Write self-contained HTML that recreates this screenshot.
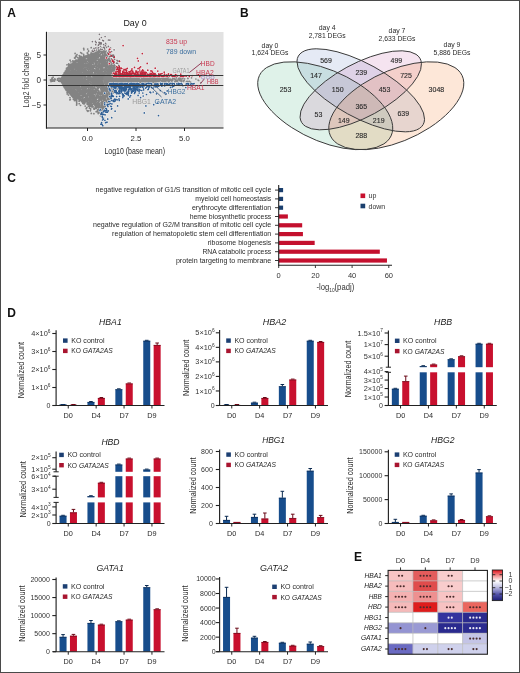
<!DOCTYPE html>
<html><head><meta charset="utf-8"><style>
html,body{margin:0;padding:0;background:#fff;}
body{width:520px;height:673px;overflow:hidden;}
svg{display:block;font-family:"Liberation Sans",sans-serif;will-change:transform;}
</style></head><body>
<svg width="520" height="673" viewBox="0 0 520 673">
<rect x="0" y="0" width="520" height="673" fill="#fff"/>
<text x="7.30" y="16.90" font-size="12" fill="#111" font-weight="bold">A</text>
<text x="123.40" y="26.00" font-size="9.4" fill="#222" textLength="23.20" lengthAdjust="spacingAndGlyphs">Day 0</text>
<rect x="48.00" y="32.00" width="175.50" height="96.00" fill="#e2e2e2" />
<path d="M109.9 91.0h0M92.0 68.6h0M63.3 78.7h0M85.3 58.0h0M63.0 85.0h0M74.5 76.9h0M120.4 86.3h0M112.3 74.4h0M90.6 89.5h0M63.8 80.7h0M76.8 94.2h0M64.0 82.5h0M113.9 70.3h0M115.5 87.7h0M103.9 50.1h0M87.1 65.4h0M80.1 92.2h0M79.6 64.1h0M103.3 77.0h0M109.5 66.5h0M79.8 91.8h0M91.4 80.5h0M74.6 61.5h0M65.3 86.2h0M82.8 100.0h0M84.8 100.5h0M94.5 65.5h0M106.0 88.9h0M102.4 78.0h0M73.8 84.2h0M66.6 84.1h0M99.4 72.8h0M109.5 64.7h0M84.2 93.6h0M83.6 89.4h0M98.0 105.9h0M121.5 83.2h0M110.1 63.6h0M104.2 100.4h0M84.9 82.3h0M89.7 104.0h0M79.7 74.8h0M86.1 86.3h0M118.0 87.5h0M111.0 64.9h0M85.1 59.4h0M113.2 88.1h0M68.7 80.3h0M76.0 78.9h0M94.3 58.1h0M113.6 71.5h0M87.7 58.0h0M72.1 74.0h0M117.5 87.1h0M89.8 77.8h0M101.4 101.9h0M80.9 92.0h0M84.7 84.2h0M105.7 79.4h0M102.8 92.4h0M62.4 77.3h0M73.2 69.0h0M63.0 77.1h0M97.3 102.5h0M81.7 73.3h0M85.8 88.7h0M108.7 98.9h0M83.3 89.0h0M81.2 93.5h0M74.3 92.7h0M91.3 92.2h0M93.2 70.0h0M90.6 56.5h0M62.7 80.3h0M89.6 97.5h0M94.5 79.5h0M97.1 93.3h0M92.5 83.5h0M90.5 86.2h0M75.4 81.2h0M101.7 61.4h0M121.4 83.6h0M119.2 75.7h0M87.5 68.2h0M113.4 67.9h0M102.8 64.9h0M64.1 75.6h0M102.0 80.3h0M94.0 77.5h0M77.0 78.7h0M117.2 72.7h0M105.4 65.3h0M72.0 73.5h0M65.8 88.4h0M82.6 64.7h0M63.7 76.3h0M85.9 84.8h0M120.8 86.0h0M75.0 83.4h0M117.1 70.5h0M113.0 74.7h0M108.5 69.8h0M98.8 80.5h0M66.5 85.5h0M111.0 77.3h0M84.1 100.6h0M83.2 97.0h0M86.0 73.8h0M82.4 59.5h0M77.2 68.4h0M63.9 80.6h0M87.4 56.4h0M69.7 91.5h0M68.3 76.3h0M118.9 72.2h0M85.4 94.3h0M64.2 86.3h0M102.4 65.6h0M89.8 67.2h0M115.3 89.7h0M64.4 80.3h0M71.4 76.2h0M106.0 91.1h0M71.8 73.8h0M86.4 74.4h0M102.3 97.8h0M80.8 76.6h0M64.2 78.0h0M118.7 79.4h0M94.5 86.0h0M95.2 97.2h0M76.1 72.2h0M115.0 78.3h0M119.5 73.0h0M108.6 77.0h0M89.4 99.9h0M68.1 80.0h0M75.5 73.3h0M110.7 74.0h0M108.6 55.4h0M119.2 82.6h0M72.2 84.5h0M71.8 75.1h0M71.3 90.0h0M75.1 91.4h0M63.6 74.6h0M110.7 58.8h0M74.0 70.8h0M96.2 63.1h0M120.4 77.3h0M95.4 84.2h0M77.5 88.6h0M121.5 81.2h0M65.2 85.4h0M101.3 79.6h0M100.6 65.8h0M78.8 79.7h0M64.2 81.3h0M71.3 71.4h0M115.8 80.7h0M75.1 86.7h0M121.8 85.8h0M109.5 70.8h0M96.2 84.9h0M65.5 83.5h0M92.3 81.3h0M105.7 55.5h0M75.8 62.9h0M79.4 81.6h0M62.4 78.4h0M75.9 66.0h0M109.1 99.1h0M116.8 77.6h0M64.1 77.8h0M92.5 73.6h0M105.3 93.3h0M115.6 77.7h0M74.8 94.4h0M114.8 68.5h0M73.1 84.8h0M110.9 95.9h0M94.2 95.6h0M94.5 81.1h0M74.8 84.8h0M96.1 105.5h0M71.8 67.0h0M81.9 71.5h0M88.1 63.6h0M103.8 99.3h0M116.4 69.4h0M79.0 78.5h0M86.3 66.1h0M105.2 98.8h0M74.1 67.2h0M92.2 61.2h0M118.3 86.0h0M111.8 74.8h0M108.8 73.2h0M88.4 60.2h0M62.3 81.2h0M72.0 94.3h0M95.0 84.4h0M115.5 73.4h0M73.6 77.8h0M69.4 73.2h0M105.7 72.4h0M81.2 67.4h0M112.3 87.3h0M97.3 82.5h0M92.2 58.7h0M95.3 107.7h0M88.9 77.3h0M119.4 82.2h0M111.3 79.3h0M62.6 80.3h0M99.0 55.7h0M89.8 103.2h0M102.3 104.2h0M69.7 89.4h0M73.8 80.6h0M107.4 58.7h0M89.6 99.2h0M82.0 92.7h0M88.2 102.7h0M84.8 95.1h0M64.7 77.3h0M69.0 76.8h0M85.1 67.4h0M86.0 88.8h0M95.8 65.4h0M104.1 92.3h0M86.2 78.0h0M70.7 89.6h0M82.1 70.0h0M117.6 75.1h0M72.3 75.3h0M92.0 86.3h0M84.7 88.5h0M87.8 77.5h0M77.1 91.7h0M88.1 59.8h0M81.7 78.6h0M82.3 61.4h0M115.1 69.4h0M105.2 75.1h0M90.7 89.5h0M90.4 78.0h0M90.4 77.9h0M80.8 62.4h0M82.6 87.2h0M110.8 88.3h0M81.0 78.7h0M110.5 80.6h0M109.7 86.2h0M64.5 87.4h0M97.4 66.0h0M90.3 57.3h0M107.3 85.9h0M74.5 91.2h0M93.9 103.9h0M110.9 62.4h0M74.7 92.0h0M62.0 77.8h0M110.3 67.9h0M81.0 58.9h0M67.9 67.3h0M97.9 59.2h0M111.7 77.5h0M97.2 89.4h0M72.7 89.6h0M85.5 79.8h0M67.8 73.5h0M88.2 91.6h0M88.4 83.3h0M106.9 73.4h0M94.8 105.0h0M62.4 79.7h0M100.6 79.5h0M66.4 80.1h0M64.9 72.6h0M81.0 65.0h0M91.3 103.8h0M111.8 78.8h0M108.4 95.8h0M112.2 65.9h0M115.3 68.8h0M105.5 53.7h0M78.6 63.8h0M98.5 69.2h0M95.1 64.2h0M84.8 98.8h0M97.0 79.2h0M66.8 73.8h0M69.7 76.7h0M106.0 94.0h0M66.7 72.2h0M82.3 94.9h0M90.0 82.2h0M78.0 81.2h0M97.5 70.5h0M97.3 94.8h0M81.9 77.3h0M68.1 73.4h0M115.6 84.2h0M96.3 97.1h0M70.9 74.6h0M96.1 100.3h0M93.5 59.5h0M62.7 75.8h0M115.5 69.6h0M110.2 59.1h0M111.8 85.2h0M89.3 79.0h0M73.6 94.4h0M76.9 69.9h0M107.8 82.2h0M92.0 84.0h0M66.9 70.8h0M120.7 82.9h0M98.1 83.6h0M74.6 66.7h0M81.3 83.0h0M117.6 78.2h0M79.0 98.1h0M78.4 78.3h0M89.6 56.6h0M66.6 68.9h0M83.5 87.9h0M87.7 80.0h0M113.6 74.9h0M66.3 83.4h0M61.8 80.1h0M82.9 76.1h0M105.1 98.9h0M119.7 84.4h0M110.8 95.1h0M83.9 72.3h0M61.7 79.8h0M63.5 76.6h0M85.6 75.6h0M107.4 76.6h0M103.8 51.4h0M104.7 94.9h0M81.8 85.4h0M68.5 87.7h0M120.3 84.4h0M98.4 96.7h0M100.1 55.9h0M116.8 69.1h0M77.8 82.1h0M73.8 76.5h0M81.7 86.7h0M92.1 97.9h0M98.5 93.1h0M101.9 105.2h0M68.4 87.0h0M108.7 58.7h0M98.1 69.0h0M82.9 102.1h0M89.6 95.6h0M84.2 62.3h0M120.8 74.0h0M67.5 78.7h0M93.7 95.9h0M121.9 75.9h0M119.7 86.4h0M115.8 76.2h0M72.4 82.5h0M86.8 90.4h0M71.9 78.3h0M116.6 80.8h0M117.5 84.2h0M68.3 83.4h0M71.4 65.5h0M84.2 64.7h0M101.2 66.8h0M75.0 81.2h0M92.5 98.9h0M110.9 94.9h0M66.9 69.5h0M106.6 73.4h0M63.3 80.3h0M79.9 66.8h0M101.2 94.3h0M76.1 85.7h0M74.0 93.0h0M84.7 78.5h0M70.4 78.2h0M77.2 90.5h0M68.4 80.5h0M85.1 99.5h0M100.6 83.9h0M69.1 68.5h0M97.5 104.5h0M65.1 78.6h0M82.9 57.6h0M98.7 77.9h0M89.9 97.4h0M98.6 64.7h0M119.6 87.0h0M102.9 57.0h0M87.0 78.2h0M108.9 80.9h0M100.1 77.1h0M105.3 61.6h0M115.7 86.8h0M116.6 89.0h0M108.5 68.3h0M116.7 85.8h0M89.3 59.5h0M120.4 74.7h0M70.7 81.0h0M113.3 71.0h0M72.9 89.0h0M95.1 83.9h0M96.9 97.9h0M108.4 67.0h0M82.5 102.0h0M93.5 70.2h0M115.8 73.3h0M88.7 85.0h0M107.6 88.9h0M102.6 62.3h0M81.0 90.1h0M95.8 103.5h0M78.3 62.7h0M64.2 87.2h0M120.7 85.3h0M86.7 64.9h0M93.3 65.8h0M69.9 81.0h0M95.4 107.5h0M70.6 81.1h0M103.9 109.2h0M113.5 64.8h0M92.6 104.6h0M72.1 95.1h0M76.6 74.8h0M101.9 51.3h0M70.3 88.1h0M78.9 68.1h0M116.4 83.8h0M113.2 86.7h0M91.8 63.2h0M103.1 83.2h0M105.2 89.4h0M108.9 57.8h0M70.2 90.8h0M102.5 102.7h0M63.5 80.3h0M69.8 66.2h0M71.8 71.3h0M64.5 82.3h0M96.3 90.7h0M120.6 75.9h0M75.1 72.0h0M110.5 84.2h0M106.5 64.5h0M68.3 78.9h0M116.0 72.9h0M107.3 89.0h0M82.7 88.5h0M117.1 72.8h0M76.2 75.0h0M72.3 75.9h0M105.4 99.6h0M101.2 82.7h0M117.1 72.3h0M103.2 72.8h0M118.0 73.3h0M75.8 64.5h0M88.2 89.8h0M78.1 95.3h0M109.6 68.1h0M97.4 89.1h0M68.5 83.5h0M98.8 102.0h0M78.4 64.2h0M93.7 99.9h0M67.5 72.5h0M66.5 90.5h0M65.7 86.7h0M87.1 56.5h0M63.8 76.7h0M62.4 77.5h0M63.9 75.1h0M66.1 78.3h0M111.2 88.7h0M92.9 56.2h0M118.8 71.2h0M106.4 85.8h0M107.0 66.6h0M115.4 87.8h0M62.7 84.1h0M112.9 77.3h0M109.3 96.5h0M115.6 73.0h0M70.6 83.9h0M87.6 98.2h0M88.0 63.0h0M83.3 100.8h0M103.3 59.9h0M71.6 75.6h0M118.3 79.6h0M76.7 67.9h0M75.3 80.6h0M73.2 65.6h0M111.0 84.0h0M96.9 65.8h0M86.0 98.4h0M76.2 76.6h0M66.1 77.6h0M65.3 84.8h0M121.9 73.2h0M82.3 99.8h0M67.5 87.3h0M66.8 78.9h0M108.6 91.9h0M109.8 70.5h0M93.5 59.7h0M121.6 83.3h0M84.4 79.4h0M96.2 71.9h0M80.5 96.8h0M69.9 92.6h0M94.0 77.9h0M88.6 57.1h0M98.3 51.1h0M98.8 93.0h0M62.6 80.1h0M72.8 93.6h0M82.0 65.8h0M86.7 71.3h0M68.9 87.2h0M73.5 93.5h0M105.7 99.7h0M105.2 101.5h0M116.1 79.7h0M117.1 78.2h0M81.2 93.9h0M76.3 75.6h0M111.2 73.9h0M100.6 59.2h0M84.8 85.3h0M90.8 75.0h0M88.7 98.4h0M85.6 91.6h0M113.1 75.1h0M81.1 61.2h0M101.8 98.4h0M99.3 66.8h0M103.6 63.4h0M109.9 96.8h0M80.2 83.5h0M88.2 71.8h0M115.3 73.7h0M109.1 89.6h0M66.9 87.4h0M83.3 73.5h0M87.6 75.2h0M86.1 92.4h0M79.3 64.6h0M106.9 74.8h0M93.4 62.1h0M101.8 87.1h0M99.4 105.7h0M64.6 80.3h0M62.9 78.7h0M99.9 98.8h0M77.2 94.9h0M117.1 88.0h0M87.1 86.3h0M89.5 57.8h0M77.0 92.6h0M71.2 77.5h0M101.8 74.9h0M96.2 83.8h0M68.0 67.9h0M99.3 83.5h0M120.5 73.7h0M65.4 86.0h0M115.3 90.3h0M84.6 82.9h0M99.5 84.3h0M86.0 95.9h0M107.8 54.9h0M116.7 77.1h0M105.3 106.2h0M100.3 66.0h0M97.6 76.0h0M71.3 68.2h0M107.5 74.8h0M87.2 73.0h0M97.8 87.4h0M109.2 69.3h0M97.3 80.5h0M65.9 87.1h0M97.8 79.1h0M92.1 81.4h0M85.4 80.5h0M111.1 73.3h0M106.1 87.7h0M66.0 77.0h0M87.4 95.9h0M66.8 71.9h0M78.7 75.2h0M103.8 73.6h0M104.6 63.9h0M82.4 91.8h0M86.9 80.5h0M86.3 60.1h0M91.5 55.9h0M69.8 86.2h0M106.1 105.2h0M106.5 73.3h0M72.7 69.4h0M75.8 95.0h0M86.6 81.3h0M92.0 59.5h0M97.5 51.2h0M74.3 95.9h0M99.1 79.9h0M67.3 74.3h0M77.3 96.4h0M92.0 80.7h0M89.3 72.7h0M101.4 78.2h0M94.8 92.0h0M100.0 60.8h0M116.4 71.2h0M95.0 103.6h0M121.0 77.3h0M94.4 88.4h0M74.5 76.1h0M97.4 63.0h0M121.8 79.6h0M109.1 78.0h0M89.0 58.6h0M76.8 61.1h0M93.5 88.9h0M85.0 98.8h0M119.2 74.7h0M80.4 66.0h0M73.4 85.5h0M107.4 102.5h0M92.2 75.0h0M118.7 70.9h0M78.5 88.7h0M80.2 63.0h0M119.0 87.8h0M70.0 74.1h0M83.5 75.2h0M92.6 97.5h0M121.9 83.6h0M107.4 76.9h0M78.5 98.6h0M84.4 101.6h0M106.2 69.7h0M72.7 86.7h0M101.4 84.8h0M93.6 67.7h0M116.7 79.0h0M116.8 85.6h0M106.3 60.7h0M68.7 76.0h0M119.0 72.6h0M63.7 76.2h0M75.7 82.7h0M67.6 86.1h0M96.1 85.7h0M111.1 71.9h0M118.8 78.6h0M100.8 97.5h0M83.2 94.4h0M62.6 80.3h0M92.5 57.8h0M95.3 107.3h0M102.9 69.2h0M97.5 96.3h0M106.7 92.1h0M109.9 73.9h0M106.4 78.3h0M81.8 76.7h0M120.4 83.4h0M90.6 105.7h0M95.2 88.6h0M86.7 57.5h0M86.9 67.6h0M118.4 83.6h0M67.3 72.0h0M62.5 82.3h0M105.9 69.8h0M70.6 72.0h0M96.8 58.9h0M62.2 78.6h0M122.0 74.2h0M101.6 106.5h0M115.0 82.1h0M89.0 92.4h0M114.2 74.8h0M94.5 82.0h0M113.8 87.9h0M114.2 69.0h0M74.7 79.1h0M78.5 65.0h0M70.6 69.1h0M91.2 101.1h0M63.5 74.6h0M72.2 87.4h0M96.9 75.2h0M119.3 72.3h0M96.2 99.6h0M115.5 68.5h0M95.5 65.3h0M82.3 62.0h0M89.1 89.6h0M116.0 86.5h0M98.4 106.6h0M76.6 91.8h0M65.1 84.0h0M106.9 89.4h0M100.6 108.7h0M71.7 79.2h0M78.9 77.9h0M107.3 93.9h0M88.1 59.5h0M71.7 83.5h0M100.8 97.6h0M83.7 84.1h0M78.0 89.2h0M67.6 77.4h0M115.0 83.0h0M91.8 79.6h0M67.0 69.2h0M114.7 70.9h0M96.7 63.6h0M119.0 80.5h0M77.0 84.2h0M81.4 66.0h0M68.1 74.9h0M120.7 79.1h0M85.8 77.3h0M64.9 86.2h0M99.7 72.0h0M85.5 97.4h0M97.3 70.0h0M68.9 92.7h0M102.6 74.9h0M82.7 67.1h0M90.9 98.0h0M62.5 80.4h0M94.8 61.0h0M62.9 80.5h0M86.7 92.2h0M96.0 73.5h0M98.2 87.3h0M78.1 68.5h0M114.6 79.2h0M77.6 94.5h0M83.3 64.2h0M73.3 71.7h0M105.8 66.6h0M117.3 71.1h0M85.8 90.1h0M120.5 85.0h0M82.3 71.2h0M101.1 53.1h0M62.8 82.4h0M62.9 80.9h0M62.7 79.4h0M121.7 76.7h0M121.1 81.2h0M108.6 67.8h0M94.7 71.9h0M69.9 91.3h0M121.7 77.8h0M77.5 87.4h0M64.3 74.7h0M62.7 81.1h0M118.1 80.0h0M62.6 80.2h0M110.1 63.6h0M82.8 76.8h0M83.8 102.2h0M97.3 56.1h0M77.2 74.3h0M91.5 80.8h0M88.8 90.3h0M88.3 76.1h0M66.8 89.3h0M96.7 56.7h0M76.6 83.5h0M97.7 51.7h0M78.4 95.3h0M112.5 92.1h0M71.3 82.6h0M73.2 85.9h0M110.8 75.0h0M76.6 60.2h0M61.8 80.9h0M112.9 73.1h0M71.3 74.6h0M102.1 104.9h0M79.0 77.9h0M89.9 63.4h0M65.8 83.8h0M79.6 59.8h0M81.4 65.0h0M75.5 67.9h0M99.3 70.6h0M80.4 88.9h0M86.7 86.9h0M107.0 54.4h0M109.3 88.5h0M115.0 78.3h0M100.4 62.6h0M78.1 61.8h0M73.7 70.5h0M120.4 83.5h0M78.9 65.4h0M74.6 71.5h0M98.2 70.4h0M68.0 89.0h0M109.6 80.4h0M108.0 79.7h0M72.9 95.6h0M63.7 75.2h0M83.2 91.9h0M113.9 92.1h0M114.5 82.4h0M77.4 77.8h0M88.6 66.0h0M113.6 89.5h0M71.7 75.1h0M90.7 57.3h0M96.3 67.8h0M107.7 90.0h0M81.0 80.6h0M88.5 93.8h0M80.1 93.2h0M102.7 78.6h0M79.8 82.6h0M113.2 65.7h0M116.7 84.7h0M74.1 61.8h0M83.7 56.7h0M102.8 84.2h0M119.1 83.9h0M103.0 77.0h0M90.5 83.2h0M120.0 85.7h0M67.8 70.4h0M105.6 67.8h0M82.5 64.6h0M63.0 77.1h0M106.4 84.7h0M88.4 91.6h0M101.5 62.1h0M95.1 62.0h0M102.2 52.6h0M98.3 72.8h0M79.9 93.7h0M107.3 83.4h0M121.0 84.3h0M91.9 81.6h0M92.2 96.0h0M75.8 85.4h0M120.4 73.2h0M104.3 89.4h0M85.7 100.0h0M65.3 76.0h0M108.6 96.3h0M110.3 71.2h0M89.1 67.7h0M110.8 94.5h0M100.2 59.8h0M99.0 100.7h0M114.5 77.8h0M103.9 93.7h0M79.2 87.2h0M94.0 81.1h0M83.8 76.6h0M84.8 87.4h0M93.3 83.9h0M73.6 86.1h0M87.7 59.8h0M83.8 66.2h0M104.2 57.6h0M64.2 77.8h0M65.6 82.0h0M80.2 63.0h0M105.5 97.8h0M87.4 85.4h0M72.2 90.4h0M63.7 77.1h0M96.4 55.9h0M94.1 87.6h0M85.1 96.8h0M82.9 73.9h0M110.4 90.8h0M119.1 71.6h0M103.8 97.2h0M72.6 78.5h0M68.5 80.8h0M90.8 106.4h0M104.8 55.3h0M96.4 71.3h0M95.7 67.8h0M77.8 85.6h0M86.4 83.6h0M107.9 55.7h0M70.3 73.7h0M62.8 76.4h0M111.7 64.7h0M90.8 77.5h0M92.6 60.3h0M78.8 87.8h0M70.7 76.7h0M104.5 65.6h0M66.5 69.0h0M61.4 78.9h0M67.9 69.0h0M107.4 102.1h0M121.1 82.5h0M94.4 85.8h0M106.6 67.1h0M103.2 88.5h0M63.7 83.9h0M96.2 65.5h0M107.0 66.3h0M88.7 90.3h0M85.1 81.8h0M115.3 85.0h0M86.4 86.8h0M94.0 99.0h0M63.1 80.8h0M113.0 70.0h0M76.5 80.8h0M100.2 96.0h0M83.5 72.8h0M117.2 77.8h0M63.7 80.8h0M89.6 56.1h0M79.1 70.6h0M110.0 86.1h0M118.0 86.7h0M116.9 81.8h0M72.0 77.2h0M91.5 104.2h0M113.0 84.3h0M112.2 63.8h0M85.6 79.5h0M91.7 60.3h0M81.9 92.1h0M105.2 95.5h0M87.4 66.3h0M88.5 103.1h0M79.7 70.0h0M105.0 78.7h0M71.8 78.1h0M112.1 86.4h0M89.0 58.9h0M109.7 80.5h0M65.6 79.6h0M80.1 91.2h0M95.4 92.8h0M88.9 82.0h0M110.8 94.5h0M61.8 81.3h0M70.0 83.8h0M96.1 61.0h0M101.5 68.2h0M107.3 97.9h0M88.7 58.0h0M105.2 100.2h0M78.9 89.5h0M102.9 72.4h0M71.5 74.2h0M77.3 87.6h0M95.2 93.8h0M118.7 85.6h0M107.0 79.6h0M101.8 71.1h0M88.8 61.3h0M76.2 81.1h0M71.5 92.6h0M87.0 86.0h0M81.9 85.4h0M119.7 80.3h0M79.5 100.1h0M96.3 59.3h0M63.1 76.8h0M97.7 78.2h0M99.3 84.7h0M98.1 77.5h0M88.4 99.2h0M98.9 64.8h0M80.0 73.7h0M75.6 62.9h0M116.8 86.2h0M74.9 86.4h0M67.1 72.0h0M91.0 94.5h0M72.4 92.6h0M73.2 70.9h0M119.8 73.4h0M73.5 71.9h0M88.3 77.5h0M75.8 79.2h0M74.8 79.1h0M97.9 100.7h0M64.0 77.4h0M95.3 103.2h0M64.8 82.3h0M88.3 78.7h0M62.4 79.2h0M77.7 77.4h0M77.2 94.2h0M108.2 98.2h0M78.5 81.6h0M98.1 55.8h0M69.4 77.6h0M91.0 58.9h0M86.2 57.6h0M68.1 85.7h0M101.7 101.9h0M106.9 90.7h0M96.4 57.7h0M104.1 58.9h0M103.2 109.1h0M113.0 91.1h0M81.0 80.5h0M91.7 86.9h0M121.5 73.2h0M83.9 79.4h0M95.7 64.1h0M91.3 102.6h0M75.5 63.3h0M91.6 85.9h0M118.7 85.1h0M91.3 92.8h0M74.7 94.8h0M121.4 76.8h0M110.8 66.3h0M66.5 83.3h0M121.9 80.9h0M104.7 68.9h0M118.3 71.8h0M75.3 90.0h0M117.8 86.6h0M105.8 63.4h0M81.5 82.4h0M98.3 82.1h0M106.0 64.1h0M104.6 78.0h0M71.6 65.6h0M92.8 106.6h0M105.9 96.7h0M80.1 62.0h0M117.3 82.5h0M109.3 67.7h0M82.0 64.8h0M90.5 59.8h0M115.5 72.5h0M76.0 61.9h0M112.7 68.9h0M74.4 88.7h0M90.7 68.5h0M112.3 61.8h0M104.0 93.7h0M74.2 79.3h0M97.7 54.9h0M118.3 81.2h0M66.4 79.8h0M118.7 87.3h0M96.9 63.8h0M99.4 74.1h0M93.7 97.0h0M105.3 77.8h0M118.6 84.3h0M77.1 95.1h0M63.1 75.5h0M87.9 91.1h0M75.6 81.3h0M90.1 79.8h0M117.9 72.3h0M104.8 87.3h0M99.1 64.7h0M110.1 95.7h0M112.8 81.1h0M119.4 85.8h0M89.2 86.7h0M121.8 72.6h0M81.8 90.2h0M91.7 61.1h0M66.0 86.1h0M120.1 85.8h0M102.7 66.8h0M108.0 102.9h0M110.9 65.2h0M101.5 98.5h0M114.8 87.6h0M92.1 59.6h0M68.5 82.2h0M116.6 68.6h0M61.7 78.5h0M84.4 59.4h0M88.4 92.0h0M70.8 78.3h0M64.1 85.4h0M91.9 85.1h0M100.0 94.0h0M71.8 87.2h0M93.0 70.0h0M99.4 70.5h0M77.4 82.2h0M77.2 98.6h0M86.3 72.8h0M62.5 78.8h0M109.6 65.2h0M87.2 86.2h0M87.8 79.6h0M85.3 86.4h0M97.9 79.3h0M113.1 73.9h0M106.6 69.9h0M67.0 78.8h0M68.3 91.0h0M117.5 71.5h0M110.9 61.8h0M84.2 68.3h0M65.3 72.9h0M119.5 72.2h0M119.6 74.7h0M98.4 53.1h0M107.9 54.7h0M106.0 57.2h0M99.6 74.5h0M121.0 73.8h0M70.8 88.1h0M63.4 78.7h0M67.4 89.8h0M107.1 100.4h0M99.4 56.4h0M65.1 78.1h0M62.8 80.8h0M101.8 83.4h0M96.2 71.8h0M83.5 85.1h0M96.7 69.5h0M103.3 59.0h0M107.8 62.1h0M116.7 78.3h0M82.6 81.3h0M110.4 86.4h0M99.8 56.6h0M81.7 65.4h0M98.5 59.2h0M74.5 94.5h0M78.8 59.3h0M114.5 79.8h0M67.8 83.9h0M112.5 62.0h0M76.1 67.5h0M64.2 84.0h0M79.8 79.1h0M67.0 83.1h0M117.3 81.6h0M79.5 91.2h0M98.0 84.0h0M73.5 74.2h0M67.1 85.8h0M91.6 96.0h0M98.2 57.3h0M70.3 71.4h0M119.2 72.5h0M79.5 75.6h0M95.6 54.5h0M90.0 64.9h0M121.2 77.2h0M70.4 77.9h0M79.1 89.1h0M99.9 85.5h0M103.3 90.8h0M95.2 56.8h0M119.5 76.8h0M64.9 81.0h0M80.0 71.8h0M103.4 97.7h0M66.0 90.0h0M67.1 76.4h0M96.0 64.5h0M112.1 73.4h0M82.2 71.5h0M80.2 68.6h0M74.5 75.3h0M87.8 87.5h0M66.7 85.1h0M96.5 89.3h0M71.0 69.0h0M111.1 72.8h0M102.7 104.8h0M96.9 66.2h0M113.4 65.4h0M77.9 93.7h0M116.4 70.3h0M66.3 70.9h0M101.5 62.8h0M89.5 87.9h0M114.6 79.7h0M69.0 91.8h0M116.2 75.0h0M71.2 77.8h0M89.1 71.1h0M78.3 81.4h0M119.7 81.6h0M95.2 104.0h0M115.8 78.9h0M110.3 69.2h0M110.3 91.0h0M94.0 82.9h0M96.6 108.2h0M77.5 88.5h0M115.1 75.5h0M120.1 78.7h0M92.1 88.3h0M67.6 80.1h0M84.7 101.9h0M85.5 82.3h0M118.6 72.0h0M86.3 82.0h0M63.3 85.4h0M114.9 78.1h0M120.6 76.2h0M82.3 68.7h0M100.0 94.1h0M113.6 70.8h0M119.6 78.4h0M70.0 79.0h0M66.1 80.4h0M110.0 93.4h0M61.4 81.1h0M110.9 78.7h0M111.3 96.5h0M75.3 64.1h0M110.0 67.0h0M97.1 76.1h0M91.0 99.8h0M67.0 84.6h0M112.6 78.9h0M112.6 77.1h0M63.2 82.4h0M94.9 74.9h0M88.5 55.4h0M104.6 75.5h0M84.9 79.2h0M68.1 69.1h0M111.8 74.6h0M117.7 87.6h0M74.6 64.6h0M108.9 76.4h0M62.6 81.3h0M72.0 84.2h0M116.3 85.6h0M113.6 63.6h0M91.7 92.0h0M97.4 106.3h0M103.1 103.3h0M89.3 98.7h0M121.9 87.3h0M120.5 74.3h0M92.8 87.0h0M84.1 81.6h0M71.6 69.2h0M119.4 71.5h0M103.1 95.3h0M103.4 99.7h0M77.8 98.5h0M116.5 87.1h0M111.8 73.0h0M85.7 78.1h0M95.3 79.5h0M70.2 73.9h0M68.6 91.1h0M61.9 78.2h0M101.7 107.7h0M62.0 80.5h0M100.7 69.5h0M88.0 63.0h0M119.7 79.3h0M114.0 74.1h0M84.0 83.1h0M97.1 65.5h0M82.7 63.4h0M121.6 83.4h0M63.2 83.5h0M107.9 71.1h0M102.1 90.5h0M109.3 91.7h0M110.8 76.0h0M70.2 81.3h0M81.5 58.7h0M71.6 69.7h0M99.6 108.9h0M110.4 61.2h0M96.4 72.8h0M74.8 90.7h0M64.1 74.6h0M64.4 73.7h0M70.3 86.8h0M104.8 90.9h0M92.2 62.7h0M65.2 84.9h0M120.4 87.0h0M108.5 74.6h0M114.5 89.8h0M113.7 81.3h0M96.2 95.3h0M81.4 100.1h0M63.0 84.6h0M105.6 87.5h0M107.7 74.1h0M80.4 76.4h0M92.9 94.4h0M76.8 72.3h0M72.8 96.1h0M108.1 100.0h0M92.5 80.2h0M84.9 75.7h0M73.8 66.8h0M95.3 106.1h0M75.7 83.7h0M106.3 57.5h0M62.8 81.0h0M116.4 75.1h0M71.0 82.6h0M68.0 75.7h0M64.7 73.0h0M100.1 54.5h0M86.4 71.0h0M88.5 77.3h0M121.1 79.9h0M100.5 107.4h0M106.6 80.8h0M78.1 90.2h0M111.6 79.2h0M110.4 60.4h0M93.7 97.5h0M93.1 58.7h0M100.8 80.8h0M71.9 69.9h0M97.4 81.7h0M80.9 77.9h0M82.6 64.3h0M101.5 91.7h0M108.8 98.0h0M116.6 80.3h0M112.6 72.2h0M121.2 84.4h0M99.6 65.1h0M120.4 72.5h0M100.2 70.9h0M81.1 60.1h0M118.2 76.7h0M65.0 79.7h0M91.4 70.4h0M107.2 59.5h0M75.8 71.8h0M114.1 77.4h0M91.9 98.8h0M75.9 75.8h0M78.8 88.5h0M93.0 106.5h0M110.5 60.6h0M113.7 91.1h0M62.7 77.9h0M75.3 89.8h0M80.7 67.0h0M79.5 66.3h0M118.7 82.4h0M64.9 80.3h0M77.7 78.4h0M96.3 58.4h0M103.6 63.8h0M92.8 90.2h0M111.9 70.7h0M91.5 56.9h0M68.9 74.9h0M82.5 70.4h0M61.4 80.2h0M94.3 70.1h0M109.0 94.9h0M121.3 82.2h0M87.3 62.5h0M99.7 77.8h0M100.5 96.4h0M91.8 90.8h0M120.4 84.0h0M71.0 74.4h0M108.5 79.2h0M78.3 68.5h0M72.6 80.4h0M75.0 79.4h0M73.3 93.6h0M75.0 83.1h0M83.6 66.3h0M96.7 69.9h0M119.6 87.1h0M117.4 83.7h0M117.0 80.9h0M71.4 69.7h0M72.9 64.0h0M82.6 80.8h0M87.0 60.8h0M110.9 96.4h0M61.4 79.8h0M99.5 59.1h0M107.9 72.6h0M89.8 62.8h0M88.9 64.3h0M103.1 76.9h0M113.7 67.8h0M103.1 50.9h0M73.9 66.4h0M69.4 85.6h0M68.9 67.1h0M98.8 67.0h0M65.2 81.6h0M98.5 76.1h0M65.4 80.2h0M62.3 79.4h0M77.0 60.8h0M84.2 76.9h0M66.5 69.7h0M78.6 65.9h0M93.1 91.6h0M84.6 81.7h0M95.1 60.1h0M109.5 92.6h0M93.1 83.1h0M64.9 72.5h0M113.9 86.1h0M66.8 84.3h0M76.2 64.2h0M118.4 76.3h0M68.5 89.1h0M88.8 81.5h0M89.9 75.0h0M85.0 88.7h0M67.6 87.4h0M97.5 84.0h0M102.1 71.8h0M75.9 60.1h0M75.7 74.8h0M112.0 60.7h0M63.7 77.4h0M112.1 87.6h0M66.3 84.5h0M91.3 64.3h0M82.4 63.0h0M73.4 84.6h0M94.5 57.0h0M80.3 80.6h0M101.5 104.2h0M66.0 70.9h0M66.3 76.1h0M108.2 82.4h0M102.6 91.7h0M89.3 64.9h0M70.2 80.3h0M113.9 87.3h0M108.4 70.6h0M94.8 103.1h0M93.7 55.4h0M119.7 78.6h0M104.4 56.8h0M90.5 99.1h0M80.1 98.3h0M93.2 64.9h0M107.7 95.6h0M92.6 82.0h0M86.5 72.3h0M79.4 75.3h0M72.2 65.5h0M104.6 56.0h0M119.1 80.5h0M110.2 60.9h0M82.4 88.2h0M76.7 81.7h0M112.5 87.6h0M94.6 77.6h0M75.8 93.5h0M82.6 91.6h0M113.6 72.6h0M84.9 94.5h0M74.7 88.3h0M106.5 56.1h0M94.0 56.1h0M105.5 63.6h0M117.6 75.9h0M65.4 73.3h0M88.8 73.4h0M105.1 101.3h0M83.2 96.4h0M104.2 95.4h0M66.8 80.0h0M114.7 78.7h0M103.2 83.9h0M101.5 67.2h0M80.9 94.2h0M110.3 96.0h0M73.3 81.8h0M65.9 81.3h0M82.7 92.0h0M80.4 71.0h0M66.4 73.2h0M78.5 59.8h0M94.5 98.3h0M116.1 70.0h0M67.7 73.8h0M63.1 83.6h0M65.8 77.1h0M83.6 62.4h0M65.4 72.4h0M111.6 87.6h0M78.2 66.0h0M108.6 67.2h0M86.3 99.9h0M113.9 68.2h0M101.7 99.7h0M89.5 97.4h0M106.2 51.9h0M74.8 94.8h0M89.0 66.8h0M93.0 76.4h0M84.2 76.5h0M71.2 85.7h0M103.0 59.4h0M75.4 93.5h0M84.7 90.5h0M101.4 106.6h0M101.5 103.3h0M84.2 62.3h0M66.1 85.2h0M82.8 97.9h0M100.5 75.6h0M68.1 72.0h0M117.0 80.9h0M82.2 86.6h0M114.8 77.0h0M71.3 78.7h0M106.8 96.1h0M103.5 55.1h0M98.2 67.0h0M114.0 91.2h0M105.5 67.8h0M121.4 80.2h0M77.9 80.0h0M80.2 97.0h0M65.8 74.3h0M80.7 94.7h0M66.2 88.6h0M69.4 79.9h0M113.1 74.7h0M102.2 90.9h0M91.4 71.3h0M83.9 87.0h0M103.9 101.1h0M112.6 80.3h0M119.7 79.8h0M118.1 82.2h0M85.3 62.2h0M111.5 66.6h0M118.6 85.2h0M74.9 87.6h0M97.7 95.7h0M62.3 77.8h0M89.6 66.2h0M99.3 64.4h0M108.1 56.8h0M68.8 71.0h0M110.4 64.0h0M118.1 78.4h0M114.5 79.6h0M64.4 86.5h0M114.7 87.4h0M89.2 90.1h0M69.1 81.1h0M99.4 78.6h0M99.7 92.1h0M62.7 82.5h0M120.8 83.7h0M83.1 66.8h0M77.2 71.2h0M104.7 99.1h0M105.5 57.6h0M79.9 87.6h0M90.0 79.3h0M96.6 54.9h0M115.3 68.1h0M77.5 80.5h0M78.7 85.0h0M69.3 92.5h0M102.0 83.0h0M65.3 77.6h0M83.8 61.9h0M120.6 83.9h0M66.4 89.5h0M114.6 88.6h0M91.2 95.6h0M96.1 65.4h0M98.1 71.0h0M107.9 86.0h0M95.9 63.5h0M98.1 54.3h0M116.2 77.8h0M63.9 80.3h0M104.8 51.8h0M110.7 75.8h0M65.0 77.2h0M104.3 60.7h0M115.8 73.5h0M102.5 68.2h0M118.4 73.3h0M66.1 75.2h0M92.9 59.5h0M110.8 73.8h0M67.0 77.0h0M62.2 80.5h0M94.8 90.4h0M67.6 78.8h0M65.1 74.7h0M78.7 89.2h0M86.4 78.0h0M90.2 82.7h0M87.9 104.4h0M90.8 90.7h0M65.6 75.8h0M81.9 74.3h0M89.4 63.4h0M104.1 102.4h0M71.4 89.4h0M114.4 80.5h0M64.3 79.0h0M70.9 81.8h0M94.9 69.9h0M69.2 83.3h0M69.5 71.7h0M83.5 65.9h0M81.3 63.2h0M113.5 86.9h0M64.4 79.4h0M73.4 79.8h0M118.0 87.0h0M82.1 75.8h0M82.3 100.4h0M68.0 73.1h0M84.8 98.6h0M101.4 83.4h0M97.4 83.2h0M62.8 77.8h0M83.0 82.6h0M102.7 107.1h0M121.2 75.2h0M109.9 60.2h0M67.9 87.4h0M118.5 83.1h0M114.7 78.3h0M73.6 66.5h0M104.2 71.7h0M103.1 108.1h0M118.7 87.8h0M108.1 100.3h0M101.4 92.9h0M91.7 78.4h0M70.0 81.3h0M66.5 76.4h0M89.8 97.8h0M99.3 56.3h0M120.5 85.4h0M107.4 85.4h0M93.8 69.4h0M116.7 73.2h0M79.9 96.2h0M97.2 59.0h0M93.9 103.5h0M89.2 95.7h0M98.0 85.7h0M64.2 85.5h0M71.9 91.8h0M109.0 74.8h0M72.4 87.2h0M84.0 81.3h0M111.8 93.9h0M86.7 68.4h0M114.0 85.8h0M80.5 76.0h0M77.1 67.4h0M74.1 78.7h0M90.6 80.5h0M100.3 79.1h0M100.9 71.5h0M117.3 82.5h0M112.3 71.4h0M71.7 68.0h0M75.1 63.3h0M86.9 97.4h0M102.8 55.4h0M66.1 70.6h0M84.5 76.4h0M85.8 100.1h0M99.5 106.0h0M115.0 86.3h0M62.8 84.1h0M119.1 75.4h0M89.8 90.0h0M76.0 79.4h0M78.6 93.2h0M76.4 86.5h0M85.0 60.3h0M105.9 83.5h0M70.2 84.6h0M103.2 59.5h0M100.7 94.3h0M102.8 69.8h0M89.9 92.4h0M73.4 68.3h0M70.6 67.9h0M76.1 82.8h0M117.5 79.8h0M78.1 76.8h0M64.9 80.4h0M65.5 86.9h0M82.1 98.9h0M75.0 81.0h0M96.7 75.0h0M88.7 72.0h0M106.1 60.6h0M73.1 77.5h0M77.4 69.4h0M73.3 62.8h0M102.8 82.7h0M101.3 91.3h0M115.5 68.5h0M91.5 60.3h0M106.5 79.8h0M61.4 81.3h0M65.4 71.1h0M114.4 75.2h0M80.1 97.9h0M104.2 101.3h0M69.1 76.7h0M102.0 109.0h0M106.7 63.2h0M121.8 86.1h0M90.0 68.5h0M94.4 101.8h0M93.5 54.6h0M100.6 61.3h0M100.5 56.2h0M95.2 98.9h0M84.3 80.1h0M108.5 87.5h0M117.6 87.3h0M65.6 83.6h0M113.8 88.0h0M66.8 81.3h0M121.1 79.4h0M115.8 89.6h0M107.8 78.1h0M64.8 87.8h0M79.3 98.2h0M108.0 72.1h0M111.2 68.8h0M76.2 79.8h0M75.8 92.9h0M93.6 83.6h0M100.9 56.9h0M110.1 76.2h0M74.2 91.3h0M67.8 83.1h0M65.4 78.5h0M106.9 83.2h0M76.2 68.7h0M121.0 77.7h0M73.9 66.6h0M72.5 74.3h0M87.6 100.7h0M118.5 83.0h0M76.4 94.1h0M74.8 84.2h0M121.8 86.7h0M93.2 57.9h0M115.6 81.0h0M69.9 90.9h0M113.2 87.8h0M104.3 86.1h0M69.4 89.3h0M70.0 67.4h0M64.3 81.8h0M74.9 64.8h0M99.1 64.5h0M67.6 71.0h0M66.8 83.5h0M106.8 96.1h0M98.8 84.5h0M90.6 62.6h0M104.6 78.0h0M120.9 72.5h0M83.3 79.8h0M72.5 93.9h0M79.6 57.8h0M89.6 73.0h0M72.8 90.4h0M64.3 73.5h0M64.1 76.9h0M101.8 51.4h0M88.4 56.8h0M98.2 78.0h0M98.2 68.1h0M90.9 87.7h0M116.5 89.2h0M69.2 77.6h0M97.2 77.4h0M69.0 86.4h0M76.0 84.1h0M103.4 95.1h0M91.8 97.8h0M114.5 67.9h0M92.7 101.7h0M113.6 88.3h0M87.8 86.1h0M104.6 106.4h0M76.8 85.8h0M67.9 89.8h0M101.9 68.8h0M69.6 72.9h0M64.2 75.5h0M93.7 90.8h0M82.9 65.7h0M80.5 73.4h0M92.2 105.7h0M113.6 76.5h0M102.4 69.6h0M80.9 91.1h0M81.4 68.9h0M76.8 71.9h0M102.2 105.8h0M96.5 64.4h0M115.0 87.9h0M70.3 65.9h0M68.0 86.0h0M98.9 63.1h0M113.4 68.1h0M73.0 90.9h0M82.0 96.3h0M105.7 84.3h0M108.7 74.6h0M92.8 82.4h0M118.3 71.5h0M80.0 59.5h0M113.1 88.7h0M70.8 66.7h0M89.5 86.0h0M118.2 70.6h0M78.8 95.9h0M89.1 94.3h0M90.9 61.7h0M101.8 79.7h0M81.7 75.3h0M69.1 83.5h0M81.5 74.1h0M77.7 75.1h0M100.9 65.2h0M78.1 60.5h0M87.8 84.9h0M107.7 86.8h0M117.5 77.5h0M77.0 82.6h0M78.4 96.3h0M73.5 84.0h0M87.8 67.6h0M74.3 72.3h0M82.9 80.9h0M96.7 107.5h0M91.2 67.4h0M88.1 93.3h0M99.6 55.4h0M98.9 66.9h0M117.5 83.9h0M106.6 88.3h0M62.8 82.8h0M76.8 97.2h0M84.7 72.7h0M80.1 60.2h0M90.5 105.6h0M120.5 73.2h0M77.8 80.3h0M64.3 79.2h0M84.1 60.0h0M98.0 96.8h0M74.0 89.4h0M119.0 85.3h0M66.6 72.9h0M107.7 91.3h0M65.6 75.9h0M78.9 95.2h0M118.8 74.2h0M81.2 62.9h0M62.0 82.7h0M71.1 80.3h0M81.1 99.7h0M102.7 79.0h0M91.0 55.9h0M66.4 77.1h0M66.0 83.5h0M101.4 61.1h0M84.9 92.1h0M88.2 99.5h0M77.1 90.1h0M90.2 82.2h0M110.3 90.8h0M74.7 81.5h0M100.4 60.4h0M109.4 62.7h0M106.0 58.5h0M86.3 92.1h0M82.1 81.3h0M93.6 98.3h0M96.0 61.3h0M73.5 71.1h0M110.5 85.9h0M114.8 83.2h0M91.3 79.9h0M119.9 79.7h0M93.6 96.1h0M68.2 74.4h0M109.2 63.7h0M71.8 69.8h0M84.1 71.4h0M79.0 69.5h0M98.5 92.5h0M95.8 92.4h0M114.0 77.4h0M62.3 80.4h0M112.9 77.1h0M121.6 85.5h0M75.9 94.7h0M68.4 85.7h0M71.9 65.5h0M73.2 82.8h0M119.5 74.5h0M107.5 72.2h0M67.3 87.5h0M80.7 60.3h0M90.4 86.6h0M107.5 94.9h0M83.1 99.0h0M106.8 69.2h0M65.7 82.7h0M74.8 82.0h0M109.3 64.4h0M86.6 73.6h0M94.0 75.5h0M79.7 85.5h0M90.1 95.5h0M68.6 91.8h0M66.5 72.5h0M110.0 88.2h0M112.6 84.5h0M81.9 84.0h0M77.3 84.7h0M100.8 75.5h0M92.8 78.3h0M117.2 81.1h0M84.8 68.0h0M76.9 73.4h0M100.4 97.5h0M106.7 58.9h0M71.9 73.2h0M110.2 89.6h0M96.9 107.6h0M98.7 90.6h0M96.7 54.8h0M89.2 68.6h0M72.3 70.4h0M61.4 80.1h0M112.0 85.0h0M82.2 78.2h0M121.1 77.7h0M112.3 74.4h0M66.2 81.5h0M80.3 67.4h0M99.2 99.0h0M102.6 108.1h0M67.2 69.7h0M120.0 81.9h0M88.8 92.6h0M98.0 81.4h0M89.4 58.0h0M75.0 78.3h0M118.1 80.1h0M99.5 52.2h0M64.9 73.7h0M117.8 77.5h0M111.5 96.2h0M121.8 86.3h0M68.6 77.5h0M101.3 69.2h0M69.5 73.3h0M65.8 71.6h0M118.4 80.8h0M93.4 99.9h0M71.2 76.1h0M99.1 73.3h0M101.7 52.8h0M110.7 73.5h0M92.7 69.3h0M88.3 57.3h0M64.7 78.4h0M90.8 86.9h0M82.8 67.3h0M110.6 76.4h0M94.6 67.0h0M115.5 69.8h0M66.8 76.9h0M121.8 80.4h0M65.5 75.3h0M118.2 71.7h0M76.9 73.7h0M93.5 70.0h0M88.9 75.8h0M72.2 63.8h0M73.1 71.7h0M98.0 104.1h0M72.9 63.2h0M67.0 76.6h0M94.9 61.7h0M78.6 69.4h0M87.0 67.9h0M105.8 84.0h0M68.4 73.0h0M81.2 60.0h0M90.6 65.0h0M103.7 64.9h0M81.5 66.8h0M69.7 69.8h0M112.5 86.3h0M117.9 81.4h0M70.9 74.1h0M63.0 82.5h0M62.3 78.4h0M92.3 91.6h0M82.4 69.6h0M115.2 76.2h0M115.8 70.1h0M74.5 74.3h0M85.2 61.1h0M96.7 82.2h0M89.7 77.5h0M69.9 67.2h0M65.5 81.6h0M76.9 64.8h0M117.5 86.6h0M116.6 89.3h0M115.8 87.3h0M90.7 79.1h0M70.4 79.8h0M93.5 56.1h0M106.3 54.8h0M89.8 91.4h0M63.1 75.5h0M87.2 103.9h0M112.3 75.0h0M96.1 52.1h0M63.4 74.6h0M94.5 67.2h0M112.6 72.2h0M107.6 55.0h0M115.8 76.0h0M103.1 59.5h0M86.7 97.9h0M68.6 91.8h0M109.7 79.8h0M108.6 101.0h0M100.7 66.8h0M117.4 78.0h0M106.3 54.7h0M88.1 66.1h0M74.9 67.7h0M77.9 97.0h0M109.1 82.0h0M99.3 70.5h0M92.4 68.6h0M87.8 80.4h0M79.9 68.2h0M90.5 96.6h0M108.6 60.1h0M111.6 71.1h0M108.5 63.8h0M85.7 64.1h0M78.9 72.7h0M105.9 82.8h0M93.2 92.0h0M77.8 96.4h0M99.6 80.0h0M78.2 94.2h0M73.9 91.0h0M92.2 85.8h0M116.5 74.1h0M90.1 59.5h0M93.6 93.7h0M67.9 85.9h0M79.6 69.5h0M104.4 92.4h0M66.1 85.4h0M70.6 92.9h0M68.3 85.9h0M74.2 80.9h0M96.5 79.1h0M89.9 100.7h0M87.8 87.2h0M75.3 67.7h0M120.3 76.1h0M104.0 66.1h0M102.0 106.9h0M72.9 64.0h0M118.4 79.9h0M97.0 95.1h0M112.2 83.1h0M80.1 92.8h0M100.7 66.7h0M67.9 82.8h0M94.9 75.7h0M76.9 88.9h0M120.6 76.2h0M89.7 104.4h0M92.4 101.0h0M77.1 73.8h0M88.3 66.4h0M66.9 89.0h0M72.5 74.9h0M70.7 91.9h0M110.6 73.1h0M72.3 70.5h0M63.8 77.8h0M100.8 67.3h0M87.3 98.5h0M94.1 84.7h0M71.2 71.2h0M80.9 69.3h0M100.4 68.1h0M85.4 80.8h0M61.8 80.3h0M115.9 77.5h0M82.7 94.5h0M73.2 62.3h0M87.9 69.8h0M81.6 72.0h0M93.0 81.4h0M97.3 79.1h0M108.8 97.7h0M114.9 76.4h0M121.9 85.8h0M83.6 72.8h0M110.8 83.5h0M71.3 92.5h0M74.8 72.1h0M113.7 77.0h0M100.6 72.4h0M78.0 77.9h0M118.5 77.3h0M78.7 62.9h0M93.9 77.4h0M119.9 87.8h0M113.9 85.5h0M106.7 57.1h0M79.9 80.7h0M113.1 92.6h0M114.0 70.8h0M95.3 99.7h0M80.8 73.6h0M113.3 78.7h0M81.2 64.6h0M96.6 61.1h0M75.1 78.9h0M80.1 80.2h0M65.1 88.2h0M79.5 96.5h0M67.1 80.2h0M82.6 57.3h0M93.2 87.3h0M114.4 67.4h0M69.2 87.2h0M64.5 79.2h0M121.8 85.1h0M109.9 74.5h0M106.8 52.8h0M111.8 90.2h0M97.5 84.9h0M111.2 95.3h0M84.3 70.1h0M88.9 100.2h0M64.4 77.8h0M97.5 104.5h0M107.4 94.9h0M90.9 103.7h0M106.5 84.1h0M64.5 77.2h0M90.6 72.7h0M69.3 68.8h0M114.6 76.4h0M72.4 75.3h0M71.8 77.0h0M97.8 89.7h0M102.6 78.0h0M95.7 105.2h0M97.8 55.2h0M84.9 80.4h0M117.1 76.3h0M103.2 107.3h0M114.5 86.1h0M76.3 94.8h0M96.9 82.8h0M106.8 67.3h0M80.2 92.4h0M80.3 70.7h0M73.6 94.3h0M111.8 89.9h0M114.1 68.5h0M86.1 56.1h0M70.8 71.5h0M85.2 68.5h0M116.8 81.7h0M61.8 82.4h0M89.6 90.9h0M95.5 53.6h0M73.5 83.6h0M94.5 82.8h0M71.6 92.6h0M102.5 97.2h0M98.7 66.7h0M100.8 85.8h0M100.4 96.0h0M79.3 77.9h0M101.5 94.7h0M112.1 66.0h0M103.7 85.2h0M116.4 72.1h0M102.1 81.4h0M97.6 69.4h0M100.2 74.0h0M78.7 75.9h0M111.4 66.3h0M76.8 78.2h0M102.3 67.6h0M121.2 75.8h0M89.8 63.2h0M80.4 81.0h0M82.1 58.6h0M90.1 103.2h0M109.8 60.8h0M77.7 97.5h0M63.6 78.8h0M107.8 65.1h0M82.7 69.4h0M111.6 74.8h0M64.6 82.3h0M74.7 64.9h0M107.7 89.3h0M113.9 66.1h0M96.7 81.2h0M116.9 84.6h0M92.5 82.6h0M113.0 74.4h0M85.8 61.1h0M116.0 77.6h0M115.1 71.8h0M70.4 89.0h0M90.0 95.0h0M76.8 82.4h0M99.1 73.9h0M67.6 84.1h0M84.3 86.6h0M75.4 96.5h0M82.9 100.2h0M117.4 83.2h0M69.8 82.5h0M92.8 79.6h0M79.6 59.5h0M93.8 57.2h0M90.5 87.9h0M73.0 88.8h0M90.1 99.0h0M96.8 100.5h0M108.2 68.1h0M74.7 76.3h0M99.2 79.9h0M68.2 68.5h0M111.9 90.9h0M69.0 91.6h0M111.8 63.9h0M104.5 74.3h0M72.6 71.8h0M109.1 59.3h0M104.4 106.3h0M65.7 80.3h0M110.8 92.5h0M103.0 109.1h0M106.9 73.8h0M106.8 72.2h0M103.6 49.9h0M67.4 68.7h0M80.2 75.7h0M91.9 92.0h0M89.8 100.6h0M93.5 66.0h0M115.6 69.8h0M96.9 106.5h0M104.8 55.6h0M96.9 106.6h0M112.3 63.5h0M119.2 75.4h0M86.5 98.2h0M65.2 83.1h0M102.7 73.3h0M68.1 88.4h0M103.3 86.9h0M63.5 76.9h0M66.8 88.6h0M99.2 61.8h0M89.4 74.8h0M70.2 89.8h0M103.0 51.8h0M62.3 78.3h0M75.1 82.9h0M88.1 67.0h0M74.4 72.1h0M94.9 91.8h0M120.1 82.8h0M95.3 75.2h0M77.8 88.7h0M122.0 86.3h0M121.9 76.8h0M106.2 66.8h0M100.3 93.9h0M117.5 79.3h0M91.6 75.5h0M99.8 67.6h0M74.8 88.6h0M73.7 87.0h0M69.0 91.7h0M73.6 86.2h0M113.4 86.6h0M93.0 62.0h0M117.0 75.0h0M76.4 79.3h0M119.5 80.9h0M65.5 76.3h0M92.1 94.9h0M75.6 72.2h0M113.9 87.4h0M103.7 96.3h0M100.1 71.1h0M112.3 85.6h0M70.7 87.7h0M70.3 68.2h0M112.8 64.7h0M67.6 88.6h0M104.7 63.7h0M115.8 72.1h0M109.5 89.1h0M63.5 81.3h0M114.3 75.7h0M90.5 96.5h0M119.1 77.2h0M111.1 61.8h0M79.4 84.9h0M68.1 74.7h0M88.7 73.7h0M102.1 97.5h0M75.1 82.6h0M84.0 93.4h0M80.7 82.9h0M61.8 80.9h0M115.6 71.7h0M63.1 76.3h0M64.2 81.5h0M88.3 69.8h0M91.7 68.1h0M88.0 78.9h0M96.0 67.1h0M64.7 79.8h0M68.0 81.5h0M69.1 85.7h0M85.2 79.6h0M117.5 81.4h0M95.9 97.7h0M96.8 94.8h0M102.9 90.0h0M65.2 85.1h0M99.3 71.8h0M77.5 92.7h0M76.0 61.1h0M85.3 72.2h0M106.9 54.6h0M106.6 57.8h0M112.3 84.2h0M67.6 86.7h0M63.0 79.4h0M116.6 80.9h0M109.1 83.7h0M111.9 73.8h0M82.5 59.6h0M113.4 64.1h0M73.9 95.6h0M71.3 89.2h0M79.4 71.8h0M70.4 89.5h0M99.0 93.2h0M62.1 79.2h0M78.5 73.3h0M101.0 107.3h0M91.5 56.3h0M85.8 83.2h0M106.9 65.6h0M104.3 87.3h0M71.5 86.0h0M94.1 85.0h0M102.8 106.8h0M76.4 91.5h0M78.0 71.0h0M91.8 67.4h0M99.1 108.7h0M63.1 76.3h0M99.1 96.2h0M95.5 79.0h0M78.8 81.9h0M67.1 79.1h0M99.8 98.1h0M104.5 85.8h0M92.7 79.3h0M105.3 71.7h0M88.7 91.5h0M89.9 61.9h0M98.0 55.5h0M78.8 69.6h0M73.6 90.3h0M75.0 75.1h0M75.2 80.0h0M69.7 80.5h0M121.2 80.4h0M65.9 79.0h0M99.9 62.0h0M90.9 53.9h0M84.2 87.1h0M69.8 80.8h0M78.1 86.7h0M71.6 86.0h0M80.3 94.5h0M119.7 76.3h0M79.7 77.7h0M94.0 92.1h0M97.7 53.9h0M90.8 69.7h0M72.1 64.6h0M96.9 77.2h0M83.4 90.8h0M96.3 57.1h0M116.4 81.7h0M119.0 84.4h0M99.3 52.6h0M81.6 99.8h0M113.5 85.8h0M72.3 75.7h0M87.0 68.6h0M99.3 85.7h0M87.1 62.5h0M80.0 94.9h0M82.8 57.4h0M70.9 80.9h0M94.6 59.5h0M93.4 103.7h0M93.1 74.0h0M96.4 65.8h0M94.5 65.4h0M95.8 59.7h0M67.9 87.0h0M98.4 103.6h0M92.4 74.9h0M79.8 99.9h0M95.0 82.7h0M107.7 99.3h0M76.4 79.2h0M119.8 71.9h0M97.9 62.9h0M64.3 82.9h0M63.2 81.0h0M96.4 108.0h0M116.2 77.7h0M110.7 65.7h0M64.2 81.7h0M93.7 95.8h0M109.2 80.2h0M111.1 64.9h0M76.8 91.4h0M100.7 59.0h0M91.5 77.8h0M95.7 71.7h0M121.6 86.2h0M71.3 79.6h0M109.4 64.9h0M92.3 72.0h0M102.0 50.2h0M79.4 80.3h0M82.1 64.9h0M113.7 88.2h0M63.8 83.1h0M80.3 70.7h0M73.2 73.8h0M102.9 90.7h0M106.6 55.8h0M101.7 60.7h0M95.8 97.3h0M70.3 84.2h0M115.1 66.0h0M68.1 74.4h0M80.5 61.8h0M75.9 77.4h0M98.8 103.0h0M109.9 75.1h0M108.8 95.2h0M84.9 65.3h0M72.8 89.9h0M80.1 67.5h0M101.0 85.0h0M109.4 90.6h0M67.1 68.0h0M66.5 89.1h0M72.6 64.9h0M85.4 83.4h0M111.1 69.0h0M110.5 71.4h0M71.7 66.0h0M90.6 70.0h0M81.2 76.7h0M114.1 73.9h0M87.1 81.7h0M64.9 79.2h0M67.6 75.8h0M102.7 82.0h0M102.0 51.2h0M93.2 68.1h0M101.5 90.8h0M68.8 90.1h0M68.6 91.3h0M104.8 66.0h0M110.0 94.8h0M116.5 70.0h0M80.8 97.0h0M79.6 72.6h0M101.5 77.0h0M105.4 68.5h0M77.1 74.5h0M74.4 82.2h0M65.8 76.9h0M76.4 65.8h0M91.2 94.8h0M106.8 90.7h0M103.7 58.5h0M87.5 100.0h0M117.5 72.7h0M107.3 61.0h0M67.6 71.0h0M113.0 76.9h0M113.6 67.8h0M115.0 75.3h0M118.0 74.5h0M105.5 53.4h0M106.3 101.7h0M114.1 79.6h0M87.6 81.8h0M120.4 83.2h0M84.2 102.0h0M86.5 95.1h0M105.6 61.4h0M96.4 62.5h0M97.9 53.6h0M67.8 91.2h0M102.1 88.9h0M82.3 89.1h0M83.0 95.0h0M62.1 79.3h0M88.9 58.1h0M116.3 89.7h0M89.0 66.5h0M88.4 82.7h0M67.2 82.6h0M107.3 52.6h0M119.6 86.2h0M103.4 109.4h0M114.6 67.5h0M98.2 74.4h0M103.8 87.1h0M70.4 83.3h0M111.4 75.8h0M65.8 81.5h0M118.0 73.7h0M79.9 60.9h0M67.6 77.4h0M116.8 88.4h0M110.8 82.4h0M115.9 69.0h0M86.4 86.1h0M85.9 71.6h0M109.7 92.9h0M111.8 79.7h0M84.4 90.9h0M99.8 87.0h0M72.7 95.0h0M104.2 71.5h0M90.8 105.9h0M72.9 93.4h0M103.8 101.5h0M87.3 71.7h0M98.4 60.3h0M108.5 84.5h0M98.7 54.3h0M110.2 85.8h0M89.1 104.5h0M110.5 75.6h0M73.2 84.4h0M63.3 77.9h0M103.8 59.8h0M86.0 85.5h0M115.0 85.8h0M105.8 76.9h0M98.7 61.2h0M70.9 78.7h0M78.6 86.6h0M104.1 87.5h0M116.6 80.2h0M61.3 79.1h0M104.3 95.5h0M73.0 78.6h0M108.9 97.8h0M119.7 82.4h0M79.3 70.0h0M111.5 84.8h0M94.2 103.5h0M119.7 86.9h0M88.7 56.9h0M115.7 86.7h0M121.3 77.0h0M110.6 70.6h0M76.1 73.4h0M100.1 81.8h0M86.3 84.7h0M62.9 80.7h0M74.4 88.2h0M94.0 102.5h0M116.9 71.1h0M111.9 92.5h0M72.1 67.1h0M90.8 89.6h0M114.0 84.9h0M70.0 84.1h0M91.5 81.7h0M97.0 95.6h0M74.3 79.3h0M109.8 91.6h0M79.8 74.2h0M93.2 101.2h0M86.8 84.4h0M65.6 72.6h0M117.7 71.6h0M102.5 55.3h0M120.7 82.3h0M105.9 66.7h0M108.0 95.4h0M103.2 68.9h0M73.0 74.9h0M101.3 72.6h0M104.3 94.7h0M87.9 75.6h0M71.7 82.8h0M91.5 61.4h0M80.1 69.4h0M71.7 91.9h0M63.0 76.6h0M68.1 91.7h0M119.2 72.6h0M78.8 89.8h0M84.3 81.6h0M113.9 79.3h0M97.1 85.7h0M111.7 71.0h0M67.6 87.7h0M111.8 62.0h0M112.5 84.8h0M102.8 53.5h0M92.6 106.8h0M85.1 90.3h0M102.1 85.7h0M113.5 92.8h0M79.7 71.8h0M65.2 78.8h0M121.1 76.5h0M114.4 90.4h0M114.2 88.4h0M85.9 92.3h0M111.5 77.2h0M109.1 60.0h0M90.7 73.4h0M84.2 83.8h0M78.3 93.2h0M80.1 79.5h0M120.1 76.8h0M63.9 78.5h0M69.1 75.8h0M91.8 79.4h0M119.2 86.9h0M74.5 65.8h0M76.5 61.3h0M86.7 60.0h0M92.9 84.1h0M88.0 55.6h0M108.7 55.6h0M76.6 87.2h0M104.7 82.9h0M73.3 73.0h0M93.0 59.6h0M72.2 64.7h0M99.1 54.3h0M67.9 74.2h0M113.5 82.4h0M96.4 106.4h0M109.3 74.5h0M103.5 65.3h0M93.0 76.3h0M97.2 105.2h0M104.8 80.0h0M85.6 59.8h0M99.9 73.5h0M77.6 85.2h0M119.0 74.4h0M62.0 79.6h0M82.4 75.2h0M112.8 72.2h0M115.6 80.4h0M102.3 109.0h0M90.0 95.6h0M112.3 86.8h0M106.4 62.8h0M74.1 80.1h0M85.9 68.8h0M91.4 78.1h0M110.7 81.4h0M77.9 65.5h0M76.1 60.6h0M90.5 94.1h0M113.0 80.4h0M90.8 63.3h0M112.0 84.9h0M83.2 99.2h0M85.0 102.4h0M64.9 74.2h0M84.8 87.9h0M121.2 80.4h0M97.6 81.0h0M114.4 76.2h0M115.9 82.5h0M110.1 69.7h0M76.9 82.7h0M86.0 87.2h0M70.4 75.8h0M69.4 73.5h0M89.8 87.3h0M105.7 69.0h0M68.0 79.5h0M66.8 76.0h0M110.0 68.3h0M114.8 77.6h0M83.7 90.3h0M62.7 79.6h0M119.6 83.8h0M107.9 82.1h0M69.9 72.2h0M116.3 81.3h0M108.7 83.2h0M69.1 92.3h0M102.8 63.7h0M101.4 77.0h0M72.0 81.2h0M101.9 53.1h0M90.8 69.8h0M110.7 67.7h0M79.8 58.3h0M113.8 89.8h0M90.3 59.0h0M104.4 75.5h0M72.1 78.3h0M63.9 85.9h0M111.5 89.8h0M70.9 72.8h0M94.2 101.7h0M75.1 85.4h0M101.7 110.5h0M68.3 88.5h0M113.9 77.9h0M92.0 59.0h0M99.5 82.7h0M69.4 93.4h0M76.3 61.4h0M121.6 83.2h0M69.5 73.9h0M116.0 69.1h0M64.7 74.1h0M90.9 65.8h0M64.5 82.2h0M96.3 67.7h0M64.6 73.4h0M81.2 73.2h0M118.3 84.8h0M80.7 76.8h0M93.6 59.3h0M91.6 56.5h0M116.7 70.6h0M90.1 61.7h0M113.8 70.9h0M76.4 71.8h0M112.2 75.1h0M86.4 62.8h0M78.2 88.0h0M95.3 62.7h0M115.1 74.7h0M109.5 92.0h0M113.1 79.7h0M119.3 82.8h0M87.5 90.2h0M62.7 80.7h0M100.8 53.3h0M119.5 79.5h0M85.1 78.0h0M79.2 99.3h0M87.6 69.7h0M79.2 87.2h0M95.3 72.1h0M113.5 68.8h0M100.1 96.5h0M89.4 87.0h0M70.3 75.0h0M108.1 99.1h0M63.6 81.4h0M85.4 86.6h0M70.1 82.9h0M100.2 59.3h0M106.4 66.8h0M97.3 90.0h0M100.1 65.5h0M93.3 103.7h0M112.7 84.8h0M101.6 68.7h0M74.5 89.1h0M90.3 70.9h0M115.1 81.2h0M114.3 66.3h0M72.5 63.8h0M97.7 94.5h0M79.9 66.5h0M95.6 99.0h0M82.2 80.7h0M67.4 87.7h0M81.9 64.6h0M77.0 86.8h0M76.6 85.8h0M70.8 79.3h0M61.3 78.4h0M80.6 91.4h0M73.0 76.3h0M120.0 70.9h0M109.1 96.6h0M64.5 85.5h0M70.6 79.1h0M117.4 82.8h0M93.1 71.3h0M103.1 89.2h0M119.1 87.4h0M101.3 99.9h0M101.0 61.4h0M99.5 54.8h0M65.4 82.5h0M92.8 56.4h0M69.0 72.6h0M94.0 102.7h0M108.2 95.7h0M80.8 73.1h0M65.1 86.1h0M86.0 97.2h0M119.0 72.4h0M95.4 63.0h0M109.3 85.3h0M104.8 97.4h0M69.9 87.0h0M94.5 65.9h0M88.9 102.9h0M93.5 66.2h0M69.1 78.3h0M110.8 71.4h0M114.5 79.6h0M97.0 105.7h0M103.3 91.6h0M90.0 93.7h0M114.5 71.9h0M100.9 57.8h0M72.9 68.0h0M116.1 69.7h0M109.8 57.0h0M64.8 77.3h0M102.4 64.7h0M78.6 62.9h0M68.0 85.0h0M117.7 79.2h0M107.3 65.2h0M105.7 95.5h0M73.6 95.3h0M95.9 67.6h0M62.5 77.8h0M102.2 84.6h0M68.3 91.8h0M117.2 88.9h0M83.4 71.4h0M96.1 73.1h0M104.1 106.8h0M109.5 57.2h0M87.6 97.2h0M62.8 77.6h0M77.4 63.5h0M94.3 104.2h0M111.1 78.1h0M83.3 96.0h0M104.5 60.7h0M94.2 67.2h0M121.7 77.1h0M92.2 101.6h0M101.5 98.0h0M77.9 87.6h0M90.8 72.8h0M107.8 72.0h0M98.9 73.4h0M80.0 69.6h0M72.4 89.9h0M87.6 86.3h0M105.2 61.9h0M92.2 96.3h0M73.9 80.6h0M82.5 96.0h0M96.0 57.4h0M87.1 56.0h0M86.7 82.0h0M115.1 73.6h0M119.8 88.2h0M101.2 51.2h0M73.5 65.8h0M88.0 76.5h0M66.8 77.5h0M119.1 80.0h0M65.0 80.9h0M105.2 90.2h0M80.8 92.0h0M116.0 76.1h0M104.3 69.6h0M88.3 102.4h0M84.9 59.0h0M114.0 89.0h0M112.8 74.1h0M105.3 55.2h0M107.3 72.5h0M67.1 82.7h0M74.1 85.4h0M63.9 76.3h0M93.8 57.6h0M120.5 86.6h0M98.8 101.8h0M105.8 82.2h0M65.2 80.7h0M106.9 77.2h0M61.3 78.8h0M113.8 85.6h0M67.9 76.3h0M120.4 78.1h0M85.2 90.6h0M116.3 67.6h0M96.7 63.8h0M97.2 68.8h0M77.0 71.9h0M102.0 98.2h0M111.1 65.5h0M104.2 89.2h0M98.2 102.4h0M68.9 92.6h0M108.4 76.5h0M109.3 70.0h0M100.2 86.4h0M117.3 71.0h0M103.7 101.8h0M61.7 82.1h0M117.4 82.5h0M112.8 85.1h0M75.6 79.1h0M65.5 72.1h0M119.9 79.1h0M114.0 81.5h0M92.9 63.1h0M100.5 109.4h0M73.5 95.9h0M72.2 73.0h0M71.3 77.3h0M88.1 73.9h0M67.7 90.1h0M77.0 65.6h0M65.4 87.8h0M85.4 60.5h0M120.2 76.6h0M82.9 99.0h0M69.0 85.5h0M80.1 89.9h0M93.3 66.9h0M85.4 93.6h0M92.0 72.5h0M79.6 99.1h0M90.1 82.5h0M110.6 86.0h0M99.3 78.6h0M111.1 87.9h0M82.9 101.1h0M72.9 64.4h0M65.6 89.2h0M74.1 70.8h0M83.3 72.0h0M117.2 86.6h0M69.1 71.7h0M101.5 63.2h0M113.3 81.6h0M68.6 83.9h0M99.1 101.4h0M99.4 103.6h0M81.4 61.5h0M98.5 54.1h0M119.1 87.2h0M111.3 82.6h0M96.8 53.7h0M110.3 83.6h0M102.2 93.5h0M89.9 57.5h0M101.9 107.7h0M79.8 85.7h0M64.0 82.1h0M111.2 63.0h0M83.2 85.5h0M98.3 86.1h0M110.4 65.8h0M110.7 73.2h0M110.0 91.7h0M67.4 84.6h0M72.7 80.6h0M114.6 70.5h0M107.3 85.3h0M109.6 79.3h0M66.6 75.5h0M75.2 96.5h0M120.3 81.6h0M99.1 72.6h0M80.0 93.1h0M96.6 103.1h0M115.8 89.6h0M73.4 81.1h0M99.9 82.9h0M114.5 75.0h0M101.2 105.9h0M121.3 79.4h0M100.1 96.0h0M84.1 58.4h0M92.8 55.9h0M69.0 86.4h0M65.0 85.8h0M93.6 83.3h0M76.4 88.2h0M64.3 83.9h0M82.7 67.3h0M117.1 74.7h0M88.7 57.9h0M80.1 95.1h0M113.1 73.3h0M112.8 82.3h0M75.4 87.5h0M94.3 58.1h0M67.2 81.8h0M117.2 86.4h0M87.5 90.1h0M65.3 73.3h0M82.3 91.8h0M87.5 55.7h0M71.7 65.1h0M106.3 55.2h0M80.6 84.7h0M112.1 91.0h0M81.5 83.0h0M89.0 78.5h0M90.8 97.9h0M85.1 95.5h0M84.2 62.7h0M69.6 75.9h0M115.9 73.4h0M114.8 73.3h0M105.6 93.2h0M114.4 89.9h0M90.9 69.8h0M101.5 50.8h0M104.6 102.2h0M110.4 88.2h0M69.9 64.9h0M63.2 75.0h0M113.6 68.4h0M101.9 62.0h0M75.4 72.1h0M74.5 83.9h0M69.5 88.8h0M96.5 91.3h0M65.1 80.0h0M98.0 93.4h0M65.1 82.6h0M66.2 83.7h0M70.6 94.5h0M89.6 66.3h0M106.0 52.5h0M101.5 104.1h0M112.9 73.3h0M78.5 97.3h0M121.2 82.0h0M99.7 109.3h0M63.7 85.3h0M76.4 84.1h0M87.4 103.8h0M82.5 84.1h0M67.5 75.5h0M115.6 84.1h0M63.0 82.5h0M111.1 63.0h0M62.3 80.5h0M118.7 85.0h0M88.0 82.7h0M66.4 84.2h0M79.1 99.0h0M111.9 61.7h0M81.6 71.7h0M99.5 62.1h0M120.5 77.1h0M107.6 101.2h0M100.5 96.5h0M108.4 93.0h0M96.3 103.0h0M118.7 79.5h0M74.1 94.2h0M79.7 94.8h0M75.0 65.4h0M61.8 81.1h0M92.1 60.5h0M109.5 92.2h0M74.5 89.0h0M83.5 75.0h0M85.6 75.0h0M85.0 72.1h0M99.6 98.4h0M76.6 81.6h0M63.2 81.8h0M87.2 104.3h0M116.6 87.8h0M90.4 86.4h0M109.4 72.2h0M87.8 75.2h0M67.0 83.8h0M69.7 80.0h0M91.3 101.0h0M110.4 88.3h0M99.6 63.7h0M71.8 65.2h0M80.7 69.0h0M89.8 75.5h0M70.5 85.1h0M112.1 89.0h0M88.8 99.0h0M115.7 70.4h0M104.7 52.3h0M92.5 94.4h0M118.5 86.6h0M63.9 81.2h0M109.8 76.3h0M93.8 80.1h0M61.9 77.3h0M107.8 77.5h0M114.1 68.6h0M88.7 79.1h0M112.2 74.6h0M85.1 81.4h0M92.1 90.4h0M64.9 87.5h0M85.2 65.2h0M72.5 84.9h0M81.0 64.3h0M71.7 86.8h0M82.1 98.0h0M90.2 74.9h0M119.5 70.9h0M67.5 84.7h0M71.8 85.5h0M93.0 60.9h0M87.7 87.1h0M103.4 98.5h0M102.0 81.3h0M71.3 72.9h0M71.7 67.9h0M67.8 85.1h0M66.0 70.8h0M121.1 79.7h0M71.4 64.1h0M98.9 76.2h0M67.8 69.3h0M121.9 81.4h0M97.8 54.9h0M103.9 60.9h0M66.3 72.3h0M85.4 82.3h0M117.9 88.5h0M92.1 83.7h0M114.4 71.8h0M112.1 72.9h0M73.8 76.3h0M101.9 97.4h0M85.2 77.8h0M101.2 64.6h0M82.9 70.1h0M78.3 88.3h0M92.7 93.6h0M69.7 71.1h0M67.3 86.4h0M67.9 82.5h0M69.6 84.8h0M74.8 82.4h0M110.8 59.9h0M84.3 74.0h0M64.8 79.5h0M117.2 70.6h0M115.9 73.7h0M101.0 90.0h0M121.6 80.6h0M78.6 72.5h0M114.9 76.4h0M109.1 89.7h0M78.3 69.5h0M83.7 90.4h0M71.8 90.9h0M90.2 69.8h0M74.6 84.9h0M118.5 83.2h0M80.4 62.6h0M100.8 89.0h0M100.2 59.6h0M91.5 100.6h0M88.5 93.0h0M80.9 75.1h0M65.9 78.0h0M121.6 83.7h0M121.0 76.8h0M115.8 68.7h0M111.0 65.0h0M63.3 85.6h0M81.4 85.5h0M110.4 75.2h0M90.3 100.9h0M94.8 83.6h0M66.6 74.7h0M75.8 65.8h0M74.5 91.6h0M70.4 90.5h0M117.8 74.3h0M115.4 67.4h0M77.5 94.0h0M99.3 86.7h0M100.1 83.7h0M102.2 94.8h0M97.4 71.2h0M109.8 89.5h0M96.1 59.2h0M107.6 83.1h0M108.6 57.9h0M102.8 105.1h0M114.1 71.3h0M99.3 103.7h0M83.2 90.4h0M85.7 65.2h0M105.6 73.4h0M87.2 94.7h0M75.0 69.6h0M105.7 51.5h0M82.8 69.5h0M69.3 87.9h0M100.5 99.8h0M115.9 89.1h0M71.1 66.9h0M99.9 100.0h0M103.2 70.2h0M83.5 93.7h0M121.4 75.3h0M109.9 79.8h0M106.5 104.7h0M63.2 82.8h0M101.1 59.1h0M113.7 78.2h0M117.5 79.5h0M88.1 79.0h0M92.1 63.2h0M97.7 71.9h0M101.3 99.8h0M72.4 69.7h0M82.5 101.2h0M79.3 67.0h0M89.9 90.7h0M96.1 56.8h0M113.8 71.4h0M95.7 105.1h0M111.7 64.2h0M71.5 77.9h0M61.9 79.0h0M121.2 73.2h0M104.5 77.4h0M65.1 74.0h0M119.7 77.6h0M107.9 100.8h0M87.7 65.6h0M88.5 88.7h0M108.1 101.2h0M83.9 73.6h0M118.6 77.1h0M83.6 61.3h0M98.7 91.8h0M87.4 95.0h0M72.6 89.2h0M78.5 61.2h0M117.7 72.9h0M93.0 62.6h0M121.0 80.7h0M96.6 95.6h0M116.9 89.0h0M76.3 68.2h0M108.2 88.1h0M71.5 77.1h0M71.4 81.2h0M96.9 52.4h0M117.0 86.3h0M120.6 74.5h0M103.6 107.9h0M85.7 98.9h0M90.1 66.3h0M109.6 87.8h0M79.0 98.6h0M104.2 107.7h0M62.3 82.1h0M74.5 75.1h0M76.4 96.5h0M95.9 71.5h0M69.6 75.9h0M103.6 69.9h0M91.9 84.1h0M99.0 64.0h0M95.5 97.9h0M73.6 82.3h0M99.8 62.5h0M104.9 105.2h0M79.5 70.3h0M70.7 69.3h0M98.7 68.7h0M102.4 95.2h0M83.0 99.8h0M102.7 57.9h0M99.9 83.9h0M118.2 73.9h0M121.5 84.7h0M82.5 100.4h0M75.2 76.6h0M83.0 93.1h0M112.1 70.3h0M81.4 57.9h0M85.0 80.9h0M96.2 84.2h0M100.2 80.8h0M87.8 81.3h0M78.4 68.9h0M72.2 74.1h0M62.0 80.8h0M110.7 87.9h0M78.0 86.3h0M112.7 77.6h0M82.8 79.8h0M98.9 81.5h0M78.8 79.1h0M82.3 59.7h0M69.1 69.4h0M76.9 84.5h0M77.1 76.1h0M70.3 89.6h0M97.6 89.7h0M85.0 90.0h0M89.3 84.3h0M64.4 85.8h0M86.7 80.8h0M74.4 72.4h0M82.3 75.9h0M111.8 82.2h0M83.2 94.4h0M103.6 83.7h0M120.5 83.7h0M94.4 61.3h0M111.7 89.6h0M93.3 97.1h0M112.5 64.4h0M90.1 90.5h0M94.4 85.6h0M70.9 85.6h0M101.3 53.4h0M77.4 68.3h0M90.1 84.6h0M64.1 73.8h0M78.9 78.4h0M91.3 94.2h0M98.8 103.1h0M61.8 79.0h0M87.8 64.3h0M62.9 81.3h0M120.0 80.3h0M94.0 55.6h0M93.5 68.0h0M109.6 57.3h0M102.1 78.8h0M108.4 74.2h0M120.6 75.1h0M107.4 56.9h0M71.8 90.0h0M101.4 68.8h0M64.2 83.7h0M68.1 82.6h0M83.5 92.9h0M89.5 85.0h0M68.0 74.9h0M106.8 104.4h0M94.8 59.5h0M69.7 67.0h0M107.9 88.0h0M93.4 88.8h0M99.8 71.0h0M109.0 78.2h0M78.7 93.7h0M119.2 73.5h0M93.9 101.6h0M79.1 87.4h0M75.1 97.3h0M66.4 86.0h0M108.5 71.6h0M79.5 67.9h0M91.2 56.1h0M75.3 69.2h0M85.8 87.0h0M74.9 72.0h0M114.7 74.4h0M90.8 93.4h0M81.5 96.7h0M103.2 83.8h0M80.9 74.4h0M101.3 51.6h0M96.3 65.2h0M84.8 58.6h0M68.0 72.2h0M114.5 80.5h0M88.1 86.6h0M96.2 54.9h0M72.8 77.8h0M88.8 80.0h0M64.5 81.8h0M96.0 78.5h0M102.7 103.8h0M98.7 70.2h0M76.5 92.9h0M77.2 96.9h0M64.0 79.0h0M85.0 57.1h0M115.3 74.0h0M113.5 72.8h0M81.7 86.6h0M82.9 93.2h0M99.1 77.3h0M95.2 63.5h0M84.0 62.7h0M86.7 75.4h0M84.7 79.8h0M118.2 70.1h0M96.8 100.8h0M110.0 83.8h0M92.9 65.4h0M119.4 87.7h0M75.0 97.4h0M92.3 54.1h0M78.7 67.7h0M74.1 70.6h0M79.3 78.4h0M91.9 90.3h0M95.9 96.9h0M110.0 71.4h0M68.5 82.3h0M64.4 75.9h0M76.7 95.2h0M81.0 84.8h0M82.1 74.8h0M94.8 72.6h0M111.8 64.2h0M77.7 92.2h0M114.8 81.1h0M119.7 79.1h0M70.5 91.2h0M121.3 82.2h0M117.9 79.9h0M67.9 67.8h0M62.5 81.5h0M94.2 103.4h0M104.4 63.5h0M84.3 70.3h0M102.5 88.1h0M66.7 71.0h0M61.7 81.8h0M106.0 58.9h0M95.3 102.7h0M76.9 78.1h0M104.4 72.8h0M83.2 64.8h0M95.2 93.5h0M70.3 72.9h0M112.4 86.4h0M113.1 81.8h0M106.4 77.5h0M105.2 68.7h0M118.2 73.7h0M70.4 74.0h0M75.2 76.5h0M104.7 53.5h0M108.3 96.5h0M64.9 84.0h0M97.8 84.8h0M71.4 83.3h0M118.6 71.7h0M76.4 78.5h0M70.2 71.1h0M110.8 90.5h0M104.2 65.2h0M119.2 78.3h0M88.1 95.9h0M62.0 79.5h0M63.8 79.7h0M117.3 85.6h0M81.6 101.5h0M113.4 80.4h0M100.8 88.3h0M76.2 92.0h0M94.2 71.3h0M109.6 60.9h0M87.2 83.6h0M92.0 59.0h0M65.7 71.3h0M79.4 64.2h0M83.2 59.6h0M119.0 86.8h0M98.3 72.4h0M121.3 80.1h0M74.6 79.8h0M113.3 85.3h0M84.4 94.8h0M115.3 70.0h0M104.1 76.2h0M78.5 97.9h0M110.3 85.9h0M108.9 83.3h0M119.6 76.6h0M81.0 99.9h0M105.5 65.0h0M114.0 69.6h0M81.7 99.3h0M120.2 80.4h0M117.3 81.2h0M117.1 78.4h0M62.5 78.9h0M110.5 68.1h0M65.0 85.7h0M77.4 90.4h0M100.0 107.7h0M65.9 81.5h0M63.6 83.9h0M85.9 63.6h0M120.6 76.1h0M81.1 59.3h0M103.8 87.7h0M115.5 89.4h0M121.9 83.0h0M103.4 102.7h0M74.1 81.6h0M117.5 74.8h0M114.8 75.3h0M78.3 72.1h0M94.1 103.1h0M90.5 86.4h0M112.4 71.6h0M101.2 103.4h0M95.6 53.1h0M74.0 73.8h0M65.2 83.9h0M95.9 59.8h0M73.5 75.2h0M118.1 82.0h0M94.8 87.2h0M68.3 79.1h0M85.7 85.5h0M118.2 74.6h0M65.6 82.5h0M97.1 74.6h0M116.3 73.5h0M80.6 66.8h0M62.2 76.8h0M67.4 88.5h0M92.2 96.8h0M64.9 81.7h0M92.6 72.0h0M114.1 64.7h0M80.4 79.0h0M99.3 84.3h0M88.4 84.2h0M86.4 101.2h0M81.0 62.8h0M93.0 95.7h0M92.5 104.6h0M70.5 74.3h0M74.0 75.3h0M70.4 67.9h0M73.3 94.6h0M97.4 53.6h0M70.2 83.3h0M109.7 83.7h0M114.4 68.8h0M112.9 90.6h0M96.6 103.2h0M118.9 79.3h0M116.2 71.9h0M97.1 88.8h0M89.9 66.7h0M86.0 71.6h0M121.0 81.4h0M65.3 73.8h0M101.9 55.8h0M111.1 65.4h0M109.3 75.0h0M80.6 64.9h0M79.6 96.3h0M81.6 100.4h0M98.4 51.1h0M108.4 96.8h0M70.2 76.9h0M82.0 69.0h0M88.2 95.8h0M119.6 76.9h0M113.8 74.3h0M73.2 80.5h0M89.9 78.3h0M111.5 65.8h0M75.5 84.3h0M80.7 92.4h0M68.5 90.3h0M70.3 82.4h0M103.2 103.9h0M106.7 85.7h0M62.7 82.6h0M89.7 76.4h0M103.2 105.9h0M69.4 80.1h0M121.0 86.0h0M82.0 87.9h0M116.9 75.0h0M83.0 98.8h0M69.9 86.1h0M84.3 100.7h0M96.4 95.2h0M70.7 64.9h0M81.6 98.9h0M71.3 91.8h0M87.1 103.1h0M84.2 77.8h0M70.8 82.6h0M86.6 74.2h0M84.6 92.8h0M75.1 87.8h0M99.1 60.1h0M69.4 84.5h0M80.2 76.8h0M108.9 75.0h0M107.0 60.9h0M119.6 72.5h0M69.2 70.2h0M106.2 100.9h0M114.5 78.9h0M66.8 90.1h0M71.8 80.8h0M69.9 87.1h0M117.4 80.0h0M89.8 54.9h0M94.9 76.1h0M121.4 72.0h0M87.1 89.9h0M85.9 101.3h0M97.1 76.5h0M97.9 72.4h0M104.6 80.0h0M92.2 56.5h0M78.0 65.0h0M87.5 74.3h0M108.6 64.3h0M118.7 84.4h0M74.9 95.7h0M85.0 59.1h0M90.0 86.2h0M101.0 102.3h0M107.4 72.0h0M95.7 82.1h0M92.8 89.7h0M116.2 88.0h0M109.9 66.1h0M68.7 84.2h0M97.3 62.2h0M84.9 64.7h0M73.7 90.0h0M70.4 93.3h0M106.0 93.0h0M74.4 90.2h0M79.7 82.2h0M74.2 63.4h0M83.4 82.0h0M73.5 92.9h0M78.4 75.2h0M103.2 65.7h0M91.6 90.4h0M100.5 70.4h0M92.6 55.2h0M95.3 72.1h0M62.0 82.5h0M73.0 85.6h0M78.4 72.8h0M100.2 100.1h0M65.6 72.0h0M81.1 58.8h0M80.8 75.0h0M74.0 78.7h0M75.3 70.1h0M65.7 75.1h0M101.6 51.5h0M90.2 73.7h0M114.6 70.3h0M76.5 84.3h0M71.3 95.2h0M77.6 77.8h0M119.5 74.5h0M98.6 88.0h0M118.9 85.9h0M88.7 59.1h0M113.8 80.1h0M104.4 75.4h0M76.6 66.1h0M96.6 98.6h0M71.5 76.2h0M87.9 86.6h0M95.4 81.7h0M73.0 65.0h0M65.0 81.5h0M96.0 88.8h0M112.8 81.0h0M100.9 99.6h0M86.2 88.3h0M119.8 79.1h0M70.1 80.6h0M117.1 72.6h0M113.9 70.2h0M116.0 73.0h0M98.4 67.3h0M94.4 102.7h0M72.3 67.3h0M67.7 84.3h0M70.4 66.7h0M101.6 80.8h0M120.9 80.6h0M103.2 85.4h0M105.0 104.5h0M97.2 54.3h0M63.2 83.7h0M92.6 53.0h0M108.2 55.3h0M115.1 73.7h0M84.0 57.1h0M95.8 101.3h0M118.1 73.1h0M97.6 90.1h0M85.5 88.7h0M70.5 65.6h0M100.1 74.3h0M91.8 65.3h0M114.4 77.6h0M101.0 59.2h0M68.9 66.0h0M63.1 80.2h0M96.5 96.1h0M96.2 67.1h0M106.7 94.4h0M70.6 67.4h0M77.4 98.0h0M68.9 88.0h0M65.9 84.5h0M84.5 82.0h0M89.7 105.7h0M63.3 74.8h0M69.0 78.8h0M113.0 71.7h0M85.4 72.5h0M71.0 82.1h0M104.8 56.9h0M82.7 59.2h0M106.8 54.8h0M86.5 95.6h0M96.3 80.5h0M61.6 81.0h0M112.5 62.3h0M97.3 78.1h0M109.3 82.8h0M89.4 84.7h0M70.4 92.2h0M118.9 79.2h0M68.0 71.5h0M67.1 86.7h0M117.0 70.2h0M107.9 85.7h0M106.0 71.5h0M85.1 72.6h0M78.3 87.5h0M110.0 81.1h0M106.5 95.7h0M73.3 77.3h0M64.0 76.2h0M71.6 83.4h0M74.5 87.4h0M111.9 60.6h0M97.1 75.6h0M105.0 56.3h0M104.2 75.2h0M70.7 74.3h0M87.3 56.5h0M107.6 97.8h0M74.3 85.7h0M115.6 89.6h0M89.4 60.1h0M75.6 71.3h0M121.3 84.9h0M79.7 83.3h0M105.8 76.3h0M107.6 54.9h0M97.9 55.0h0M74.6 70.3h0M93.7 98.7h0M104.6 85.8h0M118.1 86.5h0M75.3 83.8h0M72.7 83.8h0M81.8 78.9h0M74.6 94.0h0M120.7 81.3h0M100.6 107.3h0M110.3 85.6h0M95.7 77.2h0M100.2 59.6h0M82.2 64.2h0M77.4 74.0h0M97.5 65.7h0M104.6 78.4h0M108.6 100.5h0M84.9 72.8h0M67.2 78.8h0M93.2 63.2h0M103.7 101.3h0M105.4 107.3h0M68.3 90.1h0M95.4 63.7h0M120.8 84.2h0M93.0 94.4h0M86.6 90.1h0M116.3 86.0h0M120.6 82.3h0M85.2 92.7h0M107.8 55.7h0M91.2 100.3h0M65.4 85.7h0M80.5 78.0h0M70.7 89.7h0M116.2 81.0h0M116.8 86.8h0M66.1 85.4h0M98.9 67.7h0M91.5 67.2h0M62.2 76.9h0M115.4 68.1h0M118.9 77.2h0M113.7 78.4h0M109.9 76.2h0M68.3 80.6h0M72.7 81.0h0M80.4 65.7h0M96.6 59.1h0M68.3 76.2h0M68.1 74.7h0M71.3 75.5h0M75.1 68.7h0M99.8 78.6h0M111.4 66.9h0M62.6 79.9h0M78.3 81.9h0M113.8 73.7h0M116.8 80.5h0M102.1 59.3h0M85.8 86.5h0M102.6 96.1h0M101.6 57.3h0M112.7 68.1h0M79.9 82.1h0M65.9 83.5h0M95.0 103.8h0M102.5 107.6h0M62.2 77.1h0M103.5 95.9h0M97.2 74.9h0M89.8 59.3h0M61.9 78.6h0M107.8 96.4h0M107.3 101.4h0M84.4 71.4h0M94.9 70.5h0M67.7 91.1h0M100.0 83.2h0M71.6 89.2h0M64.2 72.9h0M67.6 75.3h0M97.2 54.3h0M107.1 69.4h0M104.8 93.6h0M102.5 108.9h0M90.6 75.8h0M102.1 94.8h0M83.6 84.4h0M77.5 88.4h0M107.1 86.4h0M104.7 97.1h0M108.5 59.5h0M100.1 73.1h0M95.2 104.3h0M104.5 51.2h0M110.6 71.3h0M109.3 84.4h0M100.0 75.7h0M98.9 92.6h0M87.8 98.2h0M86.9 74.2h0M85.7 69.1h0M105.5 89.9h0M119.0 85.5h0M71.5 78.5h0M80.2 75.3h0M77.0 67.1h0M103.1 66.5h0M106.5 86.7h0M107.6 99.3h0M98.0 67.3h0M103.1 78.7h0M77.4 70.9h0M76.2 95.8h0M63.7 83.1h0M88.8 92.5h0M108.9 72.5h0M92.6 89.5h0M88.9 66.4h0M63.3 78.0h0M72.4 79.2h0M68.7 84.6h0M84.5 73.1h0M85.1 93.5h0M76.0 73.7h0M120.0 84.4h0M103.5 57.8h0M109.0 58.9h0M72.6 86.9h0M111.9 93.1h0M89.6 62.7h0M75.6 94.9h0M87.5 100.6h0M83.8 78.9h0M84.9 101.8h0M89.1 104.7h0M71.0 78.8h0M83.9 84.8h0M77.9 97.4h0M71.4 68.1h0M116.8 76.5h0M101.2 80.4h0M79.7 86.8h0M94.6 60.3h0M103.7 93.2h0M120.3 78.4h0M81.2 88.2h0M105.4 52.9h0M70.4 77.1h0M98.5 107.4h0M106.5 79.7h0M92.7 102.2h0M114.7 89.5h0M97.3 61.6h0M102.4 77.6h0M89.4 101.0h0M70.8 87.0h0M96.6 52.1h0M75.2 81.9h0M101.7 69.8h0M66.1 89.0h0M108.6 55.1h0M115.2 75.7h0M101.1 67.8h0M117.8 83.0h0M108.0 101.9h0M74.4 67.2h0M61.8 80.9h0M72.3 70.5h0M65.0 81.6h0M67.0 80.9h0M98.3 75.0h0M62.9 79.3h0M78.7 92.9h0M86.0 80.9h0M74.6 93.5h0M117.3 76.5h0M97.5 92.9h0M99.0 101.0h0M94.2 86.7h0M100.8 60.0h0M119.5 79.6h0M112.0 73.8h0M72.0 70.9h0M110.9 74.3h0M117.2 78.7h0M104.5 65.4h0M90.0 69.6h0M61.9 78.9h0M80.1 79.7h0M64.5 84.6h0M76.6 95.8h0M114.2 85.6h0M64.6 73.1h0M77.9 83.8h0M89.3 101.8h0M64.8 86.3h0M71.2 68.6h0M104.9 91.7h0M109.0 71.6h0M101.4 58.9h0M76.7 72.0h0M114.1 82.0h0M66.6 83.6h0M90.3 102.2h0M102.8 81.7h0M114.5 72.6h0M65.6 73.0h0M94.4 82.1h0M104.0 80.1h0M105.7 100.0h0M77.4 87.1h0M66.1 79.6h0M108.6 72.3h0M80.4 92.3h0M95.4 55.3h0M62.8 80.9h0M110.3 72.4h0M65.9 81.6h0M63.7 78.6h0M117.5 79.4h0M62.4 81.7h0M108.6 67.7h0M77.2 94.2h0M117.9 75.1h0M113.3 79.9h0M76.2 76.2h0M71.2 66.0h0M117.3 87.4h0M96.7 83.2h0M78.9 84.8h0M84.2 91.5h0M94.4 82.4h0M97.5 78.8h0M109.4 88.0h0M117.2 80.9h0M110.7 89.2h0M119.6 72.1h0M82.6 92.0h0M97.3 54.9h0M86.0 78.4h0M92.6 78.2h0M63.2 81.9h0M106.2 79.7h0M101.5 97.0h0M91.5 77.9h0M96.1 68.5h0M74.5 71.8h0M118.2 86.4h0M115.0 78.3h0M92.8 70.9h0M101.5 90.4h0M102.4 101.7h0M109.8 76.6h0M99.2 92.6h0M119.3 73.3h0M88.0 82.0h0M113.0 75.2h0M89.8 71.1h0M66.9 89.5h0M86.3 85.6h0M84.6 69.3h0M74.7 88.1h0M89.6 102.0h0M91.6 74.4h0M92.1 90.5h0M77.0 83.6h0M102.0 109.4h0M97.4 65.1h0M97.3 105.3h0M82.4 60.5h0M105.4 58.2h0M121.0 72.7h0M75.2 82.4h0M70.1 77.1h0M76.6 87.3h0M81.3 70.6h0M99.1 108.0h0M76.4 88.2h0M73.6 81.0h0M65.9 82.0h0M70.5 74.2h0M61.6 79.1h0M104.4 70.1h0M72.4 81.5h0M68.3 75.8h0M93.6 78.5h0M62.5 83.6h0M106.0 91.9h0M74.9 90.8h0M108.5 67.7h0M91.0 68.6h0M82.4 73.9h0M62.3 77.6h0M84.8 64.5h0M72.4 68.1h0M107.2 70.1h0M117.2 82.3h0M74.0 95.4h0M112.1 80.4h0M69.3 77.0h0M78.5 83.2h0M82.6 88.0h0M92.0 92.7h0M121.0 74.8h0M79.2 64.3h0M78.1 96.5h0M105.6 87.6h0M63.9 86.3h0M92.6 104.2h0M67.1 80.7h0M98.9 99.7h0M100.2 51.1h0M98.6 78.7h0M64.7 77.8h0M91.8 98.8h0M105.1 60.4h0M117.1 75.4h0M101.7 100.3h0M102.5 95.7h0M72.7 79.9h0M112.9 78.5h0M81.0 92.1h0M120.3 77.1h0M73.2 68.5h0M108.2 89.4h0M121.1 78.5h0M107.5 96.1h0M107.9 99.5h0M87.0 98.1h0M62.8 81.4h0M79.6 90.6h0M73.9 64.4h0M106.8 94.5h0M74.6 96.0h0M62.3 82.6h0M91.8 101.5h0M74.3 90.2h0M114.2 76.6h0M98.5 94.8h0M81.2 74.8h0M68.9 77.5h0M80.9 87.8h0M94.6 100.2h0M95.1 103.8h0M95.4 64.7h0M111.3 93.4h0M65.0 79.1h0M101.5 76.2h0M89.0 81.5h0M92.9 99.5h0M73.1 76.1h0M103.7 52.2h0M79.5 61.6h0M113.2 84.2h0M109.3 57.1h0M79.1 94.6h0M82.5 71.1h0M109.5 72.8h0M111.8 66.4h0M98.0 97.8h0M118.4 81.0h0M68.6 82.5h0M70.3 64.5h0M116.2 88.9h0M94.3 61.8h0M116.5 78.0h0M106.8 100.6h0M113.7 66.7h0M74.0 79.8h0M90.9 95.0h0M94.5 96.1h0M96.9 91.7h0M61.7 81.4h0M97.8 92.9h0M106.5 64.8h0M101.5 73.4h0M85.0 61.5h0M68.0 85.2h0M94.1 54.6h0M117.6 71.8h0M73.0 88.5h0M96.5 85.7h0M87.1 101.7h0M79.2 68.5h0M87.8 67.6h0M95.0 78.9h0M79.4 71.7h0M109.4 60.5h0M108.8 55.4h0M109.1 58.1h0M104.0 76.1h0M91.5 104.5h0M71.2 93.6h0M75.4 80.4h0M117.7 84.0h0M79.2 79.4h0M71.0 74.9h0M65.7 84.0h0M108.8 88.1h0M99.1 105.9h0M100.7 97.5h0M88.1 99.1h0M114.1 91.0h0M70.3 79.2h0M66.2 72.8h0M72.8 67.8h0M96.6 107.0h0M113.4 85.7h0M74.8 74.3h0M88.7 95.6h0M95.5 89.5h0M81.9 82.4h0M64.7 86.6h0M76.5 85.0h0M62.0 77.2h0M118.8 87.5h0M83.4 80.8h0M79.3 64.0h0M100.8 85.9h0M65.0 80.1h0M113.4 89.7h0M77.5 98.0h0M113.8 87.2h0M92.8 83.9h0M75.4 96.9h0M111.2 76.2h0M73.3 81.2h0M85.5 77.5h0M106.0 53.2h0M108.4 74.1h0M85.0 60.9h0M84.5 69.1h0M85.2 66.7h0M72.7 76.6h0M101.9 107.7h0M77.0 94.0h0M96.1 63.3h0M79.3 62.9h0M107.6 54.8h0M99.5 78.7h0M65.6 74.5h0M118.5 80.8h0M62.9 76.6h0M89.8 87.0h0M63.5 84.3h0M77.3 88.3h0M81.6 99.3h0M97.2 57.0h0M83.4 67.5h0M106.2 60.6h0M81.4 93.2h0M72.1 90.5h0M114.8 72.8h0M77.5 92.1h0M110.2 84.4h0M98.9 104.6h0M75.8 77.4h0M78.8 94.2h0M121.2 77.4h0M77.6 81.1h0M88.1 87.1h0M121.1 83.7h0M104.4 62.8h0M72.0 75.8h0M115.3 85.2h0M114.5 84.7h0M75.2 67.0h0M106.6 101.5h0M74.5 72.7h0M79.7 100.1h0M112.0 77.0h0M83.0 60.4h0M107.5 69.1h0M121.8 84.2h0M118.9 81.9h0M73.4 76.9h0M63.6 81.2h0M113.3 74.7h0M109.6 96.5h0M91.5 60.4h0M72.8 84.8h0M90.8 95.2h0M89.2 101.5h0M70.8 92.4h0M92.3 66.7h0M98.7 51.6h0M119.1 80.0h0M90.3 73.1h0M87.3 57.3h0M62.9 81.7h0M91.4 95.2h0M104.3 91.0h0M90.8 83.1h0M92.8 61.1h0M83.7 79.9h0M71.2 73.5h0M75.0 74.3h0M97.6 69.3h0M111.2 90.1h0M75.7 65.8h0M74.0 62.4h0M90.2 66.5h0M76.2 76.6h0M98.5 56.2h0M102.2 76.5h0M83.7 96.2h0M93.9 52.6h0M117.7 83.8h0M83.2 73.6h0M88.7 100.8h0M80.7 63.4h0M74.5 88.2h0M104.4 55.3h0M114.0 71.9h0M103.8 95.2h0M65.3 83.4h0M70.8 88.0h0M113.4 87.8h0M95.7 76.5h0M70.4 69.2h0M96.2 78.6h0M70.5 93.8h0M104.7 101.4h0M110.4 69.6h0M82.4 65.2h0M76.3 83.7h0M82.3 80.2h0M104.3 52.5h0M80.7 83.8h0M115.8 67.4h0M70.8 65.2h0M74.1 88.4h0M73.0 78.3h0M118.0 71.2h0M94.6 83.3h0M67.4 72.3h0M110.8 65.7h0M77.0 77.0h0M85.3 64.2h0M65.3 80.9h0M115.2 66.7h0M96.7 54.9h0M107.8 102.1h0M71.2 67.8h0M85.0 64.6h0M78.8 84.4h0M99.8 108.5h0M74.7 77.3h0M120.2 75.7h0M98.5 104.7h0M102.5 59.6h0M114.7 77.7h0M75.4 83.7h0M89.8 100.5h0M84.5 65.2h0M78.0 85.2h0M96.8 55.1h0M83.4 74.6h0M89.2 91.0h0M77.8 60.1h0M62.5 80.7h0M82.8 67.5h0M79.9 85.1h0M75.5 77.8h0M92.2 59.2h0M75.8 97.0h0M81.9 73.6h0M83.6 82.2h0M106.6 87.8h0M119.9 84.9h0M114.1 81.5h0M88.9 76.7h0M117.9 70.0h0M98.8 78.4h0M110.8 89.0h0M74.3 78.9h0M89.1 86.8h0M101.3 78.4h0M65.5 89.0h0M96.6 104.5h0M103.0 78.4h0M120.0 79.4h0M91.8 92.1h0M108.5 98.6h0M111.9 62.1h0M84.8 78.2h0M80.1 94.9h0M69.4 70.2h0M66.5 71.1h0M100.8 58.3h0M98.8 100.7h0M85.1 75.1h0M99.8 97.5h0M116.2 79.3h0M76.4 69.0h0M80.0 82.0h0M104.1 107.0h0M115.1 76.0h0M99.2 79.1h0M104.1 61.2h0M103.5 57.2h0M67.4 83.1h0M97.8 97.4h0M107.9 76.0h0M78.6 94.8h0M75.9 81.7h0M65.8 86.6h0M79.1 89.8h0M115.0 81.4h0M107.4 63.8h0M65.2 73.9h0M96.7 98.3h0M68.2 90.2h0M112.1 71.8h0M63.0 79.4h0M117.1 78.7h0M65.9 89.8h0M99.7 108.2h0M84.5 79.5h0M74.3 78.7h0M68.3 86.2h0M79.3 77.5h0M92.3 85.2h0M80.0 62.1h0M74.7 81.8h0M103.0 58.3h0M80.3 68.2h0M115.1 84.1h0M105.0 95.4h0M117.5 73.5h0M89.7 59.7h0M64.0 77.3h0M109.1 57.7h0M89.7 61.0h0M89.5 77.4h0M111.3 93.1h0M80.2 63.8h0M90.7 97.0h0M87.6 67.7h0M86.7 96.4h0M105.1 75.0h0M106.7 64.0h0M94.4 66.1h0M71.2 88.9h0M80.5 81.5h0M115.2 71.7h0M65.4 86.0h0M113.4 72.0h0M85.3 70.1h0M63.1 84.0h0M111.7 75.6h0M115.4 85.6h0M121.6 77.6h0M81.8 87.5h0M92.4 73.9h0M107.6 74.7h0M90.6 61.2h0M117.0 72.1h0M102.6 82.9h0M103.5 65.8h0M103.8 64.6h0M77.5 85.4h0M72.7 66.6h0M82.9 100.1h0M83.2 57.1h0M79.4 88.8h0M80.3 80.7h0M94.9 58.3h0M69.7 77.4h0M106.1 105.1h0M73.1 90.2h0M86.2 70.5h0M105.5 96.7h0M86.9 98.1h0M108.9 59.5h0M109.8 80.0h0M90.1 91.9h0M71.7 75.0h0M118.8 84.1h0M86.0 72.2h0M110.5 73.0h0M110.8 79.9h0M109.4 66.2h0M98.5 100.3h0M70.4 67.5h0M106.4 87.4h0M104.3 61.4h0M105.0 101.5h0M93.7 92.8h0M86.8 75.5h0M70.5 67.3h0M62.7 80.1h0M92.4 93.2h0M83.5 88.7h0M95.0 57.6h0M80.7 58.7h0M97.2 75.1h0M78.1 98.8h0M98.0 73.5h0M69.4 81.3h0M116.4 71.2h0M91.5 58.2h0M76.2 63.4h0M85.0 76.9h0M102.6 54.6h0M80.6 74.8h0M104.6 95.4h0M118.4 80.2h0M111.1 76.6h0M85.4 68.7h0M89.8 91.1h0M105.8 84.2h0M64.0 81.9h0M95.3 62.1h0M102.0 65.6h0M81.5 83.4h0M100.2 76.7h0M112.2 69.1h0M61.6 81.6h0M63.0 78.1h0M80.4 70.9h0M112.5 67.7h0M62.5 77.5h0M82.4 101.7h0M87.6 99.4h0M85.8 87.5h0M102.3 86.1h0M89.9 90.0h0M109.0 56.9h0M80.7 80.7h0M91.6 102.2h0M87.8 57.6h0M77.2 68.0h0M103.1 90.8h0M78.3 76.3h0M105.8 83.3h0M86.6 64.9h0M87.5 93.3h0M82.9 87.7h0M79.9 63.2h0M108.6 56.0h0M74.2 90.4h0M69.2 87.8h0M87.2 65.7h0M94.5 73.9h0M120.2 75.2h0M74.1 89.7h0M116.1 88.2h0M97.4 87.1h0M81.2 68.2h0M100.3 70.7h0M68.7 66.7h0M102.4 89.3h0M67.4 86.6h0M84.3 65.5h0M113.4 64.9h0M94.3 74.1h0M75.4 69.2h0M62.0 78.7h0M121.7 74.2h0M100.6 79.3h0M121.1 81.5h0M83.1 60.3h0M82.6 63.3h0M75.8 91.2h0M99.2 96.5h0M110.2 96.7h0M112.6 83.1h0M95.9 84.5h0M90.9 61.6h0M74.4 87.4h0M73.7 85.5h0M103.2 84.4h0M118.7 83.1h0M72.8 92.9h0M78.3 60.1h0M74.2 64.0h0M94.6 67.1h0M101.4 97.0h0M111.8 87.5h0M67.3 84.6h0M88.7 77.4h0M69.6 76.1h0M94.3 79.4h0M78.0 91.6h0M89.7 66.5h0M83.1 74.1h0M62.8 78.0h0M97.0 52.7h0M77.6 98.6h0M70.8 92.5h0M70.2 71.4h0M96.6 86.6h0M67.1 80.9h0M65.0 87.3h0M119.7 72.8h0M117.8 80.7h0M81.4 71.6h0M74.6 85.4h0M94.4 54.2h0M79.1 59.8h0M104.9 88.0h0M89.0 80.3h0M118.3 77.6h0M93.4 69.5h0M112.3 87.6h0M89.9 99.7h0M89.1 64.2h0M120.8 73.5h0M118.0 84.5h0M74.0 78.1h0M92.6 88.1h0M61.5 79.4h0M95.1 90.9h0M121.4 76.2h0M86.0 80.9h0M115.5 80.6h0M80.2 98.8h0M103.3 60.8h0M72.3 71.6h0M80.9 77.2h0M101.3 68.7h0M100.3 92.3h0M102.7 52.1h0M84.0 78.2h0M72.7 91.5h0M113.6 72.2h0M83.4 65.6h0M99.8 105.0h0M111.4 87.2h0M62.3 81.3h0M90.9 67.5h0M107.4 87.5h0M70.0 67.8h0M106.3 60.8h0M104.1 66.6h0M101.6 66.1h0M63.9 79.8h0M87.9 59.6h0M118.5 83.5h0M118.9 86.5h0M91.0 57.7h0M97.2 81.9h0M67.2 84.6h0M109.5 76.9h0M110.1 64.7h0M89.4 100.6h0M62.9 80.5h0M115.6 69.2h0M77.0 96.9h0M120.6 85.6h0M93.5 87.1h0M100.9 75.7h0M109.9 97.4h0M106.0 81.5h0M102.7 48.4h0M100.3 51.1h0M103.4 112.8h0M90.5 54.3h0M76.6 105.0h0M86.7 56.3h0M97.9 110.7h0M106.4 47.3h0M76.4 99.4h0M93.0 49.6h0M84.0 56.0h0M71.8 96.0h0M85.2 106.1h0M87.7 49.1h0M87.7 53.2h0M97.2 47.5h0M81.8 53.4h0M110.1 98.9h0M106.3 51.1h0M69.8 99.8h0M89.2 55.1h0M74.9 61.1h0M88.3 110.8h0M67.2 93.9h0M87.1 110.6h0M110.5 97.9h0M94.0 52.9h0M75.6 56.3h0M88.3 55.0h0M100.4 46.4h0M75.5 98.9h0M74.4 100.5h0M110.6 54.3h0M96.4 51.1h0M79.2 103.7h0M74.1 61.2h0M104.3 49.9h0M93.3 53.5h0M96.3 49.2h0M79.3 99.9h0M105.8 52.2h0M75.8 99.2h0M91.2 47.7h0M72.5 95.2h0M100.2 112.9h0M109.3 53.2h0M96.5 49.4h0M102.6 48.6h0M88.4 106.2h0M73.4 99.2h0M83.9 49.8h0M67.0 64.8h0M94.6 50.6h0M101.5 110.7h0M102.3 112.5h0M80.5 105.3h0M97.3 51.0h0M97.4 109.9h0M110.2 105.6h0M98.4 110.5h0M82.9 103.4h0M88.3 54.7h0M77.0 54.7h0M103.0 49.2h0M83.7 48.5h0M73.7 97.1h0M76.8 103.7h0M68.7 63.9h0M109.6 56.6h0M91.2 54.2h0M85.1 56.7h0M72.9 97.3h0M75.1 53.5h0M105.3 110.2h0M108.1 102.6h0M76.0 60.5h0M95.8 52.2h0M79.7 56.4h0M97.3 49.5h0M95.1 52.2h0M94.3 51.1h0M83.7 56.4h0M98.6 112.9h0M74.2 98.5h0M98.9 109.4h0M107.1 46.6h0M72.8 61.0h0M91.3 52.4h0M84.6 103.5h0M75.9 100.0h0M87.3 53.0h0M93.3 53.5h0M86.9 107.6h0M110.6 58.4h0M66.6 68.2h0M107.6 104.3h0M68.0 67.3h0M91.3 113.4h0M106.1 44.1h0M69.7 93.2h0M70.3 99.7h0M100.4 49.6h0M80.8 58.2h0M111.8 100.3h0M73.0 61.2h0M99.8 110.9h0M90.4 110.8h0M98.1 48.8h0M107.5 105.3h0M94.3 109.2h0M76.8 101.0h0M74.6 98.5h0M89.6 106.4h0M84.0 103.9h0M76.5 100.2h0M96.2 111.7h0M87.9 111.3h0M75.0 61.3h0M100.0 49.6h0M109.0 101.3h0M81.6 101.0h0M108.9 102.3h0M111.6 99.2h0M82.8 103.3h0M91.2 53.5h0M91.9 106.9h0M70.0 97.7h0M93.6 108.1h0M74.8 96.8h0M72.1 96.0h0M86.4 108.1h0M111.1 99.8h0M75.3 97.5h0M76.7 102.8h0M102.6 114.2h0M68.5 95.1h0M81.5 57.4h0M104.0 46.4h0M79.3 55.6h0M102.2 111.5h0M110.4 47.9h0M98.8 110.7h0M93.0 50.8h0M95.1 108.5h0M98.0 49.3h0M99.8 49.5h0M67.9 67.8h0M93.5 53.2h0M99.7 49.7h0M67.1 92.5h0M102.2 47.8h0M103.1 110.9h0M75.2 57.9h0M104.7 109.9h0M83.7 55.1h0M70.9 61.8h0M74.3 96.4h0M103.5 118.2h0M79.1 58.1h0M67.8 67.5h0M89.4 108.1h0M87.3 55.4h0M108.9 103.3h0M79.3 99.7h0M109.7 102.3h0M90.7 108.9h0M76.4 56.6h0M109.9 52.2h0M111.2 99.3h0M81.4 56.6h0M76.6 98.8h0M102.1 112.0h0M76.2 55.7h0M102.6 50.0h0M80.7 52.6h0M86.2 108.7h0M104.2 48.8h0M111.2 60.1h0M74.6 58.1h0M71.9 94.7h0M100.0 109.9h0M83.6 54.3h0M108.6 53.6h0M99.6 109.9h0M88.5 51.3h0M110.7 99.0h0M108.8 50.2h0M102.9 114.3h0M107.1 53.0h0M98.3 51.3h0M98.8 48.9h0M77.6 98.3h0M80.2 99.7h0M80.6 100.4h0M79.1 101.2h0M76.4 101.6h0M93.3 53.7h0M83.2 57.2h0M107.8 54.2h0M68.7 64.7h0M108.3 52.1h0M77.8 57.7h0M70.1 60.2h0M97.4 111.9h0M88.5 51.0h0M91.2 106.1h0M93.9 113.7h0M93.9 109.0h0M103.8 49.0h0M85.9 56.0h0M98.5 50.4h0M80.6 56.5h0M75.2 61.5h0M98.2 113.6h0M97.7 51.6h0M90.4 110.5h0M74.6 57.9h0M76.4 98.9h0M100.5 115.8h0M82.5 57.7h0M53.1 77.2h0M61.0 79.8h0M57.6 78.9h0M60.0 81.4h0M60.6 80.1h0M59.7 80.6h0M54.2 81.2h0M52.1 81.0h0M63.7 79.3h0M58.8 81.2h0M53.1 80.7h0M59.5 78.3h0M52.4 78.2h0M50.5 80.0h0M55.3 79.3h0M62.2 80.9h0M61.9 79.3h0M60.2 79.7h0M51.8 80.1h0M63.3 79.3h0M54.4 80.2h0M52.3 80.2h0M51.9 78.2h0M58.5 78.5h0M54.8 80.1h0M54.9 79.5h0M54.7 80.7h0M61.2 81.4h0M52.2 80.2h0M52.4 78.8h0M59.9 80.3h0M57.4 80.2h0M52.6 81.0h0M54.8 78.9h0M51.5 80.0h0M51.0 81.6h0M57.9 80.0h0M52.9 79.6h0M57.8 79.9h0M60.5 78.7h0" stroke="#838383" stroke-width="1.8" stroke-linecap="round" fill="none"/>
<path d="M127.3 81.8h0M129.0 79.3h0M113.4 81.1h0M152.9 80.6h0M114.7 79.3h0M125.1 78.8h0M130.5 78.4h0M125.8 81.7h0M116.8 83.2h0M104.5 79.3h0M169.9 82.4h0M126.0 79.7h0M125.4 81.4h0M129.2 76.7h0M165.1 80.0h0M111.8 80.1h0M126.0 82.2h0M176.5 77.9h0M108.4 82.5h0M142.3 79.6h0M147.3 82.1h0M129.2 78.6h0M108.5 78.5h0M135.4 80.0h0M125.9 81.8h0M142.2 80.7h0M136.9 79.2h0M127.3 77.5h0M129.7 81.8h0M125.0 81.0h0M114.7 79.5h0M105.2 81.7h0M125.6 80.1h0M134.1 81.0h0M183.5 81.4h0M145.4 78.9h0M105.8 82.1h0M131.3 80.2h0M105.9 80.1h0M138.9 79.2h0M123.0 78.4h0M104.2 80.2h0M117.9 81.6h0M116.7 78.0h0M119.5 80.6h0M153.8 76.8h0M118.8 80.6h0M156.6 81.7h0M144.7 78.4h0M184.2 80.5h0M121.3 80.5h0M104.5 77.6h0M129.3 79.2h0M152.4 78.4h0M110.3 79.0h0M108.1 80.0h0M117.0 77.9h0M144.5 78.8h0M152.4 78.8h0M134.6 78.4h0M131.9 77.3h0M110.5 80.8h0M149.7 77.5h0M163.4 77.4h0M117.7 80.7h0M109.2 78.3h0M111.3 79.0h0M148.4 78.2h0M183.5 80.4h0M117.8 80.2h0M109.0 81.4h0M106.0 79.3h0M168.0 78.4h0M113.1 81.7h0M117.0 80.4h0M105.1 78.6h0M132.2 82.5h0M110.0 80.1h0M111.3 80.5h0M126.6 79.7h0M108.4 80.5h0M126.2 78.2h0M104.4 83.7h0M108.7 79.6h0M121.0 80.3h0M119.9 79.5h0M152.0 85.2h0M119.4 77.9h0M106.3 81.8h0M175.7 81.4h0M122.8 79.7h0M104.4 81.6h0M124.9 82.7h0M116.8 80.3h0M114.9 80.3h0M136.4 81.4h0M151.1 77.7h0M115.0 82.0h0M121.1 80.5h0M114.3 78.3h0M109.5 78.0h0M162.9 77.5h0M143.8 80.3h0M121.2 76.9h0M135.3 78.2h0M136.1 80.3h0M120.4 79.8h0M116.3 76.4h0M124.8 81.3h0M115.7 81.2h0M153.5 82.0h0M148.9 81.6h0M180.8 78.9h0M130.3 79.1h0M117.7 80.3h0M105.2 80.4h0M122.0 78.7h0M105.7 79.8h0M116.0 78.2h0M131.6 78.8h0M119.7 80.5h0M135.3 78.7h0M110.0 79.0h0M108.0 81.6h0M167.8 79.6h0M111.7 82.1h0M115.9 80.5h0M129.9 79.3h0M106.8 78.5h0M143.1 77.7h0M143.9 80.0h0M144.5 79.6h0M135.2 81.3h0M120.9 80.4h0M108.6 77.6h0M108.1 80.2h0M141.4 82.2h0M127.0 81.0h0M171.7 82.4h0M187.2 81.3h0M113.3 80.9h0M132.1 81.4h0M122.9 80.1h0M109.3 81.0h0M115.4 82.5h0M111.9 80.1h0M155.2 80.7h0M135.6 80.1h0M162.9 81.9h0M116.7 78.8h0M179.6 80.0h0M105.6 81.8h0M123.4 79.5h0M112.8 78.5h0M111.2 76.9h0M118.2 81.6h0M152.7 78.7h0M117.0 80.1h0M127.2 80.0h0M118.5 81.8h0M113.3 79.8h0M112.2 81.5h0M111.4 79.6h0M139.3 79.2h0M113.3 79.9h0M149.4 80.7h0M108.9 79.2h0M112.7 78.2h0M130.0 80.6h0M133.4 79.7h0M106.0 80.5h0M146.0 78.4h0M126.4 79.6h0M127.2 81.0h0M145.8 80.5h0M113.3 78.2h0M133.4 80.4h0M132.4 79.3h0M146.9 79.8h0M119.9 80.9h0M136.5 78.1h0M111.6 78.5h0M130.2 80.5h0M123.8 79.1h0M132.1 79.4h0M104.1 79.0h0M106.9 81.4h0M114.0 78.5h0M135.7 78.7h0M113.3 79.4h0M116.2 79.3h0M117.6 82.2h0M122.3 77.2h0M158.4 81.5h0M156.4 81.8h0M111.0 82.1h0M112.2 78.2h0M105.2 76.3h0M158.9 77.5h0M107.7 79.7h0M133.8 83.1h0M109.8 78.5h0M114.3 80.9h0M122.6 78.7h0M109.3 82.4h0M107.1 80.6h0M132.2 80.8h0M143.4 80.3h0M110.1 80.9h0M167.7 80.1h0M105.2 80.2h0M134.9 81.8h0M123.3 83.1h0M116.7 79.8h0M120.6 83.4h0M133.5 80.2h0M121.4 81.3h0M138.3 81.0h0M136.2 80.4h0M115.4 82.9h0M158.8 78.2h0M107.6 80.3h0M108.8 79.4h0M115.0 79.9h0M115.7 81.7h0M167.7 77.9h0M154.3 75.8h0M107.2 82.7h0M180.0 80.4h0M129.5 79.0h0M147.7 81.3h0M105.5 80.4h0M148.9 81.8h0M114.3 80.5h0M134.0 82.9h0M113.2 79.4h0M128.1 79.6h0M124.3 82.0h0M121.2 81.6h0M130.3 78.5h0M135.9 79.8h0M104.1 81.6h0M135.3 81.6h0M105.1 80.9h0M160.4 78.8h0M141.9 78.6h0M130.7 79.5h0M104.4 77.8h0M106.2 78.8h0M177.2 81.5h0M168.5 79.6h0M104.9 80.3h0M138.0 78.3h0M107.1 77.9h0M122.6 77.7h0M137.8 77.7h0M151.7 79.8h0M118.0 80.9h0M108.9 81.2h0M162.2 80.8h0M126.9 81.7h0M144.6 79.2h0M132.3 80.7h0M158.0 79.5h0M155.0 78.0h0M117.5 78.3h0M163.7 80.4h0M115.8 79.2h0M126.7 82.0h0M118.3 80.2h0M120.4 80.8h0M109.4 78.6h0M127.0 81.4h0M109.5 79.4h0M123.4 84.4h0M106.5 78.3h0M157.0 82.0h0M129.2 81.7h0M198.1 80.1h0M134.1 80.6h0M157.3 81.4h0M113.5 80.2h0M139.3 77.5h0M113.3 79.5h0M110.8 80.5h0M113.1 79.8h0M106.3 80.6h0M114.8 78.9h0M111.9 80.0h0M112.5 79.4h0M118.4 77.3h0M107.1 80.7h0M133.2 81.0h0M120.3 79.3h0M122.0 79.4h0M137.8 81.6h0M125.2 79.1h0M121.1 77.6h0M119.4 80.0h0M129.1 78.5h0M138.2 78.7h0M104.3 80.1h0M121.2 79.1h0M105.3 80.8h0M123.4 80.0h0M115.4 80.1h0M121.5 81.5h0M114.8 80.3h0M122.9 79.4h0M108.6 77.7h0M122.1 81.5h0M126.2 82.3h0M119.4 79.9h0M125.1 81.0h0M118.1 79.3h0M139.6 81.5h0M115.9 80.4h0M123.9 79.8h0M131.8 79.6h0M176.1 80.2h0M144.9 80.0h0M149.7 78.1h0M108.0 78.8h0M109.4 79.6h0M111.4 80.5h0M126.8 80.6h0M174.6 76.8h0M108.1 80.9h0M110.7 81.4h0M126.3 79.3h0M159.9 79.7h0M117.7 80.2h0M108.9 78.2h0M156.4 80.8h0M123.4 80.3h0M113.0 80.0h0M136.4 83.4h0M109.4 83.9h0M106.5 78.0h0M145.1 78.8h0M121.5 80.9h0M171.7 81.1h0M104.2 80.8h0M123.5 83.5h0M113.3 79.6h0M138.9 81.1h0M122.3 78.0h0M130.8 80.4h0M116.5 80.2h0M140.3 80.0h0M104.2 77.6h0M165.6 79.2h0M105.3 80.5h0M149.5 80.4h0M115.9 79.1h0M115.4 79.0h0M123.3 79.1h0M156.5 79.1h0M152.5 76.4h0M113.1 81.7h0M125.1 79.0h0M138.8 80.6h0M115.3 81.9h0M133.7 78.5h0M120.6 80.9h0M122.4 83.3h0M107.7 76.7h0M104.0 78.4h0M132.9 81.3h0M123.4 77.8h0M109.5 80.9h0M159.3 79.6h0M128.8 81.0h0M106.8 82.5h0M134.8 77.3h0M151.7 82.3h0M135.4 83.1h0M115.2 79.0h0M147.4 78.8h0M160.0 79.2h0M165.8 80.4h0M174.6 78.9h0M115.4 79.2h0M126.8 80.9h0M105.5 80.5h0M152.5 77.0h0M142.2 80.0h0M110.5 80.2h0M132.6 82.5h0M169.8 79.1h0M105.0 82.1h0M108.4 78.1h0M123.9 82.2h0M114.7 81.1h0M170.1 80.2h0M112.0 79.1h0M111.0 81.3h0M126.3 80.2h0M161.4 80.5h0M176.2 77.5h0M154.9 80.6h0M104.5 79.0h0M110.0 79.3h0M118.4 79.0h0M127.1 81.9h0M104.5 80.4h0M154.9 79.1h0M122.3 79.4h0M123.4 82.9h0M114.0 82.6h0M105.0 82.0h0M113.8 79.7h0M112.2 78.8h0M106.4 80.7h0M133.2 79.2h0M148.5 82.2h0M124.4 80.1h0M117.6 79.7h0M121.1 80.9h0M109.0 78.6h0M111.3 82.3h0M118.4 78.9h0M131.5 80.9h0M114.2 79.1h0M155.5 80.9h0M109.0 77.9h0M125.9 81.2h0M136.1 80.1h0M116.4 77.9h0M108.6 80.6h0M146.6 79.1h0M107.7 78.7h0M107.9 79.8h0M129.0 82.7h0M109.0 78.9h0M146.7 79.3h0M163.9 78.9h0M154.0 80.2h0M144.4 81.4h0M136.7 80.0h0M110.1 78.8h0M115.6 84.3h0M144.8 79.6h0M109.4 78.9h0M117.3 77.3h0M131.1 82.0h0M127.9 80.0h0M109.6 80.4h0M127.2 81.8h0M134.9 79.7h0M151.0 83.1h0M115.3 79.7h0M111.8 83.9h0M116.3 78.4h0M111.5 79.3h0M119.2 79.5h0M137.8 80.0h0M126.1 79.6h0M105.0 79.6h0M121.6 80.0h0M138.4 81.5h0M118.6 80.0h0M110.0 82.1h0M113.7 79.1h0M109.5 80.9h0M115.1 78.9h0M105.0 82.5h0M153.6 78.8h0M148.2 76.9h0M139.8 79.6h0M128.2 79.6h0M105.6 81.0h0M113.7 78.9h0M135.0 79.8h0M112.8 80.1h0M118.6 77.6h0M121.8 79.8h0M135.7 76.9h0M113.9 81.0h0M153.8 79.9h0M111.7 81.5h0M106.1 79.7h0M107.9 79.1h0M127.4 75.0h0M129.0 76.4h0M166.2 75.6h0M106.8 81.5h0M167.8 79.7h0M132.1 79.2h0M104.3 77.8h0M127.2 76.5h0M104.3 78.4h0M169.1 80.6h0M110.9 79.0h0M104.2 79.7h0M122.9 77.6h0M120.4 79.7h0M115.7 80.0h0M108.4 79.4h0M143.2 80.9h0M136.9 79.5h0M121.9 78.9h0M142.0 79.2h0M124.1 78.5h0M105.1 81.2h0M106.7 80.1h0M111.9 82.0h0M127.1 76.2h0M120.3 79.1h0M160.5 80.0h0M110.8 80.0h0M125.7 80.2h0M139.5 80.0h0M145.6 81.2h0M144.8 79.5h0M155.5 82.6h0M107.9 80.1h0M198.7 80.5h0M123.8 78.6h0M120.4 80.6h0M125.7 80.7h0M111.2 80.3h0M126.5 80.1h0M120.6 81.4h0M108.4 81.4h0M118.2 78.8h0M110.4 78.6h0M123.1 79.1h0M112.9 81.6h0M108.4 79.5h0M123.2 82.6h0M129.8 77.7h0M130.2 79.3h0M105.0 80.3h0M123.1 78.8h0M109.4 78.7h0M111.0 79.5h0M120.9 77.3h0M125.8 82.5h0M122.4 81.1h0M113.7 78.7h0M112.6 78.4h0M104.3 79.5h0M131.0 78.0h0M123.0 76.7h0M129.8 77.6h0M115.0 81.0h0M111.1 80.0h0M131.4 80.9h0M143.4 79.8h0M110.5 77.5h0M119.0 81.1h0M116.4 79.7h0M118.0 77.9h0M146.1 78.8h0M129.9 82.4h0M124.7 81.7h0M107.0 80.1h0M151.7 81.7h0M144.6 82.1h0M124.5 78.4h0M178.1 82.6h0M107.0 80.9h0M132.1 77.7h0M122.6 80.7h0M106.2 78.0h0M156.1 81.6h0M155.1 78.9h0M200.8 82.8h0M104.7 81.3h0M108.9 79.2h0M122.2 79.7h0M107.0 81.2h0M112.6 78.2h0M131.3 81.0h0M139.0 80.0h0M127.7 80.5h0M116.6 78.2h0M140.1 82.6h0M104.8 77.5h0M146.5 81.5h0M123.2 80.5h0M109.7 81.9h0M134.6 78.9h0M115.7 81.9h0M150.5 77.7h0M169.2 80.7h0M133.1 82.1h0M115.6 81.5h0M116.7 80.8h0M125.8 79.0h0M156.3 79.8h0M109.5 81.0h0M142.6 77.0h0M119.2 81.8h0M121.3 82.4h0M139.4 78.1h0M110.7 79.5h0M164.7 79.0h0M117.9 80.7h0M165.9 82.6h0M150.3 82.1h0M124.6 78.8h0M126.9 79.6h0M107.1 77.9h0M111.8 81.1h0M108.7 79.4h0M116.4 79.0h0M142.7 80.2h0M187.7 78.4h0M154.4 81.8h0M143.3 82.3h0M146.0 80.4h0M130.2 78.2h0M143.9 80.3h0M105.0 78.9h0M188.1 78.4h0M114.3 78.5h0M160.9 80.7h0M112.3 80.7h0M105.6 83.1h0M114.7 81.6h0M105.6 81.4h0M127.8 80.9h0M155.5 78.6h0M133.6 78.7h0M121.5 78.1h0M117.9 78.8h0M109.0 80.5h0M166.4 80.8h0M123.0 79.3h0M169.2 81.6h0M168.2 79.1h0M138.2 81.7h0M151.4 81.5h0M165.8 83.2h0M106.7 82.1h0M144.2 78.9h0M164.1 81.5h0M152.3 80.1h0M146.7 80.6h0M104.8 80.7h0M110.9 79.8h0M108.0 80.0h0M120.1 80.2h0M133.1 80.4h0M109.3 77.5h0M106.0 81.9h0M125.8 79.4h0M120.5 79.9h0M116.6 82.6h0M109.1 78.5h0M120.8 79.6h0M116.0 80.2h0M179.4 78.0h0M138.9 82.0h0M110.5 80.0h0M134.6 79.3h0M107.1 80.5h0M131.1 78.5h0M136.1 78.3h0M128.9 82.4h0M104.4 77.8h0M152.1 79.0h0M130.8 80.1h0M133.8 82.0h0M136.4 80.8h0M114.1 81.3h0M136.7 78.7h0M148.0 79.7h0M108.0 78.8h0M104.5 79.3h0M118.3 79.9h0M109.0 79.5h0M141.0 79.9h0M127.2 81.5h0M157.3 79.8h0M113.9 80.9h0M143.1 80.9h0M120.5 81.0h0M107.4 84.7h0M117.9 77.7h0M119.2 80.7h0M109.9 80.9h0M118.3 81.7h0M122.4 84.5h0M106.3 79.2h0M116.7 79.7h0M130.4 78.1h0M148.1 79.2h0M110.8 81.4h0M108.8 77.9h0M133.0 79.6h0M129.1 80.5h0M144.7 82.1h0M131.5 80.0h0M113.6 78.7h0M115.1 79.2h0M105.4 80.0h0M138.1 79.9h0M107.2 78.8h0M106.4 83.0h0M118.7 77.6h0M132.9 79.3h0M147.9 80.9h0M120.1 80.4h0M165.2 81.8h0M121.6 80.4h0M108.1 81.9h0M120.2 81.3h0M133.3 80.7h0M106.9 79.8h0M150.2 81.2h0M127.9 79.8h0M136.9 82.2h0M114.5 80.5h0M136.9 78.9h0M128.9 79.9h0M104.1 80.5h0M108.9 80.5h0M149.7 78.4h0M148.0 78.6h0M112.8 79.2h0M117.4 79.6h0M145.9 82.3h0M144.3 81.4h0M112.0 78.0h0M153.0 79.8h0M159.4 80.7h0M107.5 81.4h0M127.8 79.1h0M105.7 80.2h0M125.8 80.7h0M143.4 82.6h0M141.7 78.9h0M124.6 80.1h0M125.2 79.8h0M114.1 82.9h0M141.8 78.2h0M148.6 81.6h0M110.7 82.7h0M128.2 81.3h0M159.6 78.5h0M148.0 82.7h0M163.8 81.6h0M130.5 80.5h0M125.1 81.5h0M155.8 78.0h0M114.1 80.3h0M123.8 80.8h0M108.3 79.5h0M153.7 79.5h0M110.4 79.3h0M131.0 80.9h0M108.1 80.7h0M110.6 77.0h0M122.9 80.6h0M130.0 79.1h0M130.4 78.5h0M174.6 81.9h0M181.4 81.3h0M117.1 79.7h0M110.8 79.6h0M137.7 82.7h0M135.5 81.2h0M132.4 79.3h0M126.8 81.5h0M107.4 76.7h0M134.6 81.5h0M149.9 78.6h0M133.0 78.8h0M130.2 78.7h0M106.2 79.3h0M132.5 81.7h0M157.0 78.2h0M109.4 80.7h0M162.6 79.7h0M128.1 81.7h0M112.6 81.3h0M138.5 81.1h0M148.5 79.3h0M104.8 77.3h0M144.6 77.5h0M106.8 80.4h0M135.1 78.4h0M124.1 81.0h0M135.7 79.5h0M132.4 78.5h0M113.5 77.4h0M106.3 78.5h0M136.9 79.0h0M110.4 75.2h0M134.5 78.8h0M105.5 78.8h0M107.3 81.4h0M118.7 82.5h0M113.5 79.3h0M155.8 80.7h0M119.9 78.9h0M106.9 78.3h0M116.9 79.8h0M181.5 80.6h0M111.3 79.5h0M105.1 78.3h0M113.7 78.5h0M107.6 78.3h0M117.2 80.1h0M149.2 80.5h0M110.0 81.9h0M118.1 80.3h0M115.3 80.3h0M123.6 78.5h0M125.8 79.5h0M115.6 80.9h0M144.4 79.6h0M116.7 81.9h0M112.4 79.9h0M148.5 79.3h0M110.3 79.3h0M117.9 78.0h0M132.3 81.1h0M111.3 78.6h0M120.6 81.2h0M120.7 80.9h0M131.2 81.7h0M124.4 79.3h0M170.1 80.1h0M108.4 80.6h0M115.4 82.2h0M117.3 81.3h0M113.6 78.0h0M108.6 80.5h0M167.6 79.0h0M112.5 78.1h0M117.7 80.5h0M115.8 80.9h0M116.1 79.2h0M110.6 78.7h0M123.0 77.6h0M159.4 79.1h0M141.9 82.4h0M118.8 79.5h0M112.6 77.8h0M107.0 77.8h0M115.6 79.6h0M134.3 80.0h0M135.8 80.6h0M104.8 79.3h0M109.7 80.5h0M186.4 81.5h0M108.7 77.5h0M140.4 81.1h0M108.5 80.8h0M124.8 80.5h0M119.0 79.1h0M114.7 78.8h0M107.2 79.6h0M108.4 79.4h0M151.1 78.0h0M120.9 79.7h0M137.3 78.2h0M111.3 79.2h0M123.7 81.6h0M165.3 78.6h0M114.9 81.0h0M134.3 78.1h0M137.8 81.4h0M112.5 78.4h0M114.4 79.6h0M144.6 79.5h0M139.4 77.2h0M106.7 81.0h0M142.9 78.2h0M125.1 80.5h0M117.0 80.8h0M139.5 80.0h0M124.2 77.9h0M134.8 79.6h0M113.0 80.7h0M127.1 79.6h0M147.7 83.0h0M107.7 82.3h0M109.8 79.8h0M149.6 81.6h0M104.7 78.5h0M114.5 79.4h0M110.5 77.6h0M115.7 82.4h0M165.8 79.2h0M115.5 78.5h0M105.5 80.7h0M117.8 81.1h0M105.5 76.6h0M119.9 80.6h0M133.8 79.8h0M154.9 80.0h0M112.5 79.1h0M134.3 80.0h0M126.8 83.3h0M107.8 81.6h0M116.5 84.9h0M107.0 77.9h0M138.1 81.1h0M120.2 80.7h0M112.5 78.7h0M129.6 78.7h0M107.2 80.0h0M147.2 79.6h0M165.8 79.7h0M179.7 79.7h0M182.2 78.8h0M132.5 77.8h0M113.2 80.9h0M136.1 81.1h0M108.4 79.1h0M110.4 79.7h0M146.8 80.2h0M110.8 79.0h0M122.4 81.9h0M104.8 80.2h0M106.4 79.5h0M112.1 80.7h0M107.0 80.8h0M136.3 84.3h0M129.4 79.5h0M143.2 78.7h0M135.0 81.4h0M107.6 78.4h0M113.0 77.1h0M115.9 81.1h0M110.8 82.4h0M136.1 79.8h0M119.0 81.2h0M140.4 82.5h0M108.6 81.4h0M137.2 80.2h0M114.2 80.6h0M148.8 78.8h0M111.8 81.5h0M136.5 80.9h0M117.9 83.6h0M122.9 81.9h0M109.5 80.8h0M118.7 82.0h0M116.2 78.7h0M175.5 79.7h0M104.7 79.4h0M108.2 80.8h0M120.6 77.5h0M122.6 81.4h0M109.1 78.0h0M141.4 82.3h0M135.3 79.1h0M106.6 80.4h0M152.9 79.7h0M113.5 81.9h0M154.8 80.2h0M151.5 82.2h0M114.2 79.6h0M111.8 82.2h0M125.3 80.8h0M127.7 79.8h0M128.7 83.7h0M114.7 80.1h0M108.9 78.4h0M113.9 82.0h0M132.8 76.8h0M114.0 79.8h0M119.9 78.3h0M113.2 81.4h0M150.6 78.6h0M116.6 80.8h0M145.8 79.7h0M111.4 79.2h0M104.8 81.4h0M177.9 82.1h0M155.3 82.4h0M105.9 78.2h0M114.1 79.8h0M127.0 80.4h0M104.7 79.9h0M166.1 79.8h0M130.3 79.8h0M111.4 79.8h0M114.6 76.6h0M124.7 79.7h0M118.8 79.5h0M104.6 78.4h0M120.8 79.9h0M157.6 77.7h0M195.9 79.0h0M126.1 76.3h0M107.6 80.6h0M191.5 77.8h0M121.2 78.4h0M109.6 78.1h0M109.8 81.1h0M125.8 80.5h0M109.1 80.3h0M175.0 80.0h0M122.0 80.6h0M132.0 79.0h0M173.6 78.5h0M107.0 78.8h0M104.7 79.7h0M107.1 82.3h0M149.4 80.6h0M117.9 78.3h0M149.3 80.4h0M104.2 79.4h0M145.2 78.5h0M111.4 77.7h0M110.8 79.5h0M133.6 80.4h0M104.9 79.4h0M104.9 78.6h0M119.5 81.8h0M145.8 80.7h0M110.6 80.8h0M152.4 81.1h0M116.9 82.7h0M116.7 80.4h0M120.6 78.9h0M110.5 77.6h0M112.0 79.7h0M138.9 78.6h0M146.1 79.7h0M111.9 82.5h0M166.6 80.4h0M133.5 78.2h0M141.7 78.1h0M111.0 78.6h0M152.2 79.9h0M105.1 79.6h0M110.2 78.2h0M118.4 79.0h0M129.3 82.9h0M105.3 78.4h0M152.4 81.5h0M108.7 80.8h0M137.2 76.1h0M117.8 84.8h0M177.4 81.9h0M135.2 81.6h0M134.2 77.7h0M138.7 82.0h0M166.7 80.4h0M114.1 78.1h0M133.7 79.6h0M136.5 79.1h0M128.6 82.0h0M121.8 83.2h0M144.1 77.8h0M138.9 78.4h0M131.5 80.5h0M121.4 80.3h0M118.2 79.4h0M158.1 77.9h0M108.0 80.9h0M121.9 79.2h0M138.0 78.8h0M120.8 81.4h0M133.6 81.4h0M112.6 81.1h0M129.4 77.7h0M106.6 80.7h0M111.6 79.6h0M159.1 81.5h0M129.6 77.6h0M172.9 80.1h0M137.8 78.2h0M127.2 82.3h0M105.5 80.4h0M107.8 81.6h0M112.9 84.3h0M125.7 78.4h0M139.6 82.8h0M105.8 80.9h0M106.0 81.8h0M147.2 80.4h0M122.7 79.9h0M176.8 80.1h0M136.7 80.5h0M122.3 79.5h0M181.8 81.1h0M108.0 79.1h0M140.7 81.5h0M114.1 82.2h0M110.0 81.2h0M106.3 80.3h0M172.8 77.8h0M105.5 76.7h0M118.2 80.5h0M110.2 80.6h0M121.0 79.5h0M132.9 82.4h0M112.5 81.8h0M141.5 80.7h0M137.6 78.6h0M120.6 78.5h0M118.1 79.8h0M143.2 79.6h0M157.3 79.8h0M107.1 80.0h0M141.4 78.1h0M180.2 80.9h0M129.2 80.0h0M109.1 80.9h0M109.3 78.7h0M128.0 80.0h0M111.9 77.9h0M136.0 80.6h0M154.0 82.9h0M123.4 79.2h0M158.8 83.4h0M118.5 78.8h0M125.6 79.8h0M120.3 79.3h0M144.3 79.3h0M144.6 83.2h0M120.1 78.7h0M120.1 78.0h0M121.0 80.0h0M112.4 78.8h0M115.8 79.1h0M111.8 82.5h0M121.3 82.4h0M139.7 80.1h0M109.6 81.5h0M104.1 80.2h0M149.9 77.7h0M122.5 80.1h0M142.0 79.6h0M123.0 81.7h0M117.0 81.1h0M115.4 77.7h0M112.3 80.9h0M108.5 80.7h0M109.2 81.7h0M140.8 83.3h0M107.7 82.8h0M121.2 81.9h0M150.2 80.4h0M134.9 80.0h0M120.1 81.2h0M113.0 80.5h0M180.0 77.7h0M165.2 82.7h0M155.9 80.1h0M109.9 79.8h0M142.7 81.7h0M113.9 78.1h0M144.0 82.0h0M110.5 78.7h0M142.7 79.0h0M116.3 80.9h0M124.7 80.0h0M119.2 81.5h0M167.9 79.7h0M105.9 79.4h0M115.2 79.6h0M126.4 79.5h0M115.3 79.6h0M148.3 80.2h0M132.5 79.8h0M158.3 83.6h0M104.4 79.2h0M129.3 78.3h0M144.4 81.6h0M159.6 80.4h0M119.1 79.7h0M109.1 80.3h0M111.2 79.8h0M125.3 80.0h0M138.0 80.6h0M104.0 77.8h0M116.1 81.1h0M107.1 79.2h0M147.9 81.6h0M109.9 80.5h0M128.6 79.9h0M139.0 79.4h0M135.0 79.4h0M122.8 79.1h0M153.4 79.4h0M141.8 79.9h0M120.7 80.4h0M176.2 81.0h0M122.8 79.7h0M117.2 80.6h0M121.4 81.9h0M105.1 79.7h0M145.0 79.7h0M119.8 81.6h0M109.7 79.2h0M108.5 79.4h0M134.7 79.1h0M119.0 79.9h0M106.6 77.2h0M134.3 81.1h0M105.9 77.7h0M133.3 78.2h0M154.7 82.9h0M117.2 83.9h0M129.0 80.6h0M108.7 76.4h0M121.1 81.9h0M121.9 80.5h0M172.9 80.0h0M117.8 80.4h0M136.8 79.2h0M112.9 83.7h0M167.0 79.4h0M179.2 80.1h0M127.3 80.0h0M109.5 81.4h0M107.5 80.5h0M138.5 79.3h0M118.2 81.0h0M110.9 81.9h0M159.2 78.2h0M119.7 80.0h0M109.2 81.2h0M167.7 80.5h0M187.8 81.9h0M112.2 77.3h0M113.5 80.6h0M116.9 80.3h0M129.1 82.3h0M104.5 82.4h0M143.8 80.2h0M151.1 79.8h0M125.7 82.3h0M120.6 77.7h0M121.5 79.7h0M127.5 81.2h0M172.8 79.0h0M111.1 79.6h0M147.0 81.1h0M127.4 81.8h0M104.1 81.2h0M183.1 77.9h0M143.3 79.3h0M112.2 79.3h0M115.2 80.5h0M126.0 78.8h0M124.0 79.3h0M150.5 80.4h0M126.6 79.8h0M136.1 83.3h0M145.1 81.2h0M155.8 79.7h0M158.1 80.7h0M165.6 81.0h0M127.4 77.1h0M123.1 83.2h0M132.6 77.9h0M107.1 80.4h0M139.6 79.6h0M139.6 80.0h0M148.9 79.5h0M142.6 80.5h0M123.0 79.4h0M122.3 79.4h0M124.7 80.7h0M104.5 80.8h0M106.6 82.0h0M148.8 79.8h0M120.1 78.6h0M119.3 81.6h0M140.4 80.0h0M114.6 79.9h0M134.2 82.2h0M155.8 79.7h0M113.1 79.8h0M104.7 80.9h0M116.8 78.0h0M171.8 80.2h0M107.9 79.1h0M167.2 77.1h0M165.5 79.2h0M106.8 80.6h0M146.3 80.8h0M127.0 78.4h0M128.2 79.3h0M136.8 78.9h0M112.6 80.6h0M110.6 80.2h0M138.0 80.3h0M115.2 79.2h0M117.1 81.0h0M126.0 79.4h0M137.3 80.1h0M106.9 80.2h0M106.5 79.8h0M120.2 78.4h0M119.3 79.5h0M165.8 81.1h0M112.8 81.6h0M127.3 78.7h0M121.5 79.8h0M122.9 82.1h0M165.2 79.6h0M116.4 79.8h0M130.9 82.4h0M153.5 81.3h0M113.6 78.7h0M121.3 79.2h0M112.1 79.9h0M105.9 81.0h0M129.3 82.3h0M137.9 82.4h0M108.9 79.2h0M105.4 78.2h0M104.0 81.5h0M134.9 81.3h0M116.2 81.9h0M125.5 78.7h0M166.2 78.2h0M104.6 79.4h0M116.1 78.4h0M119.0 80.3h0M109.2 80.3h0M135.7 81.1h0M141.6 82.8h0M112.8 80.6h0M171.4 80.8h0M154.3 78.3h0M135.8 81.7h0M128.8 81.9h0M106.9 80.4h0M169.8 79.7h0M114.5 76.9h0M158.1 78.6h0M106.3 81.0h0M154.3 80.5h0M106.5 78.0h0M125.4 80.3h0M107.0 81.3h0M136.1 78.1h0M116.4 80.7h0M115.3 78.2h0M148.0 78.5h0M178.5 78.6h0M114.7 83.3h0M136.4 80.6h0M117.5 81.1h0M104.0 82.3h0M116.5 79.6h0M149.0 81.0h0M114.2 78.5h0M119.1 78.6h0M107.2 78.8h0M124.2 81.6h0M106.8 79.5h0M113.3 81.2h0M122.2 79.3h0M157.0 81.6h0M113.0 81.1h0M112.3 78.8h0M109.3 83.1h0M110.2 79.0h0M110.8 80.3h0M109.7 82.3h0M157.4 80.9h0M104.2 79.6h0M128.3 79.2h0M109.8 81.4h0M161.6 81.1h0M160.5 80.7h0M124.2 81.5h0M122.0 80.1h0M142.7 82.0h0M154.3 78.9h0M164.2 80.9h0M129.8 80.8h0M132.2 80.8h0M134.9 81.0h0M107.0 79.6h0M120.4 80.5h0M184.7 78.8h0M168.2 81.4h0M114.8 81.2h0M152.3 81.9h0M124.6 79.7h0M108.2 81.1h0M105.1 80.2h0M125.8 78.7h0M142.0 80.3h0M168.6 82.0h0M109.3 78.8h0M120.2 82.3h0M128.4 78.9h0M105.3 80.2h0M159.1 77.9h0M126.8 81.1h0M117.7 79.1h0M133.5 80.8h0M107.1 80.6h0M125.4 80.7h0M109.5 79.9h0M170.3 83.0h0M111.4 81.9h0M107.9 79.5h0M125.6 78.5h0M105.8 79.0h0M177.7 80.1h0M175.2 79.9h0M118.7 81.9h0M130.8 80.1h0M116.5 81.1h0M136.5 78.4h0M105.0 79.4h0M115.9 78.9h0M106.4 80.6h0M153.2 77.3h0M112.4 80.8h0M105.7 75.9h0M113.7 83.7h0M135.8 80.0h0M135.1 78.7h0M109.8 78.7h0M135.0 80.9h0M109.5 83.3h0M118.0 78.6h0M123.4 81.0h0M110.6 80.8h0M110.6 79.6h0M158.8 80.6h0M117.8 80.6h0M164.2 79.4h0M162.4 79.4h0M114.8 82.0h0M156.0 78.3h0M141.8 80.1h0M134.4 80.6h0M140.4 77.4h0M110.4 80.6h0M164.0 78.3h0M108.9 79.1h0M164.0 79.6h0M116.2 80.1h0M121.0 79.6h0M114.1 79.0h0M172.8 78.7h0M145.3 79.4h0M108.7 80.2h0M152.2 78.8h0M133.3 78.7h0M117.9 82.5h0M145.3 80.3h0M109.3 78.4h0M118.5 79.4h0M105.2 80.0h0M104.0 81.1h0M124.5 78.7h0M138.6 79.9h0M109.0 81.4h0M114.2 78.9h0M111.6 82.0h0M155.8 76.0h0M136.4 82.6h0M124.5 81.1h0M115.6 77.2h0M148.6 80.9h0M113.1 80.1h0M112.6 80.4h0M134.7 82.9h0M189.1 81.3h0M170.8 79.2h0M109.1 78.7h0M117.8 76.9h0M153.6 79.9h0M127.4 76.4h0M158.7 78.9h0M112.2 77.4h0M113.0 81.5h0M168.6 77.1h0M116.0 81.7h0M135.0 81.5h0M113.2 82.9h0M121.6 84.3h0M156.4 80.9h0M110.4 80.3h0M123.9 79.9h0M108.8 80.6h0M108.0 78.3h0M107.4 80.3h0M121.9 79.3h0M133.5 81.0h0M118.9 80.5h0M104.6 79.0h0M122.8 79.2h0M108.8 79.7h0M121.9 79.9h0M113.6 78.7h0M122.5 79.2h0M130.0 80.9h0M105.5 77.7h0M134.0 80.4h0M157.5 78.6h0M108.3 81.4h0M111.1 80.7h0M108.8 81.1h0M117.8 80.3h0M110.0 80.1h0M109.1 79.7h0M119.1 81.9h0M171.9 81.3h0M117.6 78.7h0M104.2 78.0h0M104.6 80.6h0M108.2 78.2h0M190.6 82.2h0M121.7 82.0h0M109.4 83.2h0M177.4 80.5h0M132.1 77.0h0M189.3 81.4h0M112.1 79.4h0M130.3 80.3h0M159.7 80.4h0M109.9 77.0h0M136.7 83.3h0M104.1 79.2h0M111.2 83.4h0M167.6 79.0h0M163.0 78.4h0M105.3 81.3h0M136.2 76.8h0M181.1 80.5h0M111.9 79.4h0M106.5 81.2h0M149.2 81.8h0M106.8 80.9h0M144.5 81.0h0M143.9 81.9h0M118.4 79.5h0M138.3 80.0h0M133.0 77.3h0M177.7 82.2h0M106.2 78.4h0M121.7 78.5h0M127.4 80.2h0M114.2 80.6h0M106.0 78.9h0M118.9 78.6h0M163.5 79.7h0M128.8 79.6h0M146.8 80.0h0M104.5 79.5h0M162.2 78.6h0M105.4 83.6h0M143.2 80.1h0M110.5 80.7h0M108.9 80.8h0M149.3 79.9h0M109.2 78.7h0M106.7 80.8h0M145.9 80.1h0M131.0 80.3h0M150.9 79.9h0M108.9 81.9h0M112.9 80.2h0M118.3 81.8h0M138.7 81.9h0M114.4 80.7h0M146.6 78.4h0M109.8 78.2h0M128.3 77.4h0M134.3 78.1h0M108.2 78.4h0M158.3 78.9h0M107.9 79.4h0M104.8 79.0h0M119.7 81.3h0M161.6 78.5h0M113.1 79.3h0M128.6 79.4h0M156.3 82.3h0M162.9 80.0h0M131.9 81.4h0M112.2 81.1h0M105.3 76.9h0M131.4 79.3h0M126.2 78.5h0M124.4 82.5h0M111.8 79.6h0" stroke="#888888" stroke-width="1.7" stroke-linecap="round" fill="none"/>
<path d="M102.7 40.3h0M108.4 40.0h0M119.2 61.1h0M119.1 69.0h0M95.7 44.7h0M94.6 50.4h0M117.0 60.3h0M103.7 47.3h0M104.3 47.8h0M113.2 61.2h0M113.6 57.5h0M98.1 48.0h0M105.4 45.7h0M93.4 51.6h0M99.5 39.2h0M100.7 49.1h0M110.2 56.2h0M114.1 56.4h0M101.4 37.5h0M116.5 63.2h0M96.6 50.0h0M98.4 45.2h0M99.3 44.0h0M92.2 50.9h0M109.9 40.1h0M117.6 63.3h0M92.4 41.6h0M101.3 43.8h0M107.2 52.9h0M92.8 51.6h0M103.6 44.6h0M103.9 47.4h0M114.1 49.8h0M108.4 46.4h0M111.6 51.5h0M111.3 56.0h0M108.4 53.4h0M99.9 42.7h0M99.4 34.3h0M101.2 42.9h0M94.0 48.4h0M112.1 55.1h0M102.2 49.6h0M104.8 49.0h0M112.3 56.2h0M113.6 55.9h0M119.3 69.7h0M105.6 43.4h0M100.0 43.9h0M113.6 55.0h0M112.7 55.7h0M117.6 60.9h0M118.5 67.6h0M109.3 56.8h0M114.1 62.0h0M105.1 36.5h0M111.4 58.9h0M103.5 40.8h0M99.0 42.4h0M98.6 47.5h0M114.6 59.4h0M95.5 41.4h0M113.1 63.3h0M95.9 47.9h0M96.2 42.6h0M108.8 51.0h0M118.7 65.3h0M144.0 72.6h0M131.5 70.4h0M123.9 70.9h0M132.7 73.6h0M109.4 49.3h0M119.8 69.5h0M125.5 72.7h0M126.6 70.7h0M144.8 72.5h0M113.7 61.8h0M141.9 71.4h0M125.5 69.5h0M112.6 60.7h0M120.8 68.1h0M120.4 70.5h0M114.3 57.2h0M131.2 73.3h0M113.7 62.4h0M136.0 72.0h0M127.7 73.7h0M124.9 72.9h0M144.4 73.0h0M141.8 74.0h0M110.0 52.2h0M141.4 74.0h0M119.2 67.2h0M137.4 73.2h0M124.3 72.5h0M141.8 73.9h0M111.2 55.8h0M112.6 60.0h0M108.6 54.2h0M119.9 69.5h0M126.4 73.9h0M136.6 72.4h0M112.3 61.1h0M141.4 74.2h0M145.0 73.9h0M140.3 72.8h0M139.5 67.9h0M121.8 68.5h0M109.8 49.2h0M138.0 68.6h0M141.8 71.0h0M140.0 71.8h0M136.6 71.1h0M121.2 68.0h0M140.2 74.2h0M119.4 68.3h0M144.9 74.1h0M127.1 73.9h0M108.8 54.2h0M117.3 67.7h0M139.7 70.0h0M143.0 73.5h0M130.8 71.2h0M126.3 72.0h0M133.7 73.2h0M134.2 74.1h0M109.7 49.3h0M120.8 74.0h0M117.2 76.3h0M145.1 76.5h0M132.6 76.2h0M130.6 76.4h0M192.1 75.7h0M140.9 76.5h0M140.2 76.0h0M118.5 69.6h0M162.1 73.5h0M140.6 66.8h0M147.5 75.4h0M125.8 70.1h0M116.0 75.6h0M171.7 76.0h0M115.1 75.1h0M130.1 73.6h0M155.1 76.0h0M138.1 74.7h0M153.3 74.2h0M164.9 75.9h0M127.0 74.5h0M163.8 76.5h0M158.3 76.1h0M115.7 76.5h0M126.0 76.3h0M136.6 76.3h0M122.2 75.7h0M136.0 74.5h0M152.4 75.7h0M124.4 74.2h0M122.9 72.8h0M136.9 76.4h0M113.3 75.8h0M177.5 75.9h0M175.5 74.7h0M126.4 73.7h0M122.9 74.9h0M132.7 71.2h0M122.0 76.0h0M173.0 76.0h0M149.7 76.4h0M114.0 73.5h0M120.0 73.7h0M122.6 71.9h0M144.3 76.4h0M152.9 75.7h0M141.8 76.4h0M126.7 76.4h0M174.9 76.5h0M113.3 73.2h0M127.3 74.1h0M150.1 76.3h0M122.9 76.6h0M168.5 73.8h0M118.6 70.3h0M151.3 76.0h0M124.1 75.0h0M127.1 72.7h0M142.7 75.2h0M118.6 71.0h0M154.2 76.6h0M156.2 75.4h0M122.4 73.5h0M130.8 74.1h0M132.5 76.5h0M181.4 76.5h0M134.3 74.5h0M135.8 71.1h0M160.3 74.4h0M131.2 76.5h0M135.3 73.1h0M158.0 76.4h0M117.4 71.5h0M143.3 76.3h0M153.7 76.5h0M122.2 74.9h0M119.5 75.1h0M134.5 67.4h0M119.2 76.3h0M137.1 75.6h0M130.6 75.8h0M149.5 76.0h0M137.3 76.2h0M158.1 75.8h0M156.6 75.4h0M150.7 73.9h0M124.5 75.8h0M137.1 75.9h0M142.8 73.0h0M120.8 73.7h0M134.6 74.1h0M148.0 75.3h0M136.0 75.8h0M131.4 76.3h0M122.3 76.2h0M136.6 76.5h0M199.8 76.6h0M124.2 75.2h0M132.9 76.2h0M135.7 75.9h0M143.9 74.8h0M147.1 75.9h0M153.7 75.9h0M141.0 73.5h0M128.9 75.3h0M129.8 76.6h0M120.2 72.1h0M126.6 74.9h0M124.8 76.3h0M145.6 75.5h0M134.1 75.9h0M140.1 76.3h0M155.2 74.9h0M114.9 75.4h0M128.6 74.5h0M123.2 76.4h0M116.4 69.7h0M156.2 76.1h0M138.2 76.4h0M183.4 76.4h0M125.0 76.3h0M147.5 75.7h0M139.2 76.5h0M118.0 75.1h0M118.8 74.6h0M138.8 75.2h0M114.2 73.3h0M136.9 75.6h0M198.3 74.6h0M146.2 76.4h0M118.8 72.6h0M154.1 76.6h0M144.1 75.8h0M162.3 75.8h0M127.6 76.2h0M117.3 69.2h0M127.8 76.3h0M120.4 75.3h0M120.4 74.8h0M127.2 76.5h0M116.6 73.4h0M127.4 73.6h0M168.2 75.3h0M137.4 75.5h0M175.2 76.1h0M147.7 74.3h0M135.3 74.2h0M129.2 73.6h0M126.0 69.2h0M139.2 75.9h0M136.4 76.1h0M120.3 74.8h0M124.4 74.7h0M122.7 76.5h0M133.5 76.4h0M133.0 75.6h0M163.0 76.2h0M116.8 76.6h0M158.7 74.8h0M157.8 71.1h0M135.3 75.8h0M145.1 72.2h0M138.3 74.0h0M143.4 76.3h0M147.9 76.5h0M131.8 73.2h0M125.9 74.6h0M124.9 74.7h0M122.8 74.5h0M139.5 76.4h0M119.6 70.5h0M128.4 76.1h0M174.0 76.3h0M171.6 75.8h0M120.4 76.3h0M136.8 74.3h0M126.9 73.9h0M172.8 76.2h0M130.6 75.4h0M134.6 75.4h0M154.6 74.9h0M139.0 76.3h0M150.8 76.6h0M155.1 76.3h0M131.1 74.6h0M150.1 73.4h0M136.1 75.6h0M145.8 74.5h0M131.0 73.0h0M123.9 75.2h0M171.1 75.3h0M118.2 71.6h0M145.8 73.6h0M131.7 75.2h0M129.4 74.3h0M139.9 75.3h0M137.1 76.2h0M143.9 75.8h0M126.1 76.4h0M145.8 76.0h0M129.3 74.1h0M114.7 75.3h0M169.5 76.0h0M116.8 66.5h0M121.2 76.1h0M152.1 75.1h0M116.4 73.7h0M119.0 76.0h0M180.8 74.2h0M140.9 74.9h0M129.5 75.6h0M151.9 71.1h0M152.6 76.0h0M164.2 72.2h0M132.0 68.9h0M143.5 70.9h0M125.3 76.5h0M125.7 76.2h0M127.2 73.6h0M115.8 75.3h0M137.4 76.0h0M127.3 76.4h0M146.3 75.9h0M115.4 75.7h0M175.7 75.2h0M118.0 75.5h0M128.2 76.2h0M158.6 76.2h0M116.3 75.7h0M151.9 75.6h0M128.1 76.2h0M115.9 71.8h0M117.2 75.1h0M135.2 75.6h0M137.4 73.3h0M147.7 74.1h0M115.4 73.0h0M125.9 76.4h0M139.7 76.1h0M124.2 74.2h0M121.7 76.4h0M148.3 75.6h0M134.3 75.9h0M176.8 75.4h0M141.6 73.2h0M174.1 76.4h0M125.6 74.7h0M129.0 71.6h0M167.5 76.1h0M150.5 74.4h0M146.2 75.9h0M135.2 73.7h0M123.7 76.2h0M171.3 74.5h0M153.8 73.4h0M164.2 76.1h0M144.4 75.1h0M140.4 73.2h0M180.5 76.5h0M122.8 71.3h0M126.4 73.8h0M117.3 76.0h0M130.3 71.5h0M147.4 76.4h0M116.3 74.9h0M133.0 72.2h0M114.5 76.3h0M138.6 75.3h0M131.9 75.5h0M148.3 74.6h0M129.4 72.4h0M137.5 76.5h0M118.8 76.4h0M176.3 75.6h0M135.4 76.1h0M186.1 76.2h0M135.3 73.3h0M161.5 75.8h0M153.6 76.5h0M161.6 76.3h0M127.2 76.5h0M168.2 75.0h0M126.1 74.7h0M112.6 75.3h0M155.7 75.8h0M119.1 70.5h0M114.2 76.5h0M148.7 75.9h0M184.1 75.9h0M134.6 75.8h0M140.5 75.4h0M152.4 72.2h0M114.8 74.9h0M137.2 74.8h0M113.6 76.2h0M166.5 75.0h0M167.6 75.4h0M166.3 75.1h0M118.9 76.2h0M118.5 73.1h0M128.5 73.6h0M120.5 73.8h0M175.0 75.6h0M181.7 75.8h0M159.6 75.2h0M142.5 72.7h0M152.2 74.1h0M133.8 76.5h0M135.7 75.4h0M146.3 72.5h0M122.6 74.4h0M150.2 76.2h0M122.9 76.5h0M136.9 74.3h0M165.2 76.0h0M172.1 75.5h0M128.7 75.9h0M149.1 75.5h0M159.8 76.4h0M146.6 75.8h0M189.3 76.4h0M115.6 74.1h0M156.3 75.9h0M128.0 75.0h0M137.6 76.1h0M173.0 75.7h0M113.5 76.0h0M149.8 74.5h0M119.2 74.8h0M140.4 75.4h0M119.3 66.4h0M119.2 71.9h0M152.2 75.7h0M148.1 75.7h0M115.8 76.2h0M154.0 74.5h0M147.1 75.8h0M153.6 76.4h0M130.9 76.6h0M147.1 76.0h0M162.7 75.8h0M129.0 73.9h0M124.0 76.1h0M170.6 74.7h0M152.8 75.6h0M142.7 69.9h0M160.9 73.9h0M164.5 74.1h0M155.1 73.5h0M137.5 76.5h0M166.9 76.5h0M182.8 76.4h0M132.0 73.3h0M138.3 75.9h0M137.9 76.5h0M135.4 75.5h0M137.7 76.5h0M143.4 76.6h0M120.5 74.9h0M162.4 76.3h0M128.0 73.4h0M140.7 75.2h0M138.9 75.6h0M140.0 76.1h0M144.4 72.8h0M151.8 73.6h0M130.9 75.9h0M139.7 75.3h0M139.9 75.3h0M145.3 73.0h0M124.7 75.5h0M163.9 75.4h0M145.2 76.5h0M106.4 57.9h0M155.2 68.2h0M127.3 68.4h0M138.3 60.9h0M138.2 71.9h0M147.8 70.2h0M124.0 69.4h0M109.3 63.7h0M123.1 45.6h0M158.8 73.9h0M142.3 53.6h0M150.9 70.9h0M119.6 61.3h0M123.2 72.7h0M147.2 63.4h0M137.5 58.3h0M129.9 87.3h0M121.4 92.1h0M102.5 120.0h0M134.9 87.5h0M101.6 122.7h0M111.5 100.5h0M105.8 108.3h0M115.9 90.6h0M102.8 125.7h0M105.9 112.2h0M123.4 87.7h0M106.2 108.5h0M126.3 87.0h0M134.5 93.4h0M107.7 119.1h0M102.4 117.4h0M134.8 92.4h0M131.6 89.2h0M111.9 103.9h0M129.8 86.1h0M120.4 88.6h0M130.7 85.6h0M129.9 88.7h0M110.2 103.5h0M119.8 87.6h0M103.6 111.8h0M126.2 93.4h0M138.0 86.1h0M108.4 110.8h0M133.2 90.6h0M102.3 114.2h0M100.3 109.3h0M119.6 96.3h0M107.4 104.4h0M114.5 90.7h0M116.1 90.4h0M115.3 100.8h0M109.8 101.6h0M100.9 114.3h0M128.1 91.1h0M105.6 122.7h0M117.5 92.9h0M125.8 93.7h0M135.3 85.3h0M129.4 86.5h0M107.8 119.1h0M123.3 94.7h0M138.0 87.1h0M128.6 89.4h0M129.2 87.6h0M100.9 124.2h0M105.8 111.1h0M111.2 98.5h0M130.1 88.2h0M124.7 93.0h0M107.9 106.4h0M121.8 91.4h0M134.8 85.2h0M119.0 98.9h0M128.7 90.7h0M133.7 88.6h0M120.9 89.3h0M116.6 96.6h0M123.4 87.6h0M135.2 90.4h0M104.9 120.3h0M134.1 85.8h0M113.3 101.4h0M119.4 88.8h0M133.0 90.0h0M105.2 110.7h0M102.4 114.4h0M103.0 118.0h0M136.9 86.5h0M124.5 89.6h0M126.6 94.1h0M101.1 113.5h0M137.6 90.3h0M134.8 89.3h0M126.0 88.0h0M130.7 88.0h0M131.4 91.2h0M130.3 86.9h0M128.2 98.9h0M128.1 86.8h0M124.2 95.8h0M107.4 105.2h0M107.0 122.2h0M127.1 94.4h0M121.8 90.0h0M119.3 100.4h0M128.8 91.6h0M110.9 106.3h0M111.2 95.9h0M121.5 90.1h0M129.6 85.5h0M111.8 108.5h0M124.8 87.3h0M132.6 85.9h0M136.5 89.1h0M125.2 89.4h0M108.9 104.3h0M114.6 99.1h0M113.4 96.3h0M101.9 112.5h0M102.2 116.4h0M121.7 89.0h0M103.4 111.6h0M117.4 93.0h0M107.2 104.6h0M116.4 92.4h0M123.8 90.4h0M122.8 97.6h0M111.4 109.1h0M135.7 89.9h0M104.1 110.2h0M136.7 86.9h0M135.4 86.4h0M131.2 85.9h0M131.6 92.2h0M111.7 117.7h0M108.6 101.3h0M122.5 88.2h0M107.4 112.2h0M135.0 85.9h0M127.5 86.9h0M118.6 91.1h0M117.2 99.8h0M105.1 114.8h0M135.8 90.8h0M121.2 92.5h0M124.2 91.1h0M106.7 110.3h0M133.6 91.1h0M106.6 109.0h0M119.3 90.4h0M103.9 111.4h0M114.9 92.2h0M103.2 119.3h0M132.9 85.6h0M126.3 93.6h0M103.6 114.4h0M120.0 93.3h0M122.4 93.9h0M119.6 91.0h0M100.0 110.6h0M135.5 89.7h0M127.8 92.7h0M134.9 88.2h0M112.0 96.4h0M120.4 87.8h0M113.2 100.4h0M115.9 99.4h0M102.1 124.5h0M137.2 86.1h0M114.3 101.4h0M102.7 114.5h0M122.9 95.2h0M137.7 86.3h0M132.3 91.8h0M132.2 91.1h0M119.2 92.2h0M124.6 89.0h0M131.5 93.1h0M138.0 88.9h0M110.9 98.2h0M115.5 92.6h0M112.3 86.6h0M141.8 86.1h0M142.4 85.1h0M121.9 85.1h0M139.9 90.2h0M134.9 83.5h0M133.9 84.4h0M140.2 87.2h0M130.2 84.9h0M113.7 86.5h0M117.2 85.2h0M110.0 90.9h0M148.3 89.3h0M125.0 86.3h0M131.4 83.4h0M117.4 86.3h0M124.4 83.7h0M110.7 85.3h0M142.3 87.2h0M112.9 85.0h0M121.9 86.7h0M160.5 83.6h0M125.1 88.2h0M121.1 85.6h0M121.5 84.7h0M127.1 92.4h0M134.8 84.2h0M151.7 84.3h0M156.7 85.8h0M121.5 83.4h0M124.8 84.8h0M116.2 91.6h0M128.8 87.0h0M164.8 83.8h0M133.1 86.2h0M179.9 83.9h0M114.8 85.6h0M137.1 86.6h0M136.0 84.5h0M176.9 83.6h0M113.5 83.4h0M162.0 83.6h0M149.8 83.5h0M156.5 85.5h0M123.8 84.7h0M140.1 84.4h0M126.1 88.1h0M157.8 83.7h0M133.1 86.2h0M143.8 83.6h0M111.1 84.9h0M167.1 84.5h0M124.0 88.5h0M132.7 84.6h0M122.5 85.1h0M117.3 83.8h0M122.0 84.1h0M164.9 83.6h0M130.7 84.9h0M154.9 84.6h0M126.2 89.7h0M172.5 83.7h0M154.3 85.1h0M126.3 85.9h0M144.6 85.6h0M131.1 90.6h0M153.3 88.0h0M115.3 83.8h0M134.3 85.2h0M136.6 83.8h0M132.5 84.8h0M133.6 86.2h0M133.4 83.6h0M116.4 84.9h0M185.8 87.5h0M119.9 86.1h0M114.1 85.1h0M131.2 89.3h0M131.5 84.0h0M140.6 97.6h0M138.2 86.1h0M143.6 89.7h0M115.2 92.1h0M123.6 87.9h0M120.7 85.8h0M137.1 86.9h0M118.0 84.3h0M150.0 92.2h0M188.5 84.2h0M116.4 92.3h0M141.9 85.2h0M120.5 87.9h0M130.3 83.4h0M110.3 83.7h0M142.8 93.0h0M126.4 89.5h0M138.1 95.4h0M128.3 92.4h0M153.8 85.8h0M143.5 88.1h0M169.6 84.5h0M111.0 86.5h0M133.7 83.5h0M126.6 87.2h0M121.2 85.9h0M172.2 84.9h0M173.7 86.2h0M187.0 83.6h0M182.9 85.7h0M120.8 86.9h0M117.6 105.9h0M126.1 84.4h0M166.6 84.2h0M138.9 83.9h0M137.4 83.4h0M137.4 86.9h0M140.2 87.1h0M115.1 85.1h0M118.9 87.8h0M109.3 88.7h0M109.2 85.0h0M126.1 85.9h0M139.7 84.5h0M135.0 84.6h0M194.1 83.6h0M148.7 87.9h0M116.3 84.5h0M114.7 83.8h0M186.1 84.1h0M138.9 86.7h0M126.5 84.3h0M162.0 85.9h0M130.8 84.7h0M164.5 84.5h0M137.0 84.1h0M111.8 93.8h0M156.3 84.6h0M121.6 86.9h0M126.4 84.1h0M137.9 84.5h0M131.9 85.7h0M151.0 83.4h0M113.3 83.9h0M188.0 83.9h0M129.2 87.8h0M142.2 86.0h0M142.3 83.5h0M134.0 84.3h0M181.3 83.6h0M120.9 88.2h0M117.1 83.8h0M141.6 90.5h0M174.7 85.2h0M111.6 87.0h0M148.4 85.6h0M146.6 87.1h0M191.6 83.7h0M167.2 90.9h0M125.6 91.0h0M138.4 86.2h0M113.3 89.5h0M130.8 83.6h0M128.4 85.5h0M138.4 84.5h0M138.3 90.8h0M127.1 83.5h0M160.4 83.6h0M119.2 86.4h0M137.1 84.2h0M123.4 89.2h0M115.7 85.3h0M111.3 85.7h0M172.8 83.6h0M178.7 83.4h0M121.0 85.0h0M121.5 84.5h0M169.9 83.5h0M113.7 84.5h0M150.7 92.7h0M128.9 84.3h0M174.2 83.7h0M114.9 83.8h0M119.2 85.0h0M135.3 84.9h0M117.8 86.2h0M147.7 83.5h0M109.8 84.0h0M127.5 87.5h0M122.9 87.9h0M170.5 87.4h0M143.0 86.1h0M124.4 84.6h0M146.5 94.5h0M134.0 83.9h0M129.7 84.7h0M129.9 84.6h0M120.4 85.3h0M151.4 85.6h0M158.1 84.3h0M119.2 83.6h0M128.8 85.6h0M136.9 87.4h0M172.0 83.6h0M110.3 84.0h0M121.7 87.5h0M149.8 83.6h0M130.7 83.9h0M133.2 84.3h0M145.2 84.6h0M147.9 85.7h0M137.2 84.4h0M125.0 83.6h0M111.2 96.7h0M145.7 88.1h0M111.4 86.7h0M116.6 83.7h0M133.3 86.8h0M137.8 83.7h0M110.0 85.2h0M114.2 85.8h0M146.3 83.5h0M120.5 83.6h0M137.4 83.7h0M143.5 90.0h0M128.7 86.4h0M116.0 87.9h0M113.9 86.1h0M124.2 85.6h0M113.2 84.3h0M164.5 83.5h0M126.6 85.4h0M158.8 86.0h0M129.2 85.7h0M135.5 86.1h0M181.3 83.4h0M125.3 85.0h0M115.8 84.6h0M139.2 93.0h0M149.1 83.6h0M134.0 86.8h0M178.8 84.5h0M131.2 85.7h0M151.7 83.8h0M118.8 93.7h0M121.7 87.1h0M109.5 96.7h0M120.2 84.3h0M176.9 85.1h0M112.6 83.8h0M149.5 86.9h0M129.1 85.6h0M112.7 95.6h0M121.5 85.1h0M114.2 87.9h0M130.9 85.3h0M139.6 89.3h0M121.3 89.4h0M190.7 84.1h0M111.7 84.0h0M164.6 86.0h0M143.7 84.9h0M123.2 90.0h0M119.5 83.8h0M135.1 83.8h0M137.1 83.8h0M166.3 83.8h0M135.3 84.8h0M151.6 87.6h0M187.6 83.7h0M129.3 85.1h0M133.2 88.3h0M125.6 83.9h0M123.4 87.8h0M117.8 84.1h0M125.5 87.0h0M124.8 84.6h0M118.2 86.5h0M157.6 84.6h0M122.5 84.8h0M170.4 83.5h0M134.7 89.7h0M124.5 86.8h0M167.4 83.8h0M110.5 90.0h0M119.3 92.0h0M113.9 84.0h0M126.7 86.0h0M112.9 84.4h0M127.3 84.6h0M108.6 86.7h0M168.4 84.4h0M177.8 85.1h0M124.1 87.1h0M146.2 84.8h0M136.2 84.3h0M111.7 83.9h0M130.1 84.4h0M160.7 84.4h0M115.3 87.4h0M147.9 89.6h0M129.9 87.8h0M121.4 84.0h0M188.6 83.5h0M111.4 93.2h0M162.3 83.6h0M135.9 88.4h0M114.0 86.9h0M154.9 83.8h0M133.5 87.9h0M129.5 86.1h0M109.2 89.3h0M187.6 83.5h0M135.5 86.0h0M116.2 86.4h0M117.5 85.0h0M136.6 87.0h0M131.7 83.6h0M132.1 83.5h0M157.3 85.0h0M124.8 87.0h0M116.9 93.8h0M122.3 87.2h0M112.7 83.9h0M130.1 83.5h0M134.5 83.7h0M166.3 84.8h0M119.5 84.5h0M192.6 85.4h0M131.7 84.3h0M130.5 83.6h0M125.6 83.6h0M130.2 84.0h0M118.9 84.1h0M124.7 86.0h0M172.4 86.9h0M110.9 83.7h0M123.5 84.3h0M129.7 89.3h0M139.0 85.4h0M133.6 83.9h0M129.9 83.6h0M153.2 92.0h0M135.8 86.2h0M115.2 88.2h0M161.7 86.1h0M141.0 86.0h0M135.3 84.0h0M139.2 84.7h0M182.2 84.3h0M122.5 87.3h0M122.2 83.9h0M127.4 84.6h0M136.9 84.7h0M125.4 90.2h0M127.2 84.1h0M157.4 86.9h0M169.7 84.0h0M167.7 84.5h0M148.9 83.4h0M139.1 85.5h0M113.8 83.4h0M141.7 83.8h0M147.1 86.5h0M160.9 83.6h0M144.1 85.8h0M191.8 85.8h0M129.8 85.9h0M115.4 87.1h0M117.1 85.4h0M158.6 86.2h0M133.6 85.6h0M134.7 89.0h0M113.7 100.3h0M129.2 84.3h0M126.2 88.4h0M115.1 90.4h0M126.7 87.3h0M139.2 91.1h0M148.4 83.4h0M120.6 84.9h0M130.8 83.8h0M153.2 85.5h0M135.3 92.0h0M114.4 83.6h0M130.7 84.7h0M114.7 86.8h0M128.4 93.9h0M166.6 83.5h0M122.5 83.5h0M127.0 83.6h0M126.9 84.2h0M142.1 86.5h0M138.5 85.4h0M132.9 88.0h0M155.2 85.7h0M136.9 85.7h0M164.5 84.9h0M115.8 83.6h0M115.9 87.1h0M122.0 85.4h0M116.1 84.1h0M113.3 86.8h0M162.1 84.3h0M151.1 85.3h0M122.2 87.4h0M148.6 86.1h0M156.2 83.9h0M174.3 83.8h0M136.9 85.1h0M109.4 85.2h0M134.2 84.0h0M142.6 83.7h0M193.1 83.8h0M109.8 83.6h0M134.0 88.8h0M124.5 85.7h0M127.3 83.4h0M144.3 112.9h0M104.7 104.7h0M111.5 95.0h0M166.1 93.9h0M127.5 93.4h0M153.7 104.7h0M160.3 90.6h0M156.8 86.6h0M104.8 102.8h0M130.7 95.6h0M119.5 86.7h0M104.7 93.2h0M157.4 103.2h0M158.5 115.6h0M155.2 86.9h0M128.5 95.5h0M145.9 105.9h0M123.0 96.5h0M156.5 93.8h0M111.4 106.5h0M164.8 92.5h0M143.2 96.0h0M115.1 111.2h0M120.6 90.9h0M129.8 97.1h0" stroke="#f2f2f2" stroke-width="2.7" stroke-linecap="round" fill="none"/>
<path d="M102.7 40.3h0M108.4 40.0h0M119.2 61.1h0M119.1 69.0h0M95.7 44.7h0M94.6 50.4h0M117.0 60.3h0M103.7 47.3h0M104.3 47.8h0M113.2 61.2h0M113.6 57.5h0M98.1 48.0h0M105.4 45.7h0M93.4 51.6h0M99.5 39.2h0M100.7 49.1h0M110.2 56.2h0M114.1 56.4h0M101.4 37.5h0M116.5 63.2h0M96.6 50.0h0M98.4 45.2h0M99.3 44.0h0M92.2 50.9h0M109.9 40.1h0M117.6 63.3h0M92.4 41.6h0M101.3 43.8h0M107.2 52.9h0M92.8 51.6h0M103.6 44.6h0M103.9 47.4h0M114.1 49.8h0M108.4 46.4h0M111.6 51.5h0M111.3 56.0h0M108.4 53.4h0M99.9 42.7h0M99.4 34.3h0M101.2 42.9h0M94.0 48.4h0M112.1 55.1h0M102.2 49.6h0M104.8 49.0h0M112.3 56.2h0M113.6 55.9h0M119.3 69.7h0M105.6 43.4h0M100.0 43.9h0M113.6 55.0h0M112.7 55.7h0M117.6 60.9h0M118.5 67.6h0M109.3 56.8h0M114.1 62.0h0M105.1 36.5h0M111.4 58.9h0M103.5 40.8h0M99.0 42.4h0M98.6 47.5h0M114.6 59.4h0M95.5 41.4h0M113.1 63.3h0M95.9 47.9h0M96.2 42.6h0M108.8 51.0h0M118.7 65.3h0" stroke="#7c7478" stroke-width="1.7" stroke-linecap="round" fill="none"/>
<path d="M144.0 72.6h0M131.5 70.4h0M123.9 70.9h0M132.7 73.6h0M109.4 49.3h0M119.8 69.5h0M125.5 72.7h0M126.6 70.7h0M144.8 72.5h0M113.7 61.8h0M141.9 71.4h0M125.5 69.5h0M112.6 60.7h0M120.8 68.1h0M120.4 70.5h0M114.3 57.2h0M131.2 73.3h0M113.7 62.4h0M136.0 72.0h0M127.7 73.7h0M124.9 72.9h0M144.4 73.0h0M141.8 74.0h0M110.0 52.2h0M141.4 74.0h0M119.2 67.2h0M137.4 73.2h0M124.3 72.5h0M141.8 73.9h0M111.2 55.8h0M112.6 60.0h0M108.6 54.2h0M119.9 69.5h0M126.4 73.9h0M136.6 72.4h0M112.3 61.1h0M141.4 74.2h0M145.0 73.9h0M140.3 72.8h0M139.5 67.9h0M121.8 68.5h0M109.8 49.2h0M138.0 68.6h0M141.8 71.0h0M140.0 71.8h0M136.6 71.1h0M121.2 68.0h0M140.2 74.2h0M119.4 68.3h0M144.9 74.1h0M127.1 73.9h0M108.8 54.2h0M117.3 67.7h0M139.7 70.0h0M143.0 73.5h0M130.8 71.2h0M126.3 72.0h0M133.7 73.2h0M134.2 74.1h0M109.7 49.3h0M120.8 74.0h0M117.2 76.3h0M145.1 76.5h0M132.6 76.2h0M130.6 76.4h0M192.1 75.7h0M140.9 76.5h0M140.2 76.0h0M118.5 69.6h0M162.1 73.5h0M140.6 66.8h0M147.5 75.4h0M125.8 70.1h0M116.0 75.6h0M171.7 76.0h0M115.1 75.1h0M130.1 73.6h0M155.1 76.0h0M138.1 74.7h0M153.3 74.2h0M164.9 75.9h0M127.0 74.5h0M163.8 76.5h0M158.3 76.1h0M115.7 76.5h0M126.0 76.3h0M136.6 76.3h0M122.2 75.7h0M136.0 74.5h0M152.4 75.7h0M124.4 74.2h0M122.9 72.8h0M136.9 76.4h0M113.3 75.8h0M177.5 75.9h0M175.5 74.7h0M126.4 73.7h0M122.9 74.9h0M132.7 71.2h0M122.0 76.0h0M173.0 76.0h0M149.7 76.4h0M114.0 73.5h0M120.0 73.7h0M122.6 71.9h0M144.3 76.4h0M152.9 75.7h0M141.8 76.4h0M126.7 76.4h0M174.9 76.5h0M113.3 73.2h0M127.3 74.1h0M150.1 76.3h0M122.9 76.6h0M168.5 73.8h0M118.6 70.3h0M151.3 76.0h0M124.1 75.0h0M127.1 72.7h0M142.7 75.2h0M118.6 71.0h0M154.2 76.6h0M156.2 75.4h0M122.4 73.5h0M130.8 74.1h0M132.5 76.5h0M181.4 76.5h0M134.3 74.5h0M135.8 71.1h0M160.3 74.4h0M131.2 76.5h0M135.3 73.1h0M158.0 76.4h0M117.4 71.5h0M143.3 76.3h0M153.7 76.5h0M122.2 74.9h0M119.5 75.1h0M134.5 67.4h0M119.2 76.3h0M137.1 75.6h0M130.6 75.8h0M149.5 76.0h0M137.3 76.2h0M158.1 75.8h0M156.6 75.4h0M150.7 73.9h0M124.5 75.8h0M137.1 75.9h0M142.8 73.0h0M120.8 73.7h0M134.6 74.1h0M148.0 75.3h0M136.0 75.8h0M131.4 76.3h0M122.3 76.2h0M136.6 76.5h0M199.8 76.6h0M124.2 75.2h0M132.9 76.2h0M135.7 75.9h0M143.9 74.8h0M147.1 75.9h0M153.7 75.9h0M141.0 73.5h0M128.9 75.3h0M129.8 76.6h0M120.2 72.1h0M126.6 74.9h0M124.8 76.3h0M145.6 75.5h0M134.1 75.9h0M140.1 76.3h0M155.2 74.9h0M114.9 75.4h0M128.6 74.5h0M123.2 76.4h0M116.4 69.7h0M156.2 76.1h0M138.2 76.4h0M183.4 76.4h0M125.0 76.3h0M147.5 75.7h0M139.2 76.5h0M118.0 75.1h0M118.8 74.6h0M138.8 75.2h0M114.2 73.3h0M136.9 75.6h0M198.3 74.6h0M146.2 76.4h0M118.8 72.6h0M154.1 76.6h0M144.1 75.8h0M162.3 75.8h0M127.6 76.2h0M117.3 69.2h0M127.8 76.3h0M120.4 75.3h0M120.4 74.8h0M127.2 76.5h0M116.6 73.4h0M127.4 73.6h0M168.2 75.3h0M137.4 75.5h0M175.2 76.1h0M147.7 74.3h0M135.3 74.2h0M129.2 73.6h0M126.0 69.2h0M139.2 75.9h0M136.4 76.1h0M120.3 74.8h0M124.4 74.7h0M122.7 76.5h0M133.5 76.4h0M133.0 75.6h0M163.0 76.2h0M116.8 76.6h0M158.7 74.8h0M157.8 71.1h0M135.3 75.8h0M145.1 72.2h0M138.3 74.0h0M143.4 76.3h0M147.9 76.5h0M131.8 73.2h0M125.9 74.6h0M124.9 74.7h0M122.8 74.5h0M139.5 76.4h0M119.6 70.5h0M128.4 76.1h0M174.0 76.3h0M171.6 75.8h0M120.4 76.3h0M136.8 74.3h0M126.9 73.9h0M172.8 76.2h0M130.6 75.4h0M134.6 75.4h0M154.6 74.9h0M139.0 76.3h0M150.8 76.6h0M155.1 76.3h0M131.1 74.6h0M150.1 73.4h0M136.1 75.6h0M145.8 74.5h0M131.0 73.0h0M123.9 75.2h0M171.1 75.3h0M118.2 71.6h0M145.8 73.6h0M131.7 75.2h0M129.4 74.3h0M139.9 75.3h0M137.1 76.2h0M143.9 75.8h0M126.1 76.4h0M145.8 76.0h0M129.3 74.1h0M114.7 75.3h0M169.5 76.0h0M116.8 66.5h0M121.2 76.1h0M152.1 75.1h0M116.4 73.7h0M119.0 76.0h0M180.8 74.2h0M140.9 74.9h0M129.5 75.6h0M151.9 71.1h0M152.6 76.0h0M164.2 72.2h0M132.0 68.9h0M143.5 70.9h0M125.3 76.5h0M125.7 76.2h0M127.2 73.6h0M115.8 75.3h0M137.4 76.0h0M127.3 76.4h0M146.3 75.9h0M115.4 75.7h0M175.7 75.2h0M118.0 75.5h0M128.2 76.2h0M158.6 76.2h0M116.3 75.7h0M151.9 75.6h0M128.1 76.2h0M115.9 71.8h0M117.2 75.1h0M135.2 75.6h0M137.4 73.3h0M147.7 74.1h0M115.4 73.0h0M125.9 76.4h0M139.7 76.1h0M124.2 74.2h0M121.7 76.4h0M148.3 75.6h0M134.3 75.9h0M176.8 75.4h0M141.6 73.2h0M174.1 76.4h0M125.6 74.7h0M129.0 71.6h0M167.5 76.1h0M150.5 74.4h0M146.2 75.9h0M135.2 73.7h0M123.7 76.2h0M171.3 74.5h0M153.8 73.4h0M164.2 76.1h0M144.4 75.1h0M140.4 73.2h0M180.5 76.5h0M122.8 71.3h0M126.4 73.8h0M117.3 76.0h0M130.3 71.5h0M147.4 76.4h0M116.3 74.9h0M133.0 72.2h0M114.5 76.3h0M138.6 75.3h0M131.9 75.5h0M148.3 74.6h0M129.4 72.4h0M137.5 76.5h0M118.8 76.4h0M176.3 75.6h0M135.4 76.1h0M186.1 76.2h0M135.3 73.3h0M161.5 75.8h0M153.6 76.5h0M161.6 76.3h0M127.2 76.5h0M168.2 75.0h0M126.1 74.7h0M112.6 75.3h0M155.7 75.8h0M119.1 70.5h0M114.2 76.5h0M148.7 75.9h0M184.1 75.9h0M134.6 75.8h0M140.5 75.4h0M152.4 72.2h0M114.8 74.9h0M137.2 74.8h0M113.6 76.2h0M166.5 75.0h0M167.6 75.4h0M166.3 75.1h0M118.9 76.2h0M118.5 73.1h0M128.5 73.6h0M120.5 73.8h0M175.0 75.6h0M181.7 75.8h0M159.6 75.2h0M142.5 72.7h0M152.2 74.1h0M133.8 76.5h0M135.7 75.4h0M146.3 72.5h0M122.6 74.4h0M150.2 76.2h0M122.9 76.5h0M136.9 74.3h0M165.2 76.0h0M172.1 75.5h0M128.7 75.9h0M149.1 75.5h0M159.8 76.4h0M146.6 75.8h0M189.3 76.4h0M115.6 74.1h0M156.3 75.9h0M128.0 75.0h0M137.6 76.1h0M173.0 75.7h0M113.5 76.0h0M149.8 74.5h0M119.2 74.8h0M140.4 75.4h0M119.3 66.4h0M119.2 71.9h0M152.2 75.7h0M148.1 75.7h0M115.8 76.2h0M154.0 74.5h0M147.1 75.8h0M153.6 76.4h0M130.9 76.6h0M147.1 76.0h0M162.7 75.8h0M129.0 73.9h0M124.0 76.1h0M170.6 74.7h0M152.8 75.6h0M142.7 69.9h0M160.9 73.9h0M164.5 74.1h0M155.1 73.5h0M137.5 76.5h0M166.9 76.5h0M182.8 76.4h0M132.0 73.3h0M138.3 75.9h0M137.9 76.5h0M135.4 75.5h0M137.7 76.5h0M143.4 76.6h0M120.5 74.9h0M162.4 76.3h0M128.0 73.4h0M140.7 75.2h0M138.9 75.6h0M140.0 76.1h0M144.4 72.8h0M151.8 73.6h0M130.9 75.9h0M139.7 75.3h0M139.9 75.3h0M145.3 73.0h0M124.7 75.5h0M163.9 75.4h0M145.2 76.5h0M106.4 57.9h0M155.2 68.2h0M127.3 68.4h0M138.3 60.9h0M138.2 71.9h0M147.8 70.2h0M124.0 69.4h0M109.3 63.7h0M123.1 45.6h0M158.8 73.9h0M142.3 53.6h0M150.9 70.9h0M119.6 61.3h0M123.2 72.7h0M147.2 63.4h0M137.5 58.3h0" stroke="#c0283c" stroke-width="1.7" stroke-linecap="round" fill="none"/>
<path d="M129.9 87.3h0M121.4 92.1h0M102.5 120.0h0M134.9 87.5h0M101.6 122.7h0M111.5 100.5h0M105.8 108.3h0M115.9 90.6h0M102.8 125.7h0M105.9 112.2h0M123.4 87.7h0M106.2 108.5h0M126.3 87.0h0M134.5 93.4h0M107.7 119.1h0M102.4 117.4h0M134.8 92.4h0M131.6 89.2h0M111.9 103.9h0M129.8 86.1h0M120.4 88.6h0M130.7 85.6h0M129.9 88.7h0M110.2 103.5h0M119.8 87.6h0M103.6 111.8h0M126.2 93.4h0M138.0 86.1h0M108.4 110.8h0M133.2 90.6h0M102.3 114.2h0M100.3 109.3h0M119.6 96.3h0M107.4 104.4h0M114.5 90.7h0M116.1 90.4h0M115.3 100.8h0M109.8 101.6h0M100.9 114.3h0M128.1 91.1h0M105.6 122.7h0M117.5 92.9h0M125.8 93.7h0M135.3 85.3h0M129.4 86.5h0M107.8 119.1h0M123.3 94.7h0M138.0 87.1h0M128.6 89.4h0M129.2 87.6h0M100.9 124.2h0M105.8 111.1h0M111.2 98.5h0M130.1 88.2h0M124.7 93.0h0M107.9 106.4h0M121.8 91.4h0M134.8 85.2h0M119.0 98.9h0M128.7 90.7h0M133.7 88.6h0M120.9 89.3h0M116.6 96.6h0M123.4 87.6h0M135.2 90.4h0M104.9 120.3h0M134.1 85.8h0M113.3 101.4h0M119.4 88.8h0M133.0 90.0h0M105.2 110.7h0M102.4 114.4h0M103.0 118.0h0M136.9 86.5h0M124.5 89.6h0M126.6 94.1h0M101.1 113.5h0M137.6 90.3h0M134.8 89.3h0M126.0 88.0h0M130.7 88.0h0M131.4 91.2h0M130.3 86.9h0M128.2 98.9h0M128.1 86.8h0M124.2 95.8h0M107.4 105.2h0M107.0 122.2h0M127.1 94.4h0M121.8 90.0h0M119.3 100.4h0M128.8 91.6h0M110.9 106.3h0M111.2 95.9h0M121.5 90.1h0M129.6 85.5h0M111.8 108.5h0M124.8 87.3h0M132.6 85.9h0M136.5 89.1h0M125.2 89.4h0M108.9 104.3h0M114.6 99.1h0M113.4 96.3h0M101.9 112.5h0M102.2 116.4h0M121.7 89.0h0M103.4 111.6h0M117.4 93.0h0M107.2 104.6h0M116.4 92.4h0M123.8 90.4h0M122.8 97.6h0M111.4 109.1h0M135.7 89.9h0M104.1 110.2h0M136.7 86.9h0M135.4 86.4h0M131.2 85.9h0M131.6 92.2h0M111.7 117.7h0M108.6 101.3h0M122.5 88.2h0M107.4 112.2h0M135.0 85.9h0M127.5 86.9h0M118.6 91.1h0M117.2 99.8h0M105.1 114.8h0M135.8 90.8h0M121.2 92.5h0M124.2 91.1h0M106.7 110.3h0M133.6 91.1h0M106.6 109.0h0M119.3 90.4h0M103.9 111.4h0M114.9 92.2h0M103.2 119.3h0M132.9 85.6h0M126.3 93.6h0M103.6 114.4h0M120.0 93.3h0M122.4 93.9h0M119.6 91.0h0M100.0 110.6h0M135.5 89.7h0M127.8 92.7h0M134.9 88.2h0M112.0 96.4h0M120.4 87.8h0M113.2 100.4h0M115.9 99.4h0M102.1 124.5h0M137.2 86.1h0M114.3 101.4h0M102.7 114.5h0M122.9 95.2h0M137.7 86.3h0M132.3 91.8h0M132.2 91.1h0M119.2 92.2h0M124.6 89.0h0M131.5 93.1h0M138.0 88.9h0M110.9 98.2h0M115.5 92.6h0M112.3 86.6h0M141.8 86.1h0M142.4 85.1h0M121.9 85.1h0M139.9 90.2h0M134.9 83.5h0M133.9 84.4h0M140.2 87.2h0M130.2 84.9h0M113.7 86.5h0M117.2 85.2h0M110.0 90.9h0M148.3 89.3h0M125.0 86.3h0M131.4 83.4h0M117.4 86.3h0M124.4 83.7h0M110.7 85.3h0M142.3 87.2h0M112.9 85.0h0M121.9 86.7h0M160.5 83.6h0M125.1 88.2h0M121.1 85.6h0M121.5 84.7h0M127.1 92.4h0M134.8 84.2h0M151.7 84.3h0M156.7 85.8h0M121.5 83.4h0M124.8 84.8h0M116.2 91.6h0M128.8 87.0h0M164.8 83.8h0M133.1 86.2h0M179.9 83.9h0M114.8 85.6h0M137.1 86.6h0M136.0 84.5h0M176.9 83.6h0M113.5 83.4h0M162.0 83.6h0M149.8 83.5h0M156.5 85.5h0M123.8 84.7h0M140.1 84.4h0M126.1 88.1h0M157.8 83.7h0M133.1 86.2h0M143.8 83.6h0M111.1 84.9h0M167.1 84.5h0M124.0 88.5h0M132.7 84.6h0M122.5 85.1h0M117.3 83.8h0M122.0 84.1h0M164.9 83.6h0M130.7 84.9h0M154.9 84.6h0M126.2 89.7h0M172.5 83.7h0M154.3 85.1h0M126.3 85.9h0M144.6 85.6h0M131.1 90.6h0M153.3 88.0h0M115.3 83.8h0M134.3 85.2h0M136.6 83.8h0M132.5 84.8h0M133.6 86.2h0M133.4 83.6h0M116.4 84.9h0M185.8 87.5h0M119.9 86.1h0M114.1 85.1h0M131.2 89.3h0M131.5 84.0h0M140.6 97.6h0M138.2 86.1h0M143.6 89.7h0M115.2 92.1h0M123.6 87.9h0M120.7 85.8h0M137.1 86.9h0M118.0 84.3h0M150.0 92.2h0M188.5 84.2h0M116.4 92.3h0M141.9 85.2h0M120.5 87.9h0M130.3 83.4h0M110.3 83.7h0M142.8 93.0h0M126.4 89.5h0M138.1 95.4h0M128.3 92.4h0M153.8 85.8h0M143.5 88.1h0M169.6 84.5h0M111.0 86.5h0M133.7 83.5h0M126.6 87.2h0M121.2 85.9h0M172.2 84.9h0M173.7 86.2h0M187.0 83.6h0M182.9 85.7h0M120.8 86.9h0M117.6 105.9h0M126.1 84.4h0M166.6 84.2h0M138.9 83.9h0M137.4 83.4h0M137.4 86.9h0M140.2 87.1h0M115.1 85.1h0M118.9 87.8h0M109.3 88.7h0M109.2 85.0h0M126.1 85.9h0M139.7 84.5h0M135.0 84.6h0M194.1 83.6h0M148.7 87.9h0M116.3 84.5h0M114.7 83.8h0M186.1 84.1h0M138.9 86.7h0M126.5 84.3h0M162.0 85.9h0M130.8 84.7h0M164.5 84.5h0M137.0 84.1h0M111.8 93.8h0M156.3 84.6h0M121.6 86.9h0M126.4 84.1h0M137.9 84.5h0M131.9 85.7h0M151.0 83.4h0M113.3 83.9h0M188.0 83.9h0M129.2 87.8h0M142.2 86.0h0M142.3 83.5h0M134.0 84.3h0M181.3 83.6h0M120.9 88.2h0M117.1 83.8h0M141.6 90.5h0M174.7 85.2h0M111.6 87.0h0M148.4 85.6h0M146.6 87.1h0M191.6 83.7h0M167.2 90.9h0M125.6 91.0h0M138.4 86.2h0M113.3 89.5h0M130.8 83.6h0M128.4 85.5h0M138.4 84.5h0M138.3 90.8h0M127.1 83.5h0M160.4 83.6h0M119.2 86.4h0M137.1 84.2h0M123.4 89.2h0M115.7 85.3h0M111.3 85.7h0M172.8 83.6h0M178.7 83.4h0M121.0 85.0h0M121.5 84.5h0M169.9 83.5h0M113.7 84.5h0M150.7 92.7h0M128.9 84.3h0M174.2 83.7h0M114.9 83.8h0M119.2 85.0h0M135.3 84.9h0M117.8 86.2h0M147.7 83.5h0M109.8 84.0h0M127.5 87.5h0M122.9 87.9h0M170.5 87.4h0M143.0 86.1h0M124.4 84.6h0M146.5 94.5h0M134.0 83.9h0M129.7 84.7h0M129.9 84.6h0M120.4 85.3h0M151.4 85.6h0M158.1 84.3h0M119.2 83.6h0M128.8 85.6h0M136.9 87.4h0M172.0 83.6h0M110.3 84.0h0M121.7 87.5h0M149.8 83.6h0M130.7 83.9h0M133.2 84.3h0M145.2 84.6h0M147.9 85.7h0M137.2 84.4h0M125.0 83.6h0M111.2 96.7h0M145.7 88.1h0M111.4 86.7h0M116.6 83.7h0M133.3 86.8h0M137.8 83.7h0M110.0 85.2h0M114.2 85.8h0M146.3 83.5h0M120.5 83.6h0M137.4 83.7h0M143.5 90.0h0M128.7 86.4h0M116.0 87.9h0M113.9 86.1h0M124.2 85.6h0M113.2 84.3h0M164.5 83.5h0M126.6 85.4h0M158.8 86.0h0M129.2 85.7h0M135.5 86.1h0M181.3 83.4h0M125.3 85.0h0M115.8 84.6h0M139.2 93.0h0M149.1 83.6h0M134.0 86.8h0M178.8 84.5h0M131.2 85.7h0M151.7 83.8h0M118.8 93.7h0M121.7 87.1h0M109.5 96.7h0M120.2 84.3h0M176.9 85.1h0M112.6 83.8h0M149.5 86.9h0M129.1 85.6h0M112.7 95.6h0M121.5 85.1h0M114.2 87.9h0M130.9 85.3h0M139.6 89.3h0M121.3 89.4h0M190.7 84.1h0M111.7 84.0h0M164.6 86.0h0M143.7 84.9h0M123.2 90.0h0M119.5 83.8h0M135.1 83.8h0M137.1 83.8h0M166.3 83.8h0M135.3 84.8h0M151.6 87.6h0M187.6 83.7h0M129.3 85.1h0M133.2 88.3h0M125.6 83.9h0M123.4 87.8h0M117.8 84.1h0M125.5 87.0h0M124.8 84.6h0M118.2 86.5h0M157.6 84.6h0M122.5 84.8h0M170.4 83.5h0M134.7 89.7h0M124.5 86.8h0M167.4 83.8h0M110.5 90.0h0M119.3 92.0h0M113.9 84.0h0M126.7 86.0h0M112.9 84.4h0M127.3 84.6h0M108.6 86.7h0M168.4 84.4h0M177.8 85.1h0M124.1 87.1h0M146.2 84.8h0M136.2 84.3h0M111.7 83.9h0M130.1 84.4h0M160.7 84.4h0M115.3 87.4h0M147.9 89.6h0M129.9 87.8h0M121.4 84.0h0M188.6 83.5h0M111.4 93.2h0M162.3 83.6h0M135.9 88.4h0M114.0 86.9h0M154.9 83.8h0M133.5 87.9h0M129.5 86.1h0M109.2 89.3h0M187.6 83.5h0M135.5 86.0h0M116.2 86.4h0M117.5 85.0h0M136.6 87.0h0M131.7 83.6h0M132.1 83.5h0M157.3 85.0h0M124.8 87.0h0M116.9 93.8h0M122.3 87.2h0M112.7 83.9h0M130.1 83.5h0M134.5 83.7h0M166.3 84.8h0M119.5 84.5h0M192.6 85.4h0M131.7 84.3h0M130.5 83.6h0M125.6 83.6h0M130.2 84.0h0M118.9 84.1h0M124.7 86.0h0M172.4 86.9h0M110.9 83.7h0M123.5 84.3h0M129.7 89.3h0M139.0 85.4h0M133.6 83.9h0M129.9 83.6h0M153.2 92.0h0M135.8 86.2h0M115.2 88.2h0M161.7 86.1h0M141.0 86.0h0M135.3 84.0h0M139.2 84.7h0M182.2 84.3h0M122.5 87.3h0M122.2 83.9h0M127.4 84.6h0M136.9 84.7h0M125.4 90.2h0M127.2 84.1h0M157.4 86.9h0M169.7 84.0h0M167.7 84.5h0M148.9 83.4h0M139.1 85.5h0M113.8 83.4h0M141.7 83.8h0M147.1 86.5h0M160.9 83.6h0M144.1 85.8h0M191.8 85.8h0M129.8 85.9h0M115.4 87.1h0M117.1 85.4h0M158.6 86.2h0M133.6 85.6h0M134.7 89.0h0M113.7 100.3h0M129.2 84.3h0M126.2 88.4h0M115.1 90.4h0M126.7 87.3h0M139.2 91.1h0M148.4 83.4h0M120.6 84.9h0M130.8 83.8h0M153.2 85.5h0M135.3 92.0h0M114.4 83.6h0M130.7 84.7h0M114.7 86.8h0M128.4 93.9h0M166.6 83.5h0M122.5 83.5h0M127.0 83.6h0M126.9 84.2h0M142.1 86.5h0M138.5 85.4h0M132.9 88.0h0M155.2 85.7h0M136.9 85.7h0M164.5 84.9h0M115.8 83.6h0M115.9 87.1h0M122.0 85.4h0M116.1 84.1h0M113.3 86.8h0M162.1 84.3h0M151.1 85.3h0M122.2 87.4h0M148.6 86.1h0M156.2 83.9h0M174.3 83.8h0M136.9 85.1h0M109.4 85.2h0M134.2 84.0h0M142.6 83.7h0M193.1 83.8h0M109.8 83.6h0M134.0 88.8h0M124.5 85.7h0M127.3 83.4h0M144.3 112.9h0M104.7 104.7h0M111.5 95.0h0M166.1 93.9h0M127.5 93.4h0M153.7 104.7h0M160.3 90.6h0M156.8 86.6h0M104.8 102.8h0M130.7 95.6h0M119.5 86.7h0M104.7 93.2h0M157.4 103.2h0M158.5 115.6h0M155.2 86.9h0M128.5 95.5h0M145.9 105.9h0M123.0 96.5h0M156.5 93.8h0M111.4 106.5h0M164.8 92.5h0M143.2 96.0h0M115.1 111.2h0M120.6 90.9h0M129.8 97.1h0" stroke="#2f5f95" stroke-width="1.7" stroke-linecap="round" fill="none"/>
<line x1="48.00" y1="75.50" x2="223.30" y2="75.50" stroke="#383838" stroke-width="1" />
<line x1="48.00" y1="85.50" x2="223.30" y2="85.50" stroke="#383838" stroke-width="1" />
<line x1="46.50" y1="31.80" x2="46.50" y2="128.60" stroke="#222" stroke-width="1.2" />
<line x1="46.00" y1="128.00" x2="223.50" y2="128.00" stroke="#222" stroke-width="1.2" />
<line x1="43.50" y1="55.00" x2="46.50" y2="55.00" stroke="#222" stroke-width="1" />
<text x="41.00" y="57.90" font-size="8.2" fill="#3a3a3a" text-anchor="end">5</text>
<line x1="43.50" y1="80.00" x2="46.50" y2="80.00" stroke="#222" stroke-width="1" />
<text x="41.00" y="82.90" font-size="8.2" fill="#3a3a3a" text-anchor="end">0</text>
<line x1="43.50" y1="105.00" x2="46.50" y2="105.00" stroke="#222" stroke-width="1" />
<text x="41.00" y="107.90" font-size="8.2" fill="#3a3a3a" text-anchor="end">−5</text>
<line x1="87.50" y1="128.00" x2="87.50" y2="131.00" stroke="#222" stroke-width="1" />
<text x="87.50" y="141.40" font-size="7.8" fill="#2a2a2a" text-anchor="middle">0.0</text>
<line x1="136.00" y1="128.00" x2="136.00" y2="131.00" stroke="#222" stroke-width="1" />
<text x="136.00" y="141.40" font-size="7.8" fill="#2a2a2a" text-anchor="middle">2.5</text>
<line x1="184.50" y1="128.00" x2="184.50" y2="131.00" stroke="#222" stroke-width="1" />
<text x="184.50" y="141.40" font-size="7.8" fill="#2a2a2a" text-anchor="middle">5.0</text>
<text x="104.40" y="153.80" font-size="9" fill="#2a2a2a" textLength="60.60" lengthAdjust="spacingAndGlyphs">Log10 (base mean)</text>
<text transform="translate(28.8,107.6) rotate(-90)" font-size="9.4" fill="#3a3a3a" textLength="55.3" lengthAdjust="spacingAndGlyphs">Log2 fold change</text>
<text x="166.00" y="43.50" font-size="7.6" fill="#c8374f" textLength="21.00" lengthAdjust="spacingAndGlyphs">835 up</text>
<text x="166.00" y="54.20" font-size="7.6" fill="#3b6e9e" textLength="30.00" lengthAdjust="spacingAndGlyphs">789 down</text>
<line x1="201.30" y1="63.00" x2="189.40" y2="72.50" stroke="#8a2a48" stroke-width="0.9" />
<line x1="204.40" y1="78.80" x2="200.60" y2="83.50" stroke="#8a2a48" stroke-width="0.9" />
<circle cx="203" cy="77.5" r="1.6" fill="none" stroke="#a088c0" stroke-width="0.7"/>
<circle cx="208" cy="77.5" r="1.6" fill="none" stroke="#a088c0" stroke-width="0.7"/>
<circle cx="212.5" cy="77.5" r="1.6" fill="none" stroke="#a088c0" stroke-width="0.7"/>
<line x1="150.50" y1="86.50" x2="161.50" y2="97.00" stroke="#2a4a70" stroke-width="0.8" />
<line x1="155.50" y1="86.20" x2="166.00" y2="95.00" stroke="#2a4a70" stroke-width="0.6" />
<text x="200.80" y="65.80" font-size="7" fill="#c8374f" textLength="13.80" lengthAdjust="spacingAndGlyphs">HBD</text>
<text x="172.50" y="73.20" font-size="7" fill="#a0a0a0" textLength="17.00" lengthAdjust="spacingAndGlyphs">GATA1</text>
<text x="196.00" y="74.60" font-size="7" fill="#c8374f" textLength="17.80" lengthAdjust="spacingAndGlyphs">HBA2</text>
<text x="207.00" y="84.20" font-size="7" fill="#c8374f" textLength="11.50" lengthAdjust="spacingAndGlyphs">HBB</text>
<text x="187.00" y="89.70" font-size="7" fill="#c8374f" textLength="17.60" lengthAdjust="spacingAndGlyphs">HBA1</text>
<text x="167.70" y="94.30" font-size="7" fill="#3b6e9e" textLength="17.70" lengthAdjust="spacingAndGlyphs">HBG2</text>
<text x="154.60" y="103.60" font-size="7" fill="#3b6e9e" textLength="21.60" lengthAdjust="spacingAndGlyphs">GATA2</text>
<text x="132.30" y="103.80" font-size="7" fill="#9a9a9a" textLength="18.50" lengthAdjust="spacingAndGlyphs">HBG1</text>
<text x="240.00" y="17.10" font-size="12" fill="#111" font-weight="bold">B</text>
<g transform="matrix(236.89,0,0,-154.24,242.31,178.23)">
<ellipse cx="0.35" cy="0.47" rx="0.35" ry="0.2" transform="rotate(135 0.35 0.47)" fill="#7dcca4" fill-opacity="0.246"/>
<ellipse cx="0.5" cy="0.57" rx="0.35" ry="0.15" transform="rotate(135 0.5 0.57)" fill="#00349a" fill-opacity="0.103"/>
<ellipse cx="0.5" cy="0.57" rx="0.33" ry="0.15" transform="rotate(45 0.5 0.57)" fill="#c460a6" fill-opacity="0.171"/>
<ellipse cx="0.65" cy="0.47" rx="0.35" ry="0.2" transform="rotate(45 0.65 0.47)" fill="#f1731f" fill-opacity="0.171"/>
<ellipse cx="0.35" cy="0.47" rx="0.35" ry="0.2" transform="rotate(135 0.35 0.47)" fill="none" stroke="#3a3a3a" stroke-width="1" vector-effect="non-scaling-stroke"/>
<ellipse cx="0.5" cy="0.57" rx="0.35" ry="0.15" transform="rotate(135 0.5 0.57)" fill="none" stroke="#3a3a3a" stroke-width="1" vector-effect="non-scaling-stroke"/>
<ellipse cx="0.5" cy="0.57" rx="0.33" ry="0.15" transform="rotate(45 0.5 0.57)" fill="none" stroke="#3a3a3a" stroke-width="1" vector-effect="non-scaling-stroke"/>
<ellipse cx="0.65" cy="0.47" rx="0.35" ry="0.2" transform="rotate(45 0.65 0.47)" fill="none" stroke="#3a3a3a" stroke-width="1" vector-effect="non-scaling-stroke"/>
</g>
<text x="285.50" y="91.90" font-size="7" fill="#2a2a2a" text-anchor="middle" stroke="#2a2a2a" stroke-width="0.12">253</text>
<text x="326.00" y="62.50" font-size="7" fill="#2a2a2a" text-anchor="middle" stroke="#2a2a2a" stroke-width="0.12">569</text>
<text x="396.40" y="62.50" font-size="7" fill="#2a2a2a" text-anchor="middle" stroke="#2a2a2a" stroke-width="0.12">499</text>
<text x="436.40" y="92.00" font-size="7" fill="#2a2a2a" text-anchor="middle" stroke="#2a2a2a" stroke-width="0.12">3048</text>
<text x="316.00" y="77.80" font-size="7" fill="#2a2a2a" text-anchor="middle" stroke="#2a2a2a" stroke-width="0.12">147</text>
<text x="361.30" y="75.00" font-size="7" fill="#2a2a2a" text-anchor="middle" stroke="#2a2a2a" stroke-width="0.12">239</text>
<text x="406.00" y="77.90" font-size="7" fill="#2a2a2a" text-anchor="middle" stroke="#2a2a2a" stroke-width="0.12">725</text>
<text x="337.70" y="91.50" font-size="7" fill="#2a2a2a" text-anchor="middle" stroke="#2a2a2a" stroke-width="0.12">150</text>
<text x="384.50" y="91.70" font-size="7" fill="#2a2a2a" text-anchor="middle" stroke="#2a2a2a" stroke-width="0.12">453</text>
<text x="361.30" y="108.50" font-size="7" fill="#2a2a2a" text-anchor="middle" stroke="#2a2a2a" stroke-width="0.12">365</text>
<text x="318.50" y="116.70" font-size="7" fill="#2a2a2a" text-anchor="middle" stroke="#2a2a2a" stroke-width="0.12">53</text>
<text x="403.30" y="116.30" font-size="7" fill="#2a2a2a" text-anchor="middle" stroke="#2a2a2a" stroke-width="0.12">639</text>
<text x="343.80" y="122.70" font-size="7" fill="#2a2a2a" text-anchor="middle" stroke="#2a2a2a" stroke-width="0.12">149</text>
<text x="378.70" y="122.70" font-size="7" fill="#2a2a2a" text-anchor="middle" stroke="#2a2a2a" stroke-width="0.12">219</text>
<text x="361.30" y="138.10" font-size="7" fill="#2a2a2a" text-anchor="middle" stroke="#2a2a2a" stroke-width="0.12">288</text>
<text x="270.00" y="47.50" font-size="6.9" fill="#2a2a2a" text-anchor="middle">day 0</text>
<text x="270.00" y="55.40" font-size="6.8" fill="#2a2a2a" text-anchor="middle">1,624 DEGs</text>
<text x="327.20" y="30.30" font-size="6.9" fill="#2a2a2a" text-anchor="middle">day 4</text>
<text x="327.20" y="38.20" font-size="6.8" fill="#2a2a2a" text-anchor="middle">2,781 DEGs</text>
<text x="397.00" y="32.80" font-size="6.9" fill="#2a2a2a" text-anchor="middle">day 7</text>
<text x="397.00" y="40.70" font-size="6.8" fill="#2a2a2a" text-anchor="middle">2,633 DEGs</text>
<text x="452.00" y="46.70" font-size="6.9" fill="#2a2a2a" text-anchor="middle">day 9</text>
<text x="452.00" y="54.60" font-size="6.8" fill="#2a2a2a" text-anchor="middle">5,886 DEGs</text>
<text x="7.20" y="182.00" font-size="12" fill="#111" font-weight="bold">C</text>
<rect x="278.70" y="188.00" width="4.40" height="4.20" fill="#1a3f6e" />
<line x1="275.00" y1="190.10" x2="278.70" y2="190.10" stroke="#222" stroke-width="0.9" />
<text x="95.60" y="192.10" font-size="7.1" fill="#2a2a2a" textLength="175.70" lengthAdjust="spacingAndGlyphs">negative regulation of G1/S transition of mitotic cell cycle</text>
<rect x="278.70" y="196.80" width="4.40" height="4.20" fill="#1a3f6e" />
<line x1="275.00" y1="198.90" x2="278.70" y2="198.90" stroke="#222" stroke-width="0.9" />
<text x="195.30" y="200.90" font-size="7.1" fill="#2a2a2a" textLength="76.00" lengthAdjust="spacingAndGlyphs">myeloid cell homeostasis</text>
<rect x="278.70" y="205.60" width="4.40" height="4.20" fill="#1a3f6e" />
<line x1="275.00" y1="207.70" x2="278.70" y2="207.70" stroke="#222" stroke-width="0.9" />
<text x="191.90" y="209.70" font-size="7.1" fill="#2a2a2a" textLength="79.40" lengthAdjust="spacingAndGlyphs">erythrocyte differentiation</text>
<rect x="278.70" y="214.40" width="9.18" height="4.20" fill="#c4102e" />
<line x1="275.00" y1="216.50" x2="278.70" y2="216.50" stroke="#222" stroke-width="0.9" />
<text x="189.70" y="218.50" font-size="7.1" fill="#2a2a2a" textLength="81.60" lengthAdjust="spacingAndGlyphs">heme biosynthetic process</text>
<rect x="278.70" y="223.20" width="23.49" height="4.20" fill="#c4102e" />
<line x1="275.00" y1="225.30" x2="278.70" y2="225.30" stroke="#222" stroke-width="0.9" />
<text x="93.00" y="227.30" font-size="7.1" fill="#2a2a2a" textLength="178.30" lengthAdjust="spacingAndGlyphs">negative regulation of G2/M transition of mitotic cell cycle</text>
<rect x="278.70" y="232.00" width="24.22" height="4.20" fill="#c4102e" />
<line x1="275.00" y1="234.10" x2="278.70" y2="234.10" stroke="#222" stroke-width="0.9" />
<text x="112.10" y="236.10" font-size="7.1" fill="#2a2a2a" textLength="159.20" lengthAdjust="spacingAndGlyphs">regulation of hematopoietic stem cell differentiation</text>
<rect x="278.70" y="240.80" width="35.97" height="4.20" fill="#c4102e" />
<line x1="275.00" y1="242.90" x2="278.70" y2="242.90" stroke="#222" stroke-width="0.9" />
<text x="207.70" y="244.90" font-size="7.1" fill="#2a2a2a" textLength="63.60" lengthAdjust="spacingAndGlyphs">ribosome biogenesis</text>
<rect x="278.70" y="249.60" width="101.11" height="4.20" fill="#c4102e" />
<line x1="275.00" y1="251.70" x2="278.70" y2="251.70" stroke="#222" stroke-width="0.9" />
<text x="202.40" y="253.70" font-size="7.1" fill="#2a2a2a" textLength="68.90" lengthAdjust="spacingAndGlyphs">RNA catabolic process</text>
<rect x="278.70" y="258.40" width="108.27" height="4.20" fill="#c4102e" />
<line x1="275.00" y1="260.50" x2="278.70" y2="260.50" stroke="#222" stroke-width="0.9" />
<text x="175.90" y="262.50" font-size="7.1" fill="#2a2a2a" textLength="95.40" lengthAdjust="spacingAndGlyphs">protein targeting to membrane</text>
<line x1="278.70" y1="185.00" x2="278.70" y2="265.80" stroke="#222" stroke-width="1.1" />
<line x1="278.20" y1="265.20" x2="392.00" y2="265.20" stroke="#222" stroke-width="1.1" />
<line x1="278.70" y1="265.20" x2="278.70" y2="268.00" stroke="#222" stroke-width="0.9" />
<text x="278.70" y="277.80" font-size="7.5" fill="#333" text-anchor="middle">0</text>
<line x1="315.40" y1="265.20" x2="315.40" y2="268.00" stroke="#222" stroke-width="0.9" />
<text x="315.40" y="277.80" font-size="7.5" fill="#333" text-anchor="middle">20</text>
<line x1="352.10" y1="265.20" x2="352.10" y2="268.00" stroke="#222" stroke-width="0.9" />
<text x="352.10" y="277.80" font-size="7.5" fill="#333" text-anchor="middle">40</text>
<line x1="388.80" y1="265.20" x2="388.80" y2="268.00" stroke="#222" stroke-width="0.9" />
<text x="388.80" y="277.80" font-size="7.5" fill="#333" text-anchor="middle">60</text>
<text x="316.4" y="289.6" font-size="8.6" fill="#333" textLength="37.8" lengthAdjust="spacingAndGlyphs">-log<tspan font-size="5.4" dy="2.2">10</tspan><tspan dy="-2.2">(padj)</tspan></text>
<rect x="360.50" y="193.50" width="4.70" height="4.60" fill="#c8102e" />
<rect x="360.50" y="203.70" width="4.70" height="4.60" fill="#1a3f6e" />
<text x="368.50" y="198.40" font-size="7" fill="#333">up</text>
<text x="368.50" y="208.60" font-size="7" fill="#333">down</text>
<text x="7.30" y="317.10" font-size="12" fill="#111" font-weight="bold">D</text>
<line x1="60.85" y1="404.50" x2="65.25" y2="404.50" stroke="#0b2a50" stroke-width="1.0" />
<rect x="59.55" y="404.60" width="7.00" height="0.90" fill="#174d8c" />
<line x1="59.55" y1="404.95" x2="66.55" y2="404.95" stroke="#0b2a50" stroke-width="0.7" />
<line x1="71.25" y1="404.50" x2="75.65" y2="404.50" stroke="#6a0a18" stroke-width="1.0" />
<rect x="69.95" y="404.90" width="7.00" height="0.60" fill="#c8102e" />
<line x1="69.95" y1="405.25" x2="76.95" y2="405.25" stroke="#6a0a18" stroke-width="0.7" />
<line x1="89.15" y1="401.50" x2="92.75" y2="401.50" stroke="#0b2a50" stroke-width="1.0" />
<rect x="87.45" y="402.00" width="7.00" height="3.50" fill="#174d8c" />
<line x1="87.45" y1="402.35" x2="94.45" y2="402.35" stroke="#0b2a50" stroke-width="0.7" />
<line x1="99.55" y1="397.50" x2="103.15" y2="397.50" stroke="#6a0a18" stroke-width="1.0" />
<rect x="97.85" y="398.00" width="7.00" height="7.50" fill="#c8102e" />
<line x1="97.85" y1="398.35" x2="104.85" y2="398.35" stroke="#6a0a18" stroke-width="0.7" />
<line x1="117.05" y1="388.80" x2="120.65" y2="388.80" stroke="#0b2a50" stroke-width="1.0" />
<rect x="115.35" y="389.30" width="7.00" height="16.20" fill="#174d8c" />
<line x1="115.35" y1="389.65" x2="122.35" y2="389.65" stroke="#0b2a50" stroke-width="0.7" />
<line x1="127.45" y1="383.00" x2="131.05" y2="383.00" stroke="#6a0a18" stroke-width="1.0" />
<rect x="125.75" y="383.50" width="7.00" height="22.00" fill="#c8102e" />
<line x1="125.75" y1="383.85" x2="132.75" y2="383.85" stroke="#6a0a18" stroke-width="0.7" />
<line x1="144.95" y1="340.30" x2="148.55" y2="340.30" stroke="#0b2a50" stroke-width="1.0" />
<rect x="143.25" y="340.80" width="7.00" height="64.70" fill="#174d8c" />
<line x1="143.25" y1="341.15" x2="150.25" y2="341.15" stroke="#0b2a50" stroke-width="0.7" />
<line x1="157.15" y1="343.00" x2="157.15" y2="345.00" stroke="#6a0a18" stroke-width="1.0" />
<line x1="155.35" y1="343.00" x2="158.95" y2="343.00" stroke="#6a0a18" stroke-width="1.0" />
<rect x="153.65" y="345.00" width="7.00" height="60.50" fill="#c8102e" />
<line x1="153.65" y1="345.35" x2="160.65" y2="345.35" stroke="#6a0a18" stroke-width="0.7" />
<line x1="56.10" y1="330.30" x2="56.10" y2="405.50" stroke="#222" stroke-width="1.15" />
<line x1="52.90" y1="405.50" x2="164.50" y2="405.50" stroke="#222" stroke-width="1.15" />
<line x1="68.25" y1="405.50" x2="68.25" y2="408.50" stroke="#222" stroke-width="1.0" />
<text x="68.25" y="417.80" font-size="7.3" fill="#2a2a2a" text-anchor="middle">D0</text>
<line x1="96.15" y1="405.50" x2="96.15" y2="408.50" stroke="#222" stroke-width="1.0" />
<text x="96.15" y="417.80" font-size="7.3" fill="#2a2a2a" text-anchor="middle">D4</text>
<line x1="124.05" y1="405.50" x2="124.05" y2="408.50" stroke="#222" stroke-width="1.0" />
<text x="124.05" y="417.80" font-size="7.3" fill="#2a2a2a" text-anchor="middle">D7</text>
<line x1="151.95" y1="405.50" x2="151.95" y2="408.50" stroke="#222" stroke-width="1.0" />
<text x="151.95" y="417.80" font-size="7.3" fill="#2a2a2a" text-anchor="middle">D9</text>
<line x1="52.30" y1="333.50" x2="56.10" y2="333.50" stroke="#222" stroke-width="1.1" />
<text x="50.50" y="336.10" font-size="7.4" fill="#333" text-anchor="end">4×10<tspan font-size="4.8" dy="-3.3">6</tspan></text>
<line x1="52.30" y1="351.50" x2="56.10" y2="351.50" stroke="#222" stroke-width="1.1" />
<text x="50.50" y="354.10" font-size="7.4" fill="#333" text-anchor="end">3×10<tspan font-size="4.8" dy="-3.3">6</tspan></text>
<line x1="52.30" y1="369.50" x2="56.10" y2="369.50" stroke="#222" stroke-width="1.1" />
<text x="50.50" y="372.10" font-size="7.4" fill="#333" text-anchor="end">2×10<tspan font-size="4.8" dy="-3.3">6</tspan></text>
<line x1="52.30" y1="387.50" x2="56.10" y2="387.50" stroke="#222" stroke-width="1.1" />
<text x="50.50" y="390.10" font-size="7.4" fill="#333" text-anchor="end">1×10<tspan font-size="4.8" dy="-3.3">6</tspan></text>
<line x1="52.30" y1="405.50" x2="56.10" y2="405.50" stroke="#222" stroke-width="1.1" />
<text x="50.50" y="408.00" font-size="7.0" fill="#333" text-anchor="end">0</text>
<text x="99.10" y="324.70" font-size="8.6" fill="#1a1a1a" font-style="italic" textLength="22.60" lengthAdjust="spacingAndGlyphs">HBA1</text>
<rect x="63.00" y="338.40" width="4.60" height="4.40" fill="#1c3f72" />
<rect x="63.00" y="348.70" width="4.60" height="4.40" fill="#a8142f" />
<text x="71.20" y="343.00" font-size="7.1" fill="#2a2a2a" textLength="33.40" lengthAdjust="spacingAndGlyphs">KO control</text>
<text x="71.20" y="353.30" font-size="7.1" fill="#2a2a2a" textLength="41.4" lengthAdjust="spacingAndGlyphs">KO <tspan font-style="italic">GATA2AS</tspan></text>
<text transform="translate(24.30,370.20) rotate(-90)" font-size="8.2" fill="#2a2a2a" text-anchor="middle" textLength="56.3" lengthAdjust="spacingAndGlyphs">Normalized count</text>
<line x1="224.35" y1="404.50" x2="228.75" y2="404.50" stroke="#0b2a50" stroke-width="1.0" />
<rect x="223.05" y="405.00" width="7.00" height="0.50" fill="#174d8c" />
<line x1="223.05" y1="405.35" x2="230.05" y2="405.35" stroke="#0b2a50" stroke-width="0.7" />
<line x1="234.75" y1="404.50" x2="239.15" y2="404.50" stroke="#6a0a18" stroke-width="1.0" />
<rect x="233.45" y="405.00" width="7.00" height="0.50" fill="#c8102e" />
<line x1="233.45" y1="405.35" x2="240.45" y2="405.35" stroke="#6a0a18" stroke-width="0.7" />
<line x1="252.65" y1="402.20" x2="256.25" y2="402.20" stroke="#0b2a50" stroke-width="1.0" />
<rect x="250.95" y="402.70" width="7.00" height="2.80" fill="#174d8c" />
<line x1="250.95" y1="403.05" x2="257.95" y2="403.05" stroke="#0b2a50" stroke-width="0.7" />
<line x1="263.05" y1="397.50" x2="266.65" y2="397.50" stroke="#6a0a18" stroke-width="1.0" />
<rect x="261.35" y="398.00" width="7.00" height="7.50" fill="#c8102e" />
<line x1="261.35" y1="398.35" x2="268.35" y2="398.35" stroke="#6a0a18" stroke-width="0.7" />
<line x1="282.35" y1="384.50" x2="282.35" y2="386.30" stroke="#0b2a50" stroke-width="1.0" />
<line x1="280.55" y1="384.50" x2="284.15" y2="384.50" stroke="#0b2a50" stroke-width="1.0" />
<rect x="278.85" y="386.30" width="7.00" height="19.20" fill="#174d8c" />
<line x1="278.85" y1="386.65" x2="285.85" y2="386.65" stroke="#0b2a50" stroke-width="0.7" />
<line x1="290.95" y1="379.10" x2="294.55" y2="379.10" stroke="#6a0a18" stroke-width="1.0" />
<rect x="289.25" y="379.60" width="7.00" height="25.90" fill="#c8102e" />
<line x1="289.25" y1="379.95" x2="296.25" y2="379.95" stroke="#6a0a18" stroke-width="0.7" />
<line x1="308.45" y1="340.30" x2="312.05" y2="340.30" stroke="#0b2a50" stroke-width="1.0" />
<rect x="306.75" y="340.80" width="7.00" height="64.70" fill="#174d8c" />
<line x1="306.75" y1="341.15" x2="313.75" y2="341.15" stroke="#0b2a50" stroke-width="0.7" />
<line x1="318.85" y1="341.50" x2="322.45" y2="341.50" stroke="#6a0a18" stroke-width="1.0" />
<rect x="317.15" y="342.00" width="7.00" height="63.50" fill="#c8102e" />
<line x1="317.15" y1="342.35" x2="324.15" y2="342.35" stroke="#6a0a18" stroke-width="0.7" />
<line x1="219.60" y1="330.00" x2="219.60" y2="405.50" stroke="#222" stroke-width="1.15" />
<line x1="216.40" y1="405.50" x2="328.00" y2="405.50" stroke="#222" stroke-width="1.15" />
<line x1="231.75" y1="405.50" x2="231.75" y2="408.50" stroke="#222" stroke-width="1.0" />
<text x="231.75" y="417.80" font-size="7.3" fill="#2a2a2a" text-anchor="middle">D0</text>
<line x1="259.65" y1="405.50" x2="259.65" y2="408.50" stroke="#222" stroke-width="1.0" />
<text x="259.65" y="417.80" font-size="7.3" fill="#2a2a2a" text-anchor="middle">D4</text>
<line x1="287.55" y1="405.50" x2="287.55" y2="408.50" stroke="#222" stroke-width="1.0" />
<text x="287.55" y="417.80" font-size="7.3" fill="#2a2a2a" text-anchor="middle">D7</text>
<line x1="315.45" y1="405.50" x2="315.45" y2="408.50" stroke="#222" stroke-width="1.0" />
<text x="315.45" y="417.80" font-size="7.3" fill="#2a2a2a" text-anchor="middle">D9</text>
<line x1="215.80" y1="332.80" x2="219.60" y2="332.80" stroke="#222" stroke-width="1.1" />
<text x="214.60" y="335.40" font-size="7.4" fill="#333" text-anchor="end">5×10<tspan font-size="4.8" dy="-3.3">6</tspan></text>
<line x1="215.80" y1="347.34" x2="219.60" y2="347.34" stroke="#222" stroke-width="1.1" />
<text x="214.60" y="349.94" font-size="7.4" fill="#333" text-anchor="end">4×10<tspan font-size="4.8" dy="-3.3">6</tspan></text>
<line x1="215.80" y1="361.88" x2="219.60" y2="361.88" stroke="#222" stroke-width="1.1" />
<text x="214.60" y="364.48" font-size="7.4" fill="#333" text-anchor="end">3×10<tspan font-size="4.8" dy="-3.3">6</tspan></text>
<line x1="215.80" y1="376.42" x2="219.60" y2="376.42" stroke="#222" stroke-width="1.1" />
<text x="214.60" y="379.02" font-size="7.4" fill="#333" text-anchor="end">2×10<tspan font-size="4.8" dy="-3.3">6</tspan></text>
<line x1="215.80" y1="390.96" x2="219.60" y2="390.96" stroke="#222" stroke-width="1.1" />
<text x="214.60" y="393.56" font-size="7.4" fill="#333" text-anchor="end">1×10<tspan font-size="4.8" dy="-3.3">6</tspan></text>
<line x1="215.80" y1="405.50" x2="219.60" y2="405.50" stroke="#222" stroke-width="1.1" />
<text x="214.60" y="408.00" font-size="7.0" fill="#333" text-anchor="end">0</text>
<text x="262.65" y="324.70" font-size="8.6" fill="#1a1a1a" font-style="italic" textLength="23.50" lengthAdjust="spacingAndGlyphs">HBA2</text>
<rect x="226.20" y="338.40" width="4.60" height="4.40" fill="#1c3f72" />
<rect x="226.20" y="348.70" width="4.60" height="4.40" fill="#a8142f" />
<text x="234.40" y="343.00" font-size="7.1" fill="#2a2a2a" textLength="33.40" lengthAdjust="spacingAndGlyphs">KO control</text>
<text x="234.40" y="353.30" font-size="7.1" fill="#2a2a2a" textLength="41.4" lengthAdjust="spacingAndGlyphs">KO <tspan font-style="italic">GATA2AS</tspan></text>
<text transform="translate(188.90,367.80) rotate(-90)" font-size="8.2" fill="#2a2a2a" text-anchor="middle" textLength="56.3" lengthAdjust="spacingAndGlyphs">Normalized count</text>
<line x1="393.55" y1="388.30" x2="397.15" y2="388.30" stroke="#0b2a50" stroke-width="1.0" />
<rect x="391.85" y="388.80" width="7.00" height="16.70" fill="#174d8c" />
<line x1="391.85" y1="389.15" x2="398.85" y2="389.15" stroke="#0b2a50" stroke-width="0.7" />
<line x1="405.75" y1="376.10" x2="405.75" y2="381.20" stroke="#6a0a18" stroke-width="1.0" />
<line x1="403.95" y1="376.10" x2="407.55" y2="376.10" stroke="#6a0a18" stroke-width="1.0" />
<rect x="402.25" y="381.20" width="7.00" height="24.30" fill="#c8102e" />
<line x1="402.25" y1="381.55" x2="409.25" y2="381.55" stroke="#6a0a18" stroke-width="0.7" />
<line x1="421.45" y1="365.70" x2="425.05" y2="365.70" stroke="#0b2a50" stroke-width="1.0" />
<rect x="419.75" y="366.20" width="7.00" height="39.30" fill="#174d8c" />
<line x1="419.75" y1="366.55" x2="426.75" y2="366.55" stroke="#0b2a50" stroke-width="0.7" />
<line x1="431.85" y1="364.10" x2="435.45" y2="364.10" stroke="#6a0a18" stroke-width="1.0" />
<rect x="430.15" y="364.60" width="7.00" height="40.90" fill="#c8102e" />
<line x1="430.15" y1="364.95" x2="437.15" y2="364.95" stroke="#6a0a18" stroke-width="0.7" />
<line x1="449.35" y1="358.80" x2="452.95" y2="358.80" stroke="#0b2a50" stroke-width="1.0" />
<rect x="447.65" y="359.30" width="7.00" height="46.20" fill="#174d8c" />
<line x1="447.65" y1="359.65" x2="454.65" y2="359.65" stroke="#0b2a50" stroke-width="0.7" />
<line x1="459.75" y1="355.80" x2="463.35" y2="355.80" stroke="#6a0a18" stroke-width="1.0" />
<rect x="458.05" y="356.30" width="7.00" height="49.20" fill="#c8102e" />
<line x1="458.05" y1="356.65" x2="465.05" y2="356.65" stroke="#6a0a18" stroke-width="0.7" />
<line x1="477.25" y1="343.30" x2="480.85" y2="343.30" stroke="#0b2a50" stroke-width="1.0" />
<rect x="475.55" y="343.80" width="7.00" height="61.70" fill="#174d8c" />
<line x1="475.55" y1="344.15" x2="482.55" y2="344.15" stroke="#0b2a50" stroke-width="0.7" />
<line x1="487.65" y1="343.30" x2="491.25" y2="343.30" stroke="#6a0a18" stroke-width="1.0" />
<rect x="485.95" y="343.80" width="7.00" height="61.70" fill="#c8102e" />
<line x1="485.95" y1="344.15" x2="492.95" y2="344.15" stroke="#6a0a18" stroke-width="0.7" />
<rect x="389.10" y="367.20" width="108.40" height="5.10" fill="#fff" />
<line x1="388.40" y1="330.50" x2="388.40" y2="367.20" stroke="#222" stroke-width="1.15" />
<line x1="388.40" y1="372.30" x2="388.40" y2="405.50" stroke="#222" stroke-width="1.15" />
<line x1="385.80" y1="367.20" x2="391.00" y2="367.20" stroke="#222" stroke-width="1.0" />
<line x1="385.80" y1="372.30" x2="391.00" y2="372.30" stroke="#222" stroke-width="1.0" />
<line x1="385.20" y1="405.50" x2="496.80" y2="405.50" stroke="#222" stroke-width="1.15" />
<line x1="400.55" y1="405.50" x2="400.55" y2="408.50" stroke="#222" stroke-width="1.0" />
<text x="400.55" y="417.80" font-size="7.3" fill="#2a2a2a" text-anchor="middle">D0</text>
<line x1="428.45" y1="405.50" x2="428.45" y2="408.50" stroke="#222" stroke-width="1.0" />
<text x="428.45" y="417.80" font-size="7.3" fill="#2a2a2a" text-anchor="middle">D4</text>
<line x1="456.35" y1="405.50" x2="456.35" y2="408.50" stroke="#222" stroke-width="1.0" />
<text x="456.35" y="417.80" font-size="7.3" fill="#2a2a2a" text-anchor="middle">D7</text>
<line x1="484.25" y1="405.50" x2="484.25" y2="408.50" stroke="#222" stroke-width="1.0" />
<text x="484.25" y="417.80" font-size="7.3" fill="#2a2a2a" text-anchor="middle">D9</text>
<line x1="384.60" y1="333.00" x2="388.40" y2="333.00" stroke="#222" stroke-width="1.1" />
<text x="383.00" y="335.60" font-size="7.4" fill="#333" text-anchor="end">1.5×10<tspan font-size="4.8" dy="-3.3">7</tspan></text>
<line x1="384.60" y1="344.60" x2="388.40" y2="344.60" stroke="#222" stroke-width="1.1" />
<text x="383.00" y="347.20" font-size="7.4" fill="#333" text-anchor="end">1×10<tspan font-size="4.8" dy="-3.3">7</tspan></text>
<line x1="384.60" y1="356.20" x2="388.40" y2="356.20" stroke="#222" stroke-width="1.1" />
<text x="383.00" y="358.80" font-size="7.4" fill="#333" text-anchor="end">5×10<tspan font-size="4.8" dy="-3.3">6</tspan></text>
<line x1="384.60" y1="371.60" x2="388.40" y2="371.60" stroke="#222" stroke-width="1.1" />
<text x="383.00" y="374.20" font-size="7.4" fill="#333" text-anchor="end">4×10<tspan font-size="4.8" dy="-3.3">5</tspan></text>
<line x1="384.60" y1="380.07" x2="388.40" y2="380.07" stroke="#222" stroke-width="1.1" />
<text x="383.00" y="382.68" font-size="7.4" fill="#333" text-anchor="end">3×10<tspan font-size="4.8" dy="-3.3">5</tspan></text>
<line x1="384.60" y1="388.55" x2="388.40" y2="388.55" stroke="#222" stroke-width="1.1" />
<text x="383.00" y="391.15" font-size="7.4" fill="#333" text-anchor="end">2×10<tspan font-size="4.8" dy="-3.3">5</tspan></text>
<line x1="384.60" y1="397.02" x2="388.40" y2="397.02" stroke="#222" stroke-width="1.1" />
<text x="383.00" y="399.62" font-size="7.4" fill="#333" text-anchor="end">1×10<tspan font-size="4.8" dy="-3.3">5</tspan></text>
<line x1="384.60" y1="405.50" x2="388.40" y2="405.50" stroke="#222" stroke-width="1.1" />
<text x="383.00" y="408.00" font-size="7.0" fill="#333" text-anchor="end">0</text>
<text x="434.10" y="324.70" font-size="8.6" fill="#1a1a1a" font-style="italic" textLength="18.00" lengthAdjust="spacingAndGlyphs">HBB</text>
<rect x="394.90" y="338.60" width="4.60" height="4.40" fill="#1c3f72" />
<rect x="394.90" y="348.90" width="4.60" height="4.40" fill="#a8142f" />
<text x="403.10" y="343.20" font-size="7.1" fill="#2a2a2a" textLength="33.40" lengthAdjust="spacingAndGlyphs">KO control</text>
<text x="403.10" y="353.50" font-size="7.1" fill="#2a2a2a" textLength="41.4" lengthAdjust="spacingAndGlyphs">KO <tspan font-style="italic">GATA2AS</tspan></text>
<text transform="translate(351.30,369.00) rotate(-90)" font-size="8.2" fill="#2a2a2a" text-anchor="middle" textLength="56.3" lengthAdjust="spacingAndGlyphs">Normalized count</text>
<line x1="61.25" y1="515.30" x2="64.85" y2="515.30" stroke="#0b2a50" stroke-width="1.0" />
<rect x="59.55" y="515.80" width="7.00" height="7.70" fill="#174d8c" />
<line x1="59.55" y1="516.15" x2="66.55" y2="516.15" stroke="#0b2a50" stroke-width="0.7" />
<line x1="73.45" y1="509.40" x2="73.45" y2="512.40" stroke="#6a0a18" stroke-width="1.0" />
<line x1="71.65" y1="509.40" x2="75.25" y2="509.40" stroke="#6a0a18" stroke-width="1.0" />
<rect x="69.95" y="512.40" width="7.00" height="11.10" fill="#c8102e" />
<line x1="69.95" y1="512.75" x2="76.95" y2="512.75" stroke="#6a0a18" stroke-width="0.7" />
<line x1="89.15" y1="495.70" x2="92.75" y2="495.70" stroke="#0b2a50" stroke-width="1.0" />
<rect x="87.45" y="496.20" width="7.00" height="27.30" fill="#174d8c" />
<line x1="87.45" y1="496.55" x2="94.45" y2="496.55" stroke="#0b2a50" stroke-width="0.7" />
<line x1="99.55" y1="482.30" x2="103.15" y2="482.30" stroke="#6a0a18" stroke-width="1.0" />
<rect x="97.85" y="482.80" width="7.00" height="40.70" fill="#c8102e" />
<line x1="97.85" y1="483.15" x2="104.85" y2="483.15" stroke="#6a0a18" stroke-width="0.7" />
<line x1="117.05" y1="464.10" x2="120.65" y2="464.10" stroke="#0b2a50" stroke-width="1.0" />
<rect x="115.35" y="464.60" width="7.00" height="58.90" fill="#174d8c" />
<line x1="115.35" y1="464.95" x2="122.35" y2="464.95" stroke="#0b2a50" stroke-width="0.7" />
<line x1="127.45" y1="458.10" x2="131.05" y2="458.10" stroke="#6a0a18" stroke-width="1.0" />
<rect x="125.75" y="458.60" width="7.00" height="64.90" fill="#c8102e" />
<line x1="125.75" y1="458.95" x2="132.75" y2="458.95" stroke="#6a0a18" stroke-width="0.7" />
<line x1="144.95" y1="469.10" x2="148.55" y2="469.10" stroke="#0b2a50" stroke-width="1.0" />
<rect x="143.25" y="469.60" width="7.00" height="53.90" fill="#174d8c" />
<line x1="143.25" y1="469.95" x2="150.25" y2="469.95" stroke="#0b2a50" stroke-width="0.7" />
<line x1="155.35" y1="458.10" x2="158.95" y2="458.10" stroke="#6a0a18" stroke-width="1.0" />
<rect x="153.65" y="458.60" width="7.00" height="64.90" fill="#c8102e" />
<line x1="153.65" y1="458.95" x2="160.65" y2="458.95" stroke="#6a0a18" stroke-width="0.7" />
<rect x="56.80" y="471.80" width="108.40" height="4.40" fill="#fff" />
<rect x="56.80" y="497.40" width="108.40" height="5.00" fill="#fff" />
<line x1="56.10" y1="451.50" x2="56.10" y2="471.80" stroke="#222" stroke-width="1.15" />
<line x1="56.10" y1="476.20" x2="56.10" y2="497.40" stroke="#222" stroke-width="1.15" />
<line x1="56.10" y1="502.40" x2="56.10" y2="523.50" stroke="#222" stroke-width="1.15" />
<line x1="53.50" y1="471.80" x2="58.70" y2="471.80" stroke="#222" stroke-width="1.0" />
<line x1="53.50" y1="476.20" x2="58.70" y2="476.20" stroke="#222" stroke-width="1.0" />
<line x1="53.50" y1="497.40" x2="58.70" y2="497.40" stroke="#222" stroke-width="1.0" />
<line x1="53.50" y1="502.40" x2="58.70" y2="502.40" stroke="#222" stroke-width="1.0" />
<line x1="52.90" y1="523.50" x2="164.50" y2="523.50" stroke="#222" stroke-width="1.15" />
<line x1="68.25" y1="523.50" x2="68.25" y2="526.50" stroke="#222" stroke-width="1.0" />
<text x="68.25" y="535.80" font-size="7.3" fill="#2a2a2a" text-anchor="middle">D0</text>
<line x1="96.15" y1="523.50" x2="96.15" y2="526.50" stroke="#222" stroke-width="1.0" />
<text x="96.15" y="535.80" font-size="7.3" fill="#2a2a2a" text-anchor="middle">D4</text>
<line x1="124.05" y1="523.50" x2="124.05" y2="526.50" stroke="#222" stroke-width="1.0" />
<text x="124.05" y="535.80" font-size="7.3" fill="#2a2a2a" text-anchor="middle">D7</text>
<line x1="151.95" y1="523.50" x2="151.95" y2="526.50" stroke="#222" stroke-width="1.0" />
<text x="151.95" y="535.80" font-size="7.3" fill="#2a2a2a" text-anchor="middle">D9</text>
<line x1="52.30" y1="457.70" x2="56.10" y2="457.70" stroke="#222" stroke-width="1.1" />
<text x="50.60" y="460.30" font-size="7.4" fill="#333" text-anchor="end">2×10<tspan font-size="4.8" dy="-3.3">5</tspan></text>
<line x1="52.30" y1="469.20" x2="56.10" y2="469.20" stroke="#222" stroke-width="1.1" />
<text x="50.60" y="471.80" font-size="7.4" fill="#333" text-anchor="end">1×10<tspan font-size="4.8" dy="-3.3">5</tspan></text>
<line x1="52.30" y1="476.20" x2="56.10" y2="476.20" stroke="#222" stroke-width="1.1" />
<text x="50.60" y="478.80" font-size="7.4" fill="#333" text-anchor="end">6×10<tspan font-size="4.8" dy="-3.3">4</tspan></text>
<line x1="52.30" y1="489.20" x2="56.10" y2="489.20" stroke="#222" stroke-width="1.1" />
<text x="50.60" y="491.80" font-size="7.4" fill="#333" text-anchor="end">3×10<tspan font-size="4.8" dy="-3.3">4</tspan></text>
<line x1="52.30" y1="506.90" x2="56.10" y2="506.90" stroke="#222" stroke-width="1.1" />
<text x="50.60" y="509.50" font-size="7.4" fill="#333" text-anchor="end">4×10<tspan font-size="4.8" dy="-3.3">3</tspan></text>
<line x1="52.30" y1="515.00" x2="56.10" y2="515.00" stroke="#222" stroke-width="1.1" />
<text x="50.60" y="517.60" font-size="7.4" fill="#333" text-anchor="end">2×10<tspan font-size="4.8" dy="-3.3">3</tspan></text>
<line x1="52.30" y1="523.50" x2="56.10" y2="523.50" stroke="#222" stroke-width="1.1" />
<text x="50.60" y="526.00" font-size="7.0" fill="#333" text-anchor="end">0</text>
<text x="101.40" y="445.00" font-size="8.6" fill="#1a1a1a" font-style="italic" textLength="18.20" lengthAdjust="spacingAndGlyphs">HBD</text>
<rect x="59.20" y="452.70" width="4.60" height="4.40" fill="#1c3f72" />
<rect x="59.20" y="463.00" width="4.60" height="4.40" fill="#a8142f" />
<text x="67.40" y="457.30" font-size="7.1" fill="#2a2a2a" textLength="33.40" lengthAdjust="spacingAndGlyphs">KO control</text>
<text x="67.40" y="467.60" font-size="7.1" fill="#2a2a2a" textLength="41.4" lengthAdjust="spacingAndGlyphs">KO <tspan font-style="italic">GATA2AS</tspan></text>
<text transform="translate(25.60,489.30) rotate(-90)" font-size="8.2" fill="#2a2a2a" text-anchor="middle" textLength="56.3" lengthAdjust="spacingAndGlyphs">Normalized count</text>
<line x1="226.55" y1="516.30" x2="226.55" y2="520.00" stroke="#0b2a50" stroke-width="1.0" />
<line x1="224.75" y1="516.30" x2="228.35" y2="516.30" stroke="#0b2a50" stroke-width="1.0" />
<rect x="223.05" y="520.00" width="7.00" height="3.50" fill="#174d8c" />
<line x1="223.05" y1="520.35" x2="230.05" y2="520.35" stroke="#0b2a50" stroke-width="0.7" />
<line x1="234.75" y1="522.50" x2="239.15" y2="522.50" stroke="#6a0a18" stroke-width="1.0" />
<rect x="233.45" y="522.00" width="7.00" height="1.50" fill="#c8102e" />
<line x1="233.45" y1="522.35" x2="240.45" y2="522.35" stroke="#6a0a18" stroke-width="0.7" />
<line x1="254.45" y1="514.20" x2="254.45" y2="517.00" stroke="#0b2a50" stroke-width="1.0" />
<line x1="252.65" y1="514.20" x2="256.25" y2="514.20" stroke="#0b2a50" stroke-width="1.0" />
<rect x="250.95" y="517.00" width="7.00" height="6.50" fill="#174d8c" />
<line x1="250.95" y1="517.35" x2="257.95" y2="517.35" stroke="#0b2a50" stroke-width="0.7" />
<line x1="264.85" y1="513.00" x2="264.85" y2="518.60" stroke="#6a0a18" stroke-width="1.0" />
<line x1="263.05" y1="513.00" x2="266.65" y2="513.00" stroke="#6a0a18" stroke-width="1.0" />
<rect x="261.35" y="518.60" width="7.00" height="4.90" fill="#c8102e" />
<line x1="261.35" y1="518.95" x2="268.35" y2="518.95" stroke="#6a0a18" stroke-width="0.7" />
<line x1="282.35" y1="491.30" x2="282.35" y2="497.80" stroke="#0b2a50" stroke-width="1.0" />
<line x1="280.55" y1="491.30" x2="284.15" y2="491.30" stroke="#0b2a50" stroke-width="1.0" />
<rect x="278.85" y="497.80" width="7.00" height="25.70" fill="#174d8c" />
<line x1="278.85" y1="498.15" x2="285.85" y2="498.15" stroke="#0b2a50" stroke-width="0.7" />
<line x1="292.75" y1="514.20" x2="292.75" y2="518.10" stroke="#6a0a18" stroke-width="1.0" />
<line x1="290.95" y1="514.20" x2="294.55" y2="514.20" stroke="#6a0a18" stroke-width="1.0" />
<rect x="289.25" y="518.10" width="7.00" height="5.40" fill="#c8102e" />
<line x1="289.25" y1="518.45" x2="296.25" y2="518.45" stroke="#6a0a18" stroke-width="0.7" />
<line x1="310.25" y1="468.50" x2="310.25" y2="470.80" stroke="#0b2a50" stroke-width="1.0" />
<line x1="308.45" y1="468.50" x2="312.05" y2="468.50" stroke="#0b2a50" stroke-width="1.0" />
<rect x="306.75" y="470.80" width="7.00" height="52.70" fill="#174d8c" />
<line x1="306.75" y1="471.15" x2="313.75" y2="471.15" stroke="#0b2a50" stroke-width="0.7" />
<line x1="320.65" y1="515.40" x2="320.65" y2="517.20" stroke="#6a0a18" stroke-width="1.0" />
<line x1="318.85" y1="515.40" x2="322.45" y2="515.40" stroke="#6a0a18" stroke-width="1.0" />
<rect x="317.15" y="517.20" width="7.00" height="6.30" fill="#c8102e" />
<line x1="317.15" y1="517.55" x2="324.15" y2="517.55" stroke="#6a0a18" stroke-width="0.7" />
<line x1="219.60" y1="449.50" x2="219.60" y2="523.50" stroke="#222" stroke-width="1.15" />
<line x1="216.40" y1="523.50" x2="328.00" y2="523.50" stroke="#222" stroke-width="1.15" />
<line x1="231.75" y1="523.50" x2="231.75" y2="526.50" stroke="#222" stroke-width="1.0" />
<text x="231.75" y="535.80" font-size="7.3" fill="#2a2a2a" text-anchor="middle">D0</text>
<line x1="259.65" y1="523.50" x2="259.65" y2="526.50" stroke="#222" stroke-width="1.0" />
<text x="259.65" y="535.80" font-size="7.3" fill="#2a2a2a" text-anchor="middle">D4</text>
<line x1="287.55" y1="523.50" x2="287.55" y2="526.50" stroke="#222" stroke-width="1.0" />
<text x="287.55" y="535.80" font-size="7.3" fill="#2a2a2a" text-anchor="middle">D7</text>
<line x1="315.45" y1="523.50" x2="315.45" y2="526.50" stroke="#222" stroke-width="1.0" />
<text x="315.45" y="535.80" font-size="7.3" fill="#2a2a2a" text-anchor="middle">D9</text>
<line x1="215.80" y1="451.50" x2="219.60" y2="451.50" stroke="#222" stroke-width="1.1" />
<text x="212.80" y="454.00" font-size="7.0" fill="#333" text-anchor="end">800</text>
<line x1="215.80" y1="469.50" x2="219.60" y2="469.50" stroke="#222" stroke-width="1.1" />
<text x="212.80" y="472.00" font-size="7.0" fill="#333" text-anchor="end">600</text>
<line x1="215.80" y1="487.50" x2="219.60" y2="487.50" stroke="#222" stroke-width="1.1" />
<text x="212.80" y="490.00" font-size="7.0" fill="#333" text-anchor="end">400</text>
<line x1="215.80" y1="505.50" x2="219.60" y2="505.50" stroke="#222" stroke-width="1.1" />
<text x="212.80" y="508.00" font-size="7.0" fill="#333" text-anchor="end">200</text>
<line x1="215.80" y1="523.50" x2="219.60" y2="523.50" stroke="#222" stroke-width="1.1" />
<text x="212.80" y="526.00" font-size="7.0" fill="#333" text-anchor="end">0</text>
<text x="262.15" y="442.70" font-size="8.6" fill="#1a1a1a" font-style="italic" textLength="22.90" lengthAdjust="spacingAndGlyphs">HBG1</text>
<rect x="226.30" y="452.40" width="4.60" height="4.40" fill="#1c3f72" />
<rect x="226.30" y="462.70" width="4.60" height="4.40" fill="#a8142f" />
<text x="234.50" y="457.00" font-size="7.1" fill="#2a2a2a" textLength="33.40" lengthAdjust="spacingAndGlyphs">KO control</text>
<text x="234.50" y="467.30" font-size="7.1" fill="#2a2a2a" textLength="41.4" lengthAdjust="spacingAndGlyphs">KO <tspan font-style="italic">GATA2AS</tspan></text>
<text transform="translate(196.30,485.70) rotate(-90)" font-size="8.2" fill="#2a2a2a" text-anchor="middle" textLength="56.3" lengthAdjust="spacingAndGlyphs">Normalized count</text>
<line x1="395.35" y1="519.30" x2="395.35" y2="522.00" stroke="#0b2a50" stroke-width="1.0" />
<line x1="393.55" y1="519.30" x2="397.15" y2="519.30" stroke="#0b2a50" stroke-width="1.0" />
<rect x="391.85" y="522.00" width="7.00" height="1.50" fill="#174d8c" />
<line x1="391.85" y1="522.35" x2="398.85" y2="522.35" stroke="#0b2a50" stroke-width="0.7" />
<line x1="403.55" y1="522.50" x2="407.95" y2="522.50" stroke="#6a0a18" stroke-width="1.0" />
<rect x="402.25" y="522.00" width="7.00" height="1.50" fill="#c8102e" />
<line x1="402.25" y1="522.35" x2="409.25" y2="522.35" stroke="#6a0a18" stroke-width="0.7" />
<line x1="421.45" y1="515.30" x2="425.05" y2="515.30" stroke="#0b2a50" stroke-width="1.0" />
<rect x="419.75" y="515.80" width="7.00" height="7.70" fill="#174d8c" />
<line x1="419.75" y1="516.15" x2="426.75" y2="516.15" stroke="#0b2a50" stroke-width="0.7" />
<line x1="431.85" y1="519.90" x2="435.45" y2="519.90" stroke="#6a0a18" stroke-width="1.0" />
<rect x="430.15" y="520.40" width="7.00" height="3.10" fill="#c8102e" />
<line x1="430.15" y1="520.75" x2="437.15" y2="520.75" stroke="#6a0a18" stroke-width="0.7" />
<line x1="451.15" y1="493.90" x2="451.15" y2="495.70" stroke="#0b2a50" stroke-width="1.0" />
<line x1="449.35" y1="493.90" x2="452.95" y2="493.90" stroke="#0b2a50" stroke-width="1.0" />
<rect x="447.65" y="495.70" width="7.00" height="27.80" fill="#174d8c" />
<line x1="447.65" y1="496.05" x2="454.65" y2="496.05" stroke="#0b2a50" stroke-width="0.7" />
<line x1="459.75" y1="519.50" x2="463.35" y2="519.50" stroke="#6a0a18" stroke-width="1.0" />
<rect x="458.05" y="520.00" width="7.00" height="3.50" fill="#c8102e" />
<line x1="458.05" y1="520.35" x2="465.05" y2="520.35" stroke="#6a0a18" stroke-width="0.7" />
<line x1="479.05" y1="469.60" x2="479.05" y2="472.60" stroke="#0b2a50" stroke-width="1.0" />
<line x1="477.25" y1="469.60" x2="480.85" y2="469.60" stroke="#0b2a50" stroke-width="1.0" />
<rect x="475.55" y="472.60" width="7.00" height="50.90" fill="#174d8c" />
<line x1="475.55" y1="472.95" x2="482.55" y2="472.95" stroke="#0b2a50" stroke-width="0.7" />
<line x1="487.65" y1="515.80" x2="491.25" y2="515.80" stroke="#6a0a18" stroke-width="1.0" />
<rect x="485.95" y="516.30" width="7.00" height="7.20" fill="#c8102e" />
<line x1="485.95" y1="516.65" x2="492.95" y2="516.65" stroke="#6a0a18" stroke-width="0.7" />
<line x1="388.40" y1="449.80" x2="388.40" y2="523.50" stroke="#222" stroke-width="1.15" />
<line x1="385.20" y1="523.50" x2="496.80" y2="523.50" stroke="#222" stroke-width="1.15" />
<line x1="400.55" y1="523.50" x2="400.55" y2="526.50" stroke="#222" stroke-width="1.0" />
<text x="400.55" y="535.80" font-size="7.3" fill="#2a2a2a" text-anchor="middle">D0</text>
<line x1="428.45" y1="523.50" x2="428.45" y2="526.50" stroke="#222" stroke-width="1.0" />
<text x="428.45" y="535.80" font-size="7.3" fill="#2a2a2a" text-anchor="middle">D4</text>
<line x1="456.35" y1="523.50" x2="456.35" y2="526.50" stroke="#222" stroke-width="1.0" />
<text x="456.35" y="535.80" font-size="7.3" fill="#2a2a2a" text-anchor="middle">D7</text>
<line x1="484.25" y1="523.50" x2="484.25" y2="526.50" stroke="#222" stroke-width="1.0" />
<text x="484.25" y="535.80" font-size="7.3" fill="#2a2a2a" text-anchor="middle">D9</text>
<line x1="384.60" y1="451.80" x2="388.40" y2="451.80" stroke="#222" stroke-width="1.1" />
<text x="382.40" y="454.30" font-size="7.0" fill="#333" text-anchor="end">150000</text>
<line x1="384.60" y1="475.70" x2="388.40" y2="475.70" stroke="#222" stroke-width="1.1" />
<text x="382.40" y="478.20" font-size="7.0" fill="#333" text-anchor="end">100000</text>
<line x1="384.60" y1="499.60" x2="388.40" y2="499.60" stroke="#222" stroke-width="1.1" />
<text x="382.40" y="502.10" font-size="7.0" fill="#333" text-anchor="end">50000</text>
<line x1="384.60" y1="523.50" x2="388.40" y2="523.50" stroke="#222" stroke-width="1.1" />
<text x="382.40" y="526.00" font-size="7.0" fill="#333" text-anchor="end">0</text>
<text x="431.00" y="442.70" font-size="8.6" fill="#1a1a1a" font-style="italic" textLength="23.60" lengthAdjust="spacingAndGlyphs">HBG2</text>
<rect x="394.70" y="452.40" width="4.60" height="4.40" fill="#1c3f72" />
<rect x="394.70" y="462.70" width="4.60" height="4.40" fill="#a8142f" />
<text x="402.90" y="457.00" font-size="7.1" fill="#2a2a2a" textLength="33.40" lengthAdjust="spacingAndGlyphs">KO control</text>
<text x="402.90" y="467.30" font-size="7.1" fill="#2a2a2a" textLength="41.4" lengthAdjust="spacingAndGlyphs">KO <tspan font-style="italic">GATA2AS</tspan></text>
<text transform="translate(353.40,485.70) rotate(-90)" font-size="8.2" fill="#2a2a2a" text-anchor="middle" textLength="56.3" lengthAdjust="spacingAndGlyphs">Normalized count</text>
<line x1="63.05" y1="634.60" x2="63.05" y2="636.90" stroke="#0b2a50" stroke-width="1.0" />
<line x1="61.25" y1="634.60" x2="64.85" y2="634.60" stroke="#0b2a50" stroke-width="1.0" />
<rect x="59.55" y="636.90" width="7.00" height="14.80" fill="#174d8c" />
<line x1="59.55" y1="637.25" x2="66.55" y2="637.25" stroke="#0b2a50" stroke-width="0.7" />
<line x1="73.45" y1="634.40" x2="73.45" y2="635.80" stroke="#6a0a18" stroke-width="1.0" />
<line x1="71.65" y1="634.40" x2="75.25" y2="634.40" stroke="#6a0a18" stroke-width="1.0" />
<rect x="69.95" y="635.80" width="7.00" height="15.90" fill="#c8102e" />
<line x1="69.95" y1="636.15" x2="76.95" y2="636.15" stroke="#6a0a18" stroke-width="0.7" />
<line x1="90.95" y1="620.50" x2="90.95" y2="623.00" stroke="#0b2a50" stroke-width="1.0" />
<line x1="89.15" y1="620.50" x2="92.75" y2="620.50" stroke="#0b2a50" stroke-width="1.0" />
<rect x="87.45" y="623.00" width="7.00" height="28.70" fill="#174d8c" />
<line x1="87.45" y1="623.35" x2="94.45" y2="623.35" stroke="#0b2a50" stroke-width="0.7" />
<line x1="99.55" y1="624.20" x2="103.15" y2="624.20" stroke="#6a0a18" stroke-width="1.0" />
<rect x="97.85" y="624.70" width="7.00" height="27.00" fill="#c8102e" />
<line x1="97.85" y1="625.05" x2="104.85" y2="625.05" stroke="#6a0a18" stroke-width="0.7" />
<line x1="117.05" y1="620.80" x2="120.65" y2="620.80" stroke="#0b2a50" stroke-width="1.0" />
<rect x="115.35" y="621.30" width="7.00" height="30.40" fill="#174d8c" />
<line x1="115.35" y1="621.65" x2="122.35" y2="621.65" stroke="#0b2a50" stroke-width="0.7" />
<line x1="127.45" y1="619.20" x2="131.05" y2="619.20" stroke="#6a0a18" stroke-width="1.0" />
<rect x="125.75" y="619.70" width="7.00" height="32.00" fill="#c8102e" />
<line x1="125.75" y1="620.05" x2="132.75" y2="620.05" stroke="#6a0a18" stroke-width="0.7" />
<line x1="146.75" y1="585.50" x2="146.75" y2="587.30" stroke="#0b2a50" stroke-width="1.0" />
<line x1="144.95" y1="585.50" x2="148.55" y2="585.50" stroke="#0b2a50" stroke-width="1.0" />
<rect x="143.25" y="587.30" width="7.00" height="64.40" fill="#174d8c" />
<line x1="143.25" y1="587.65" x2="150.25" y2="587.65" stroke="#0b2a50" stroke-width="0.7" />
<line x1="155.35" y1="608.80" x2="158.95" y2="608.80" stroke="#6a0a18" stroke-width="1.0" />
<rect x="153.65" y="609.30" width="7.00" height="42.40" fill="#c8102e" />
<line x1="153.65" y1="609.65" x2="160.65" y2="609.65" stroke="#6a0a18" stroke-width="0.7" />
<line x1="56.10" y1="577.50" x2="56.10" y2="651.70" stroke="#222" stroke-width="1.15" />
<line x1="52.90" y1="651.70" x2="164.50" y2="651.70" stroke="#222" stroke-width="1.15" />
<line x1="68.25" y1="651.70" x2="68.25" y2="654.70" stroke="#222" stroke-width="1.0" />
<text x="68.25" y="664.00" font-size="7.3" fill="#2a2a2a" text-anchor="middle">D0</text>
<line x1="96.15" y1="651.70" x2="96.15" y2="654.70" stroke="#222" stroke-width="1.0" />
<text x="96.15" y="664.00" font-size="7.3" fill="#2a2a2a" text-anchor="middle">D4</text>
<line x1="124.05" y1="651.70" x2="124.05" y2="654.70" stroke="#222" stroke-width="1.0" />
<text x="124.05" y="664.00" font-size="7.3" fill="#2a2a2a" text-anchor="middle">D7</text>
<line x1="151.95" y1="651.70" x2="151.95" y2="654.70" stroke="#222" stroke-width="1.0" />
<text x="151.95" y="664.00" font-size="7.3" fill="#2a2a2a" text-anchor="middle">D9</text>
<line x1="52.30" y1="579.50" x2="56.10" y2="579.50" stroke="#222" stroke-width="1.1" />
<text x="49.90" y="582.00" font-size="7.0" fill="#333" text-anchor="end">20000</text>
<line x1="52.30" y1="597.55" x2="56.10" y2="597.55" stroke="#222" stroke-width="1.1" />
<text x="49.90" y="600.05" font-size="7.0" fill="#333" text-anchor="end">15000</text>
<line x1="52.30" y1="615.60" x2="56.10" y2="615.60" stroke="#222" stroke-width="1.1" />
<text x="49.90" y="618.10" font-size="7.0" fill="#333" text-anchor="end">10000</text>
<line x1="52.30" y1="633.65" x2="56.10" y2="633.65" stroke="#222" stroke-width="1.1" />
<text x="49.90" y="636.15" font-size="7.0" fill="#333" text-anchor="end">5000</text>
<line x1="52.30" y1="651.70" x2="56.10" y2="651.70" stroke="#222" stroke-width="1.1" />
<text x="49.90" y="654.20" font-size="7.0" fill="#333" text-anchor="end">0</text>
<text x="96.45" y="571.10" font-size="8.6" fill="#1a1a1a" font-style="italic" textLength="27.30" lengthAdjust="spacingAndGlyphs">GATA1</text>
<rect x="62.80" y="584.20" width="4.60" height="4.40" fill="#1c3f72" />
<rect x="62.80" y="594.50" width="4.60" height="4.40" fill="#a8142f" />
<text x="71.00" y="588.80" font-size="7.1" fill="#2a2a2a" textLength="33.40" lengthAdjust="spacingAndGlyphs">KO control</text>
<text x="71.00" y="599.10" font-size="7.1" fill="#2a2a2a" textLength="41.4" lengthAdjust="spacingAndGlyphs">KO <tspan font-style="italic">GATA2AS</tspan></text>
<text transform="translate(25.20,613.70) rotate(-90)" font-size="8.2" fill="#2a2a2a" text-anchor="middle" textLength="56.3" lengthAdjust="spacingAndGlyphs">Normalized count</text>
<line x1="226.55" y1="587.30" x2="226.55" y2="597.00" stroke="#0b2a50" stroke-width="1.0" />
<line x1="224.75" y1="587.30" x2="228.35" y2="587.30" stroke="#0b2a50" stroke-width="1.0" />
<rect x="223.05" y="597.00" width="7.00" height="54.70" fill="#174d8c" />
<line x1="223.05" y1="597.35" x2="230.05" y2="597.35" stroke="#0b2a50" stroke-width="0.7" />
<line x1="236.95" y1="628.20" x2="236.95" y2="633.00" stroke="#6a0a18" stroke-width="1.0" />
<line x1="235.15" y1="628.20" x2="238.75" y2="628.20" stroke="#6a0a18" stroke-width="1.0" />
<rect x="233.45" y="633.00" width="7.00" height="18.70" fill="#c8102e" />
<line x1="233.45" y1="633.35" x2="240.45" y2="633.35" stroke="#6a0a18" stroke-width="0.7" />
<line x1="254.45" y1="636.30" x2="254.45" y2="637.70" stroke="#0b2a50" stroke-width="1.0" />
<line x1="252.65" y1="636.30" x2="256.25" y2="636.30" stroke="#0b2a50" stroke-width="1.0" />
<rect x="250.95" y="637.70" width="7.00" height="14.00" fill="#174d8c" />
<line x1="250.95" y1="638.05" x2="257.95" y2="638.05" stroke="#0b2a50" stroke-width="0.7" />
<line x1="263.05" y1="641.50" x2="266.65" y2="641.50" stroke="#6a0a18" stroke-width="1.0" />
<rect x="261.35" y="642.00" width="7.00" height="9.70" fill="#c8102e" />
<line x1="261.35" y1="642.35" x2="268.35" y2="642.35" stroke="#6a0a18" stroke-width="0.7" />
<line x1="280.55" y1="642.30" x2="284.15" y2="642.30" stroke="#0b2a50" stroke-width="1.0" />
<rect x="278.85" y="642.80" width="7.00" height="8.90" fill="#174d8c" />
<line x1="278.85" y1="643.15" x2="285.85" y2="643.15" stroke="#0b2a50" stroke-width="0.7" />
<line x1="290.95" y1="645.30" x2="294.55" y2="645.30" stroke="#6a0a18" stroke-width="1.0" />
<rect x="289.25" y="645.80" width="7.00" height="5.90" fill="#c8102e" />
<line x1="289.25" y1="646.15" x2="296.25" y2="646.15" stroke="#6a0a18" stroke-width="0.7" />
<line x1="310.25" y1="642.00" x2="310.25" y2="643.80" stroke="#0b2a50" stroke-width="1.0" />
<line x1="308.45" y1="642.00" x2="312.05" y2="642.00" stroke="#0b2a50" stroke-width="1.0" />
<rect x="306.75" y="643.80" width="7.00" height="7.90" fill="#174d8c" />
<line x1="306.75" y1="644.15" x2="313.75" y2="644.15" stroke="#0b2a50" stroke-width="0.7" />
<line x1="318.85" y1="645.70" x2="322.45" y2="645.70" stroke="#6a0a18" stroke-width="1.0" />
<rect x="317.15" y="646.20" width="7.00" height="5.50" fill="#c8102e" />
<line x1="317.15" y1="646.55" x2="324.15" y2="646.55" stroke="#6a0a18" stroke-width="0.7" />
<line x1="219.60" y1="577.00" x2="219.60" y2="651.70" stroke="#222" stroke-width="1.15" />
<line x1="216.40" y1="651.70" x2="328.00" y2="651.70" stroke="#222" stroke-width="1.15" />
<line x1="231.75" y1="651.70" x2="231.75" y2="654.70" stroke="#222" stroke-width="1.0" />
<text x="231.75" y="664.00" font-size="7.3" fill="#2a2a2a" text-anchor="middle">D0</text>
<line x1="259.65" y1="651.70" x2="259.65" y2="654.70" stroke="#222" stroke-width="1.0" />
<text x="259.65" y="664.00" font-size="7.3" fill="#2a2a2a" text-anchor="middle">D4</text>
<line x1="287.55" y1="651.70" x2="287.55" y2="654.70" stroke="#222" stroke-width="1.0" />
<text x="287.55" y="664.00" font-size="7.3" fill="#2a2a2a" text-anchor="middle">D7</text>
<line x1="315.45" y1="651.70" x2="315.45" y2="654.70" stroke="#222" stroke-width="1.0" />
<text x="315.45" y="664.00" font-size="7.3" fill="#2a2a2a" text-anchor="middle">D9</text>
<line x1="215.80" y1="578.95" x2="219.60" y2="578.95" stroke="#222" stroke-width="1.1" />
<text x="215.60" y="581.45" font-size="7.0" fill="#333" text-anchor="end">10000</text>
<line x1="215.80" y1="593.50" x2="219.60" y2="593.50" stroke="#222" stroke-width="1.1" />
<text x="215.60" y="596.00" font-size="7.0" fill="#333" text-anchor="end">8000</text>
<line x1="215.80" y1="608.05" x2="219.60" y2="608.05" stroke="#222" stroke-width="1.1" />
<text x="215.60" y="610.55" font-size="7.0" fill="#333" text-anchor="end">6000</text>
<line x1="215.80" y1="622.60" x2="219.60" y2="622.60" stroke="#222" stroke-width="1.1" />
<text x="215.60" y="625.10" font-size="7.0" fill="#333" text-anchor="end">4000</text>
<line x1="215.80" y1="637.15" x2="219.60" y2="637.15" stroke="#222" stroke-width="1.1" />
<text x="215.60" y="639.65" font-size="7.0" fill="#333" text-anchor="end">2000</text>
<line x1="215.80" y1="651.70" x2="219.60" y2="651.70" stroke="#222" stroke-width="1.1" />
<text x="215.60" y="654.20" font-size="7.0" fill="#333" text-anchor="end">0</text>
<text x="260.00" y="571.10" font-size="8.6" fill="#1a1a1a" font-style="italic" textLength="28.00" lengthAdjust="spacingAndGlyphs">GATA2</text>
<rect x="272.20" y="584.60" width="4.60" height="4.40" fill="#1c3f72" />
<rect x="272.20" y="594.90" width="4.60" height="4.40" fill="#a8142f" />
<text x="280.40" y="589.20" font-size="7.1" fill="#2a2a2a" textLength="33.40" lengthAdjust="spacingAndGlyphs">KO control</text>
<text x="280.40" y="599.50" font-size="7.1" fill="#2a2a2a" textLength="41.4" lengthAdjust="spacingAndGlyphs">KO <tspan font-style="italic">GATA2AS</tspan></text>
<text transform="translate(188.40,613.70) rotate(-90)" font-size="8.2" fill="#2a2a2a" text-anchor="middle" textLength="56.3" lengthAdjust="spacingAndGlyphs">Normalized count</text>
<text x="354.10" y="560.80" font-size="12" fill="#111" font-weight="bold">E</text>
<rect x="388.10" y="570.40" width="24.83" height="10.48" fill="#f7c4c4" />
<rect x="412.93" y="570.40" width="24.83" height="10.48" fill="#e35c5c" />
<rect x="437.76" y="570.40" width="24.83" height="10.48" fill="#f9cccc" />
<rect x="462.59" y="570.40" width="24.83" height="10.48" fill="#ffffff" />
<rect x="388.10" y="580.88" width="24.83" height="10.48" fill="#f6bcbc" />
<rect x="412.93" y="580.88" width="24.83" height="10.48" fill="#e04c4c" />
<rect x="437.76" y="580.88" width="24.83" height="10.48" fill="#f9cccc" />
<rect x="462.59" y="580.88" width="24.83" height="10.48" fill="#ffffff" />
<rect x="388.10" y="591.36" width="24.83" height="10.48" fill="#f4b2b2" />
<rect x="412.93" y="591.36" width="24.83" height="10.48" fill="#ee9090" />
<rect x="437.76" y="591.36" width="24.83" height="10.48" fill="#f8c4c4" />
<rect x="462.59" y="591.36" width="24.83" height="10.48" fill="#ffffff" />
<rect x="388.10" y="601.84" width="24.83" height="10.48" fill="#f5baba" />
<rect x="412.93" y="601.84" width="24.83" height="10.48" fill="#de1c1c" />
<rect x="437.76" y="601.84" width="24.83" height="10.48" fill="#f7c2c2" />
<rect x="462.59" y="601.84" width="24.83" height="10.48" fill="#ea665e" />
<rect x="388.10" y="612.32" width="24.83" height="10.48" fill="#ffffff" />
<rect x="412.93" y="612.32" width="24.83" height="10.48" fill="#ffffff" />
<rect x="437.76" y="612.32" width="24.83" height="10.48" fill="#34349e" />
<rect x="462.59" y="612.32" width="24.83" height="10.48" fill="#2a2a8e" />
<rect x="388.10" y="622.80" width="24.83" height="10.48" fill="#9494d2" />
<rect x="412.93" y="622.80" width="24.83" height="10.48" fill="#9a9ad4" />
<rect x="437.76" y="622.80" width="24.83" height="10.48" fill="#2a2a8e" />
<rect x="462.59" y="622.80" width="24.83" height="10.48" fill="#2c2c90" />
<rect x="388.10" y="633.28" width="24.83" height="10.48" fill="#ffffff" />
<rect x="412.93" y="633.28" width="24.83" height="10.48" fill="#ffffff" />
<rect x="437.76" y="633.28" width="24.83" height="10.48" fill="#ffffff" />
<rect x="462.59" y="633.28" width="24.83" height="10.48" fill="#c4c4e6" />
<rect x="388.10" y="643.76" width="24.83" height="10.48" fill="#6a6ac2" />
<rect x="412.93" y="643.76" width="24.83" height="10.48" fill="#cfd1ec" />
<rect x="437.76" y="643.76" width="24.83" height="10.48" fill="#cfd1ec" />
<rect x="462.59" y="643.76" width="24.83" height="10.48" fill="#cfd1ec" />
<line x1="388.10" y1="580.88" x2="487.42" y2="580.88" stroke="#b8b8b8" stroke-width="0.7" />
<line x1="388.10" y1="591.36" x2="487.42" y2="591.36" stroke="#b8b8b8" stroke-width="0.7" />
<line x1="388.10" y1="601.84" x2="487.42" y2="601.84" stroke="#b8b8b8" stroke-width="0.7" />
<line x1="388.10" y1="612.32" x2="487.42" y2="612.32" stroke="#b8b8b8" stroke-width="0.7" />
<line x1="388.10" y1="622.80" x2="487.42" y2="622.80" stroke="#b8b8b8" stroke-width="0.7" />
<line x1="388.10" y1="633.28" x2="487.42" y2="633.28" stroke="#b8b8b8" stroke-width="0.7" />
<line x1="388.10" y1="643.76" x2="487.42" y2="643.76" stroke="#b8b8b8" stroke-width="0.7" />
<line x1="412.93" y1="570.40" x2="412.93" y2="654.24" stroke="#b8b8b8" stroke-width="0.7" />
<line x1="437.76" y1="570.40" x2="437.76" y2="654.24" stroke="#b8b8b8" stroke-width="0.7" />
<line x1="462.59" y1="570.40" x2="462.59" y2="654.24" stroke="#b8b8b8" stroke-width="0.7" />
<rect x="388.10" y="570.40" width="99.32" height="83.84" fill="none" stroke="#222" stroke-width="1.1"/>
<circle cx="398.89" cy="575.74" r="1.05" fill="#4a2c2c"/>
<circle cx="402.14" cy="575.74" r="1.05" fill="#4a2c2c"/>
<circle cx="420.47" cy="575.74" r="1.05" fill="#4a2c2c"/>
<circle cx="423.72" cy="575.74" r="1.05" fill="#4a2c2c"/>
<circle cx="426.97" cy="575.74" r="1.05" fill="#4a2c2c"/>
<circle cx="430.22" cy="575.74" r="1.05" fill="#4a2c2c"/>
<circle cx="448.55" cy="575.74" r="1.05" fill="#4a2c2c"/>
<circle cx="451.80" cy="575.74" r="1.05" fill="#4a2c2c"/>
<circle cx="397.27" cy="586.22" r="1.05" fill="#4a2c2c"/>
<circle cx="400.52" cy="586.22" r="1.05" fill="#4a2c2c"/>
<circle cx="403.77" cy="586.22" r="1.05" fill="#4a2c2c"/>
<circle cx="420.47" cy="586.22" r="1.05" fill="#4a2c2c"/>
<circle cx="423.72" cy="586.22" r="1.05" fill="#4a2c2c"/>
<circle cx="426.97" cy="586.22" r="1.05" fill="#4a2c2c"/>
<circle cx="430.22" cy="586.22" r="1.05" fill="#4a2c2c"/>
<circle cx="448.55" cy="586.22" r="1.05" fill="#4a2c2c"/>
<circle cx="451.80" cy="586.22" r="1.05" fill="#4a2c2c"/>
<circle cx="395.64" cy="596.70" r="1.05" fill="#4a2c2c"/>
<circle cx="398.89" cy="596.70" r="1.05" fill="#4a2c2c"/>
<circle cx="402.14" cy="596.70" r="1.05" fill="#4a2c2c"/>
<circle cx="405.39" cy="596.70" r="1.05" fill="#4a2c2c"/>
<circle cx="420.47" cy="596.70" r="1.05" fill="#4a2c2c"/>
<circle cx="423.72" cy="596.70" r="1.05" fill="#4a2c2c"/>
<circle cx="426.97" cy="596.70" r="1.05" fill="#4a2c2c"/>
<circle cx="430.22" cy="596.70" r="1.05" fill="#4a2c2c"/>
<circle cx="446.93" cy="596.70" r="1.05" fill="#4a2c2c"/>
<circle cx="450.18" cy="596.70" r="1.05" fill="#4a2c2c"/>
<circle cx="453.43" cy="596.70" r="1.05" fill="#4a2c2c"/>
<circle cx="395.64" cy="607.18" r="1.05" fill="#4a2c2c"/>
<circle cx="398.89" cy="607.18" r="1.05" fill="#4a2c2c"/>
<circle cx="402.14" cy="607.18" r="1.05" fill="#4a2c2c"/>
<circle cx="405.39" cy="607.18" r="1.05" fill="#4a2c2c"/>
<circle cx="420.47" cy="607.18" r="1.05" fill="#4a2c2c"/>
<circle cx="423.72" cy="607.18" r="1.05" fill="#4a2c2c"/>
<circle cx="426.97" cy="607.18" r="1.05" fill="#4a2c2c"/>
<circle cx="430.22" cy="607.18" r="1.05" fill="#4a2c2c"/>
<circle cx="446.93" cy="607.18" r="1.05" fill="#4a2c2c"/>
<circle cx="450.18" cy="607.18" r="1.05" fill="#4a2c2c"/>
<circle cx="453.43" cy="607.18" r="1.05" fill="#4a2c2c"/>
<circle cx="470.13" cy="607.18" r="1.05" fill="#4a2c2c"/>
<circle cx="473.38" cy="607.18" r="1.05" fill="#4a2c2c"/>
<circle cx="476.63" cy="607.18" r="1.05" fill="#4a2c2c"/>
<circle cx="479.88" cy="607.18" r="1.05" fill="#4a2c2c"/>
<circle cx="448.55" cy="617.66" r="1.05" fill="#e8e8f4"/>
<circle cx="451.80" cy="617.66" r="1.05" fill="#e8e8f4"/>
<circle cx="470.13" cy="617.66" r="1.05" fill="#e8e8f4"/>
<circle cx="473.38" cy="617.66" r="1.05" fill="#e8e8f4"/>
<circle cx="476.63" cy="617.66" r="1.05" fill="#e8e8f4"/>
<circle cx="479.88" cy="617.66" r="1.05" fill="#e8e8f4"/>
<circle cx="400.52" cy="628.14" r="1.05" fill="#4a2c2c"/>
<circle cx="425.35" cy="628.14" r="1.05" fill="#4a2c2c"/>
<circle cx="445.30" cy="628.14" r="1.05" fill="#e8e8f4"/>
<circle cx="448.55" cy="628.14" r="1.05" fill="#e8e8f4"/>
<circle cx="451.80" cy="628.14" r="1.05" fill="#e8e8f4"/>
<circle cx="455.05" cy="628.14" r="1.05" fill="#e8e8f4"/>
<circle cx="470.13" cy="628.14" r="1.05" fill="#e8e8f4"/>
<circle cx="473.38" cy="628.14" r="1.05" fill="#e8e8f4"/>
<circle cx="476.63" cy="628.14" r="1.05" fill="#e8e8f4"/>
<circle cx="479.88" cy="628.14" r="1.05" fill="#e8e8f4"/>
<circle cx="470.13" cy="638.62" r="1.05" fill="#4a2c2c"/>
<circle cx="473.38" cy="638.62" r="1.05" fill="#4a2c2c"/>
<circle cx="476.63" cy="638.62" r="1.05" fill="#4a2c2c"/>
<circle cx="479.88" cy="638.62" r="1.05" fill="#4a2c2c"/>
<circle cx="395.64" cy="649.10" r="1.05" fill="#4a2c2c"/>
<circle cx="398.89" cy="649.10" r="1.05" fill="#4a2c2c"/>
<circle cx="402.14" cy="649.10" r="1.05" fill="#4a2c2c"/>
<circle cx="405.39" cy="649.10" r="1.05" fill="#4a2c2c"/>
<circle cx="423.72" cy="649.10" r="1.05" fill="#4a2c2c"/>
<circle cx="426.97" cy="649.10" r="1.05" fill="#4a2c2c"/>
<circle cx="448.55" cy="649.10" r="1.05" fill="#4a2c2c"/>
<circle cx="451.80" cy="649.10" r="1.05" fill="#4a2c2c"/>
<circle cx="473.38" cy="649.10" r="1.05" fill="#4a2c2c"/>
<circle cx="476.63" cy="649.10" r="1.05" fill="#4a2c2c"/>
<line x1="385.20" y1="575.64" x2="388.10" y2="575.64" stroke="#222" stroke-width="1.0" />
<text x="364.40" y="577.59" font-size="6.8" fill="#222" font-style="italic" textLength="17.40" lengthAdjust="spacingAndGlyphs">HBA1</text>
<line x1="385.20" y1="586.12" x2="388.10" y2="586.12" stroke="#222" stroke-width="1.0" />
<text x="364.20" y="588.07" font-size="6.8" fill="#222" font-style="italic" textLength="17.60" lengthAdjust="spacingAndGlyphs">HBA2</text>
<line x1="385.20" y1="596.60" x2="388.10" y2="596.60" stroke="#222" stroke-width="1.0" />
<text x="368.70" y="598.55" font-size="6.8" fill="#222" font-style="italic" textLength="13.10" lengthAdjust="spacingAndGlyphs">HBB</text>
<line x1="385.20" y1="607.08" x2="388.10" y2="607.08" stroke="#222" stroke-width="1.0" />
<text x="368.10" y="609.03" font-size="6.8" fill="#222" font-style="italic" textLength="13.70" lengthAdjust="spacingAndGlyphs">HBD</text>
<line x1="385.20" y1="617.56" x2="388.10" y2="617.56" stroke="#222" stroke-width="1.0" />
<text x="364.20" y="619.51" font-size="6.8" fill="#222" font-style="italic" textLength="17.60" lengthAdjust="spacingAndGlyphs">HBG1</text>
<line x1="385.20" y1="628.04" x2="388.10" y2="628.04" stroke="#222" stroke-width="1.0" />
<text x="363.90" y="629.99" font-size="6.8" fill="#222" font-style="italic" textLength="17.90" lengthAdjust="spacingAndGlyphs">HBG2</text>
<line x1="385.20" y1="638.52" x2="388.10" y2="638.52" stroke="#222" stroke-width="1.0" />
<text x="360.90" y="640.47" font-size="6.8" fill="#222" font-style="italic" textLength="20.90" lengthAdjust="spacingAndGlyphs">GATA1</text>
<line x1="385.20" y1="649.00" x2="388.10" y2="649.00" stroke="#222" stroke-width="1.0" />
<text x="360.90" y="650.95" font-size="6.8" fill="#222" font-style="italic" textLength="20.90" lengthAdjust="spacingAndGlyphs">GATA2</text>
<line x1="400.52" y1="567.40" x2="400.52" y2="570.40" stroke="#222" stroke-width="0.9" />
<text x="400.52" y="563.00" font-size="7.4" fill="#333" text-anchor="middle">D0</text>
<line x1="425.35" y1="567.40" x2="425.35" y2="570.40" stroke="#222" stroke-width="0.9" />
<text x="425.35" y="563.00" font-size="7.4" fill="#333" text-anchor="middle">D4</text>
<line x1="450.18" y1="567.40" x2="450.18" y2="570.40" stroke="#222" stroke-width="0.9" />
<text x="450.18" y="563.00" font-size="7.4" fill="#333" text-anchor="middle">D7</text>
<line x1="475.01" y1="567.40" x2="475.01" y2="570.40" stroke="#222" stroke-width="0.9" />
<text x="475.01" y="563.00" font-size="7.4" fill="#333" text-anchor="middle">D9</text>
<defs><linearGradient id="cb" x1="0" y1="0" x2="0" y2="1"><stop offset="0" stop-color="#e0101a"/><stop offset="0.17" stop-color="#f08888"/><stop offset="0.36" stop-color="#ffffff"/><stop offset="0.55" stop-color="#c4c4e4"/><stop offset="0.8" stop-color="#5050a8"/><stop offset="1" stop-color="#1c1c74"/></linearGradient></defs>
<rect x="492.3" y="570" width="10.2" height="30.6" fill="url(#cb)" stroke="#222" stroke-width="0.9"/>
<line x1="492.30" y1="574.70" x2="495.30" y2="574.70" stroke="#222" stroke-width="0.9" />
<line x1="499.50" y1="574.70" x2="502.50" y2="574.70" stroke="#222" stroke-width="0.9" />
<text x="512.50" y="577.10" font-size="7" fill="#333" text-anchor="end">1</text>
<line x1="492.30" y1="581.00" x2="495.30" y2="581.00" stroke="#222" stroke-width="0.9" />
<line x1="499.50" y1="581.00" x2="502.50" y2="581.00" stroke="#222" stroke-width="0.9" />
<text x="512.50" y="583.40" font-size="7" fill="#333" text-anchor="end">0</text>
<line x1="492.30" y1="587.70" x2="495.30" y2="587.70" stroke="#222" stroke-width="0.9" />
<line x1="499.50" y1="587.70" x2="502.50" y2="587.70" stroke="#222" stroke-width="0.9" />
<text x="512.50" y="590.10" font-size="7" fill="#333" text-anchor="end">−1</text>
<line x1="492.30" y1="594.00" x2="495.30" y2="594.00" stroke="#222" stroke-width="0.9" />
<line x1="499.50" y1="594.00" x2="502.50" y2="594.00" stroke="#222" stroke-width="0.9" />
<text x="512.50" y="596.40" font-size="7" fill="#333" text-anchor="end">−2</text>
<rect x="0.5" y="0.5" width="519" height="672" fill="none" stroke="#4a4a4a" stroke-width="1"/>
</svg></body></html>
